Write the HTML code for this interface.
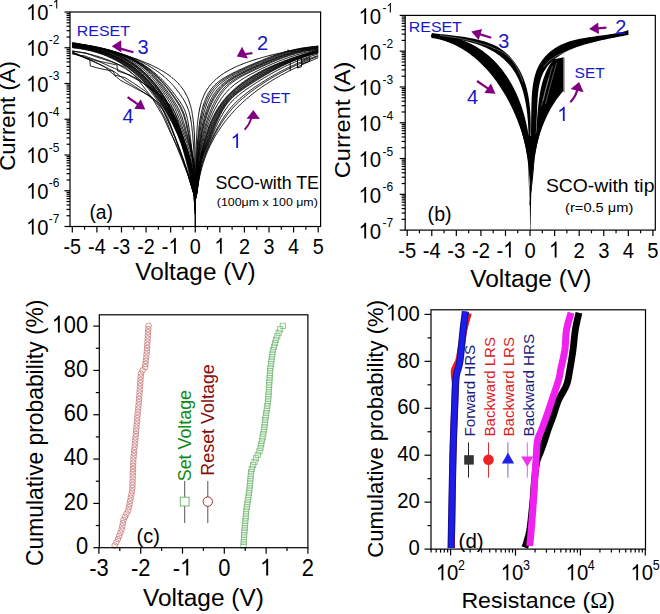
<!DOCTYPE html>
<html><head><meta charset="utf-8"><style>
html,body{margin:0;padding:0;background:#fff;overflow:hidden}
svg{display:block}
text{font-family:"Liberation Sans",sans-serif}
</style></head><body>
<svg width="660" height="614" viewBox="0 0 660 614">
<path d="M72.3 42.4 L73.3 42.6 L74.2 42.8 L75.2 43.0 L76.2 43.2 L77.1 43.4 L78.1 43.6 L79.1 43.8 L80.0 44.0 L81.0 44.2 L82.0 44.4 L82.9 44.6 L83.9 44.8 L84.9 45.0 L85.8 45.2 L86.8 45.4 L87.7 45.6 L88.7 45.8 L89.7 46.0 L90.6 46.2 L91.6 46.5 L92.5 46.7 L93.5 46.9 L94.5 47.1 L95.4 47.3 L96.4 47.6 L97.3 47.8 L98.3 48.0 L99.3 48.2 L100.2 48.5 L101.2 48.7 L102.1 48.9 L103.1 49.2 L104.1 49.4 L105.0 49.6 L106.0 49.9 L106.9 50.1 L107.9 50.4 L108.8 50.6 L109.8 50.9 L110.7 51.1 L111.7 51.4 L112.6 51.6 L113.6 51.9 L114.5 52.1 L115.5 52.4 L116.4 52.7 L117.4 53.0 L118.3 53.2 L119.3 53.5 L120.2 53.8 L121.2 54.1 L122.1 54.3 L123.1 54.6 L124.0 54.9 L124.9 55.2 L125.9 55.5 L126.8 55.8 L127.8 56.1 L128.7 56.4 L129.6 56.7 L130.6 57.0 L131.5 57.3 L132.4 57.6 L133.4 58.0 L134.3 58.3 L135.2 58.6 L136.1 58.9 L137.1 59.3 L138.0 59.6 L138.9 60.0 L139.8 60.3 L140.8 60.7 L141.7 61.0 L142.6 61.4 L143.5 61.7 L144.4 62.1 L145.3 62.5 L146.2 62.9 L147.2 63.3 L148.1 63.7 L149.0 64.1 L149.9 64.5 L150.8 64.9 L151.6 65.3 L152.5 65.7 L153.4 66.1 L154.3 66.6 L155.2 67.0 L156.1 67.4 L156.9 67.9 L157.8 68.4 L158.7 68.8 L159.5 69.3 L160.4 69.8 L161.3 70.3 L162.1 70.8 L163.0 71.3 L163.8 71.8 L164.6 72.3 L165.5 72.8 L166.3 73.4 L167.1 73.9 L167.9 74.5 L168.7 75.1 L169.5 75.7 L170.3 76.2 L171.1 76.8 L171.8 77.5 L172.6 78.1 L173.4 78.7 L174.1 79.4 L174.8 80.0 L175.6 80.7 L176.3 81.4 L177.0 82.1 L177.7 82.8 L178.3 83.5 L179.0 84.2 L179.6 85.0 L180.3 85.7 L180.9 86.5 L181.5 87.3 L182.1 88.0 L182.7 88.8 L183.2 89.7 L183.8 90.5 L184.3 91.3 L184.8 92.1 L185.3 93.0 L185.8 93.9 L186.3 94.7 L186.7 95.6 L187.1 96.5 L187.5 97.4 L187.9 98.3 L188.3 99.2 L188.7 100.1 L189.0 101.1 L189.3 102.0 L189.6 102.9 L189.9 103.9 L190.2 104.8 L190.5 105.7 L190.8 106.7 L191.0 107.6 L191.2 108.6 L191.5 109.6 L191.7 110.5 L191.9 111.5 L192.0 112.5 L192.2 113.4 L192.4 114.4 L192.5 115.4 L192.7 116.3 L192.8 117.3 L193.0 118.3 L193.1 119.3 L193.2 120.3 L193.3 121.2 L193.4 122.2 L193.5 123.2 L193.6 124.2 L193.7 125.2 L193.8 126.1 L193.9 127.1 L193.9 128.1 L194.0 129.1 L194.1 130.1 L194.1 131.1 L194.2 132.0 L194.3 133.0 L194.3 134.0 L194.4 135.0 L194.4 136.0 L194.4 137.0 L194.5 137.9 L194.5 138.9 L194.6 139.9 L194.6 140.9 L194.6 141.9 L194.7 142.9 L194.7 143.8 L194.7 144.8 L194.7 145.8 L194.8 146.8 L194.8 147.8 L194.8 148.8 L194.8 149.8 L194.9 150.7 L194.9 151.7 L194.9 152.7 L194.9 153.7 L194.9 154.7 L194.9 155.7 L195.0 156.7 L195.0 157.6 L195.0 158.6 L195.0 159.6 L195.0 160.6 L195.0 161.6 L195.0 162.6 L195.0 163.5 L195.0 164.5 L195.0 165.5 L195.0 166.5 L195.0 167.5 L195.1 168.5 L195.1 169.5 L195.1 170.4 L195.1 171.4 L195.1 172.4 L195.1 173.4 L195.1 174.4 L195.1 175.4 L195.1 176.4 L195.1 177.3 L195.1 178.3 L195.1 179.3 L195.1 180.3 L195.1 181.3 L195.1 182.3 L195.1 183.3 L195.2 184.2 L195.2 185.2 L195.2 186.2 L195.2 187.2 L195.2 188.2 L195.2 189.2 L195.2 190.1 L195.2 191.1 L195.2 192.1 L195.2 193.1 L195.2 194.1 L195.2 195.1 L195.2 196.1 L195.2 197.0 L195.2 198.0 L195.2 199.0 L195.2 200.0 M72.3 44.0 L73.3 44.1 L74.2 44.2 L75.2 44.3 L76.1 44.4 L77.1 44.6 L78.1 44.7 L79.0 44.8 L80.0 44.9 L80.9 45.1 L81.9 45.2 L82.9 45.3 L83.8 45.5 L84.8 45.6 L85.7 45.7 L86.7 45.9 L87.6 46.0 L88.6 46.2 L89.5 46.3 L90.5 46.5 L91.4 46.7 L92.4 46.8 L93.4 47.0 L94.3 47.2 L95.3 47.3 L96.2 47.5 L97.2 47.7 L98.1 47.9 L99.1 48.1 L100.0 48.3 L100.9 48.5 L101.9 48.7 L102.8 48.9 L103.8 49.1 L104.7 49.3 L105.7 49.5 L106.6 49.7 L107.5 50.0 L108.5 50.2 L109.4 50.4 L110.4 50.7 L111.3 50.9 L112.2 51.2 L113.2 51.4 L114.1 51.6 L115.0 51.9 L116.0 52.2 L116.9 52.5 L117.8 52.7 L118.7 53.0 L119.7 53.3 L120.6 53.6 L121.5 53.9 L122.4 54.2 L123.4 54.5 L124.3 54.8 L125.2 55.1 L126.1 55.4 L127.0 55.7 L127.9 56.1 L128.8 56.4 L129.7 56.8 L130.6 57.1 L131.5 57.5 L132.4 57.8 L133.3 58.2 L134.2 58.6 L135.1 58.9 L136.0 59.3 L136.9 59.7 L137.7 60.1 L138.6 60.5 L139.5 60.9 L140.4 61.4 L141.2 61.8 L142.1 62.2 L143.0 62.6 L143.8 63.1 L144.7 63.5 L145.5 64.0 L146.4 64.5 L147.2 64.9 L148.1 65.4 L148.9 65.9 L149.7 66.4 L150.6 66.9 L151.4 67.4 L152.2 67.9 L153.0 68.4 L153.8 68.9 L154.6 69.5 L155.4 70.0 L156.2 70.6 L157.0 71.1 L157.8 71.7 L158.6 72.3 L159.4 72.8 L160.2 73.4 L160.9 74.0 L161.7 74.6 L162.4 75.2 L163.2 75.8 L163.9 76.4 L164.6 77.1 L165.4 77.7 L166.1 78.4 L166.8 79.0 L167.5 79.7 L168.2 80.3 L168.9 81.0 L169.6 81.7 L170.3 82.4 L170.9 83.1 L171.6 83.8 L172.3 84.5 L172.9 85.2 L173.6 85.9 L174.2 86.7 L174.8 87.4 L175.4 88.1 L176.0 88.9 L176.6 89.7 L177.2 90.4 L177.8 91.2 L178.4 92.0 L179.0 92.7 L179.5 93.5 L180.1 94.3 L180.6 95.1 L181.2 95.9 L181.7 96.7 L182.2 97.5 L182.8 98.3 L183.3 99.2 L183.8 100.0 L184.3 100.8 L184.7 101.7 L185.2 102.5 L185.6 103.4 L186.1 104.3 L186.5 105.1 L186.9 106.0 L187.3 106.9 L187.6 107.8 L188.0 108.7 L188.3 109.6 L188.6 110.5 L188.9 111.4 L189.2 112.4 L189.4 113.3 L189.7 114.2 L189.9 115.2 L190.1 116.1 L190.3 117.1 L190.5 118.0 L190.7 119.0 L190.8 119.9 L191.0 120.9 L191.1 121.8 L191.3 122.8 L191.4 123.7 L191.5 124.7 L191.7 125.7 L191.8 126.6 L191.9 127.6 L192.0 128.5 L192.1 129.5 L192.2 130.5 L192.3 131.4 L192.4 132.4 L192.5 133.4 L192.6 134.3 L192.7 135.3 L192.8 136.2 L192.8 137.2 L192.9 138.2 L193.0 139.1 L193.1 140.1 L193.1 141.1 L193.2 142.0 L193.3 143.0 L193.4 144.0 L193.4 144.9 L193.5 145.9 L193.5 146.9 L193.6 147.8 L193.6 148.8 L193.7 149.7 L193.8 150.7 L193.8 151.7 L193.9 152.6 L193.9 153.6 L194.0 154.6 L194.0 155.5 L194.0 156.5 L194.1 157.5 L194.1 158.4 L194.2 159.4 L194.2 160.4 L194.2 161.3 L194.3 162.3 L194.3 163.3 L194.3 164.2 L194.4 165.2 L194.4 166.2 L194.4 167.1 L194.5 168.1 L194.5 169.1 L194.5 170.0 L194.6 171.0 L194.6 172.0 L194.6 172.9 L194.6 173.9 L194.7 174.9 L194.7 175.8 L194.7 176.8 L194.7 177.8 L194.7 178.7 L194.8 179.7 L194.8 180.7 L194.8 181.6 L194.8 182.6 L194.8 183.6 L194.8 184.5 L194.9 185.5 L194.9 186.5 L194.9 187.4 L194.9 188.4 L194.9 189.4 L194.9 190.3 L195.0 191.3 L195.0 192.3 L195.0 193.2 L195.0 194.2 L195.0 195.2 L195.1 196.1 L195.1 197.1 L195.2 198.1 L195.2 199.0 L195.2 200.0 M72.3 43.3 L73.2 43.4 L74.2 43.5 L75.1 43.6 L76.1 43.7 L77.0 43.8 L78.0 43.9 L78.9 44.1 L79.9 44.2 L80.8 44.3 L81.8 44.4 L82.7 44.6 L83.7 44.7 L84.6 44.8 L85.5 45.0 L86.5 45.1 L87.4 45.3 L88.4 45.4 L89.3 45.6 L90.2 45.7 L91.2 45.9 L92.1 46.1 L93.1 46.2 L94.0 46.4 L94.9 46.6 L95.9 46.8 L96.8 47.0 L97.7 47.2 L98.7 47.4 L99.6 47.6 L100.5 47.8 L101.5 48.0 L102.4 48.2 L103.3 48.4 L104.2 48.6 L105.2 48.9 L106.1 49.1 L107.0 49.3 L107.9 49.6 L108.9 49.8 L109.8 50.1 L110.7 50.4 L111.6 50.6 L112.5 50.9 L113.4 51.2 L114.3 51.4 L115.3 51.7 L116.2 52.0 L117.1 52.3 L118.0 52.6 L118.9 52.9 L119.8 53.3 L120.7 53.6 L121.6 53.9 L122.5 54.2 L123.3 54.6 L124.2 55.0 L125.1 55.3 L126.0 55.7 L126.9 56.0 L127.7 56.4 L128.6 56.8 L129.5 57.2 L130.4 57.6 L131.2 58.0 L132.1 58.4 L133.0 58.8 L133.8 59.2 L134.7 59.6 L135.5 60.1 L136.3 60.5 L137.2 61.0 L138.0 61.4 L138.9 61.9 L139.7 62.4 L140.5 62.8 L141.3 63.3 L142.1 63.8 L143.0 64.3 L143.8 64.8 L144.6 65.3 L145.4 65.9 L146.2 66.4 L146.9 66.9 L147.7 67.5 L148.5 68.0 L149.3 68.6 L150.0 69.2 L150.8 69.7 L151.6 70.3 L152.3 70.9 L153.1 71.5 L153.8 72.1 L154.5 72.7 L155.3 73.3 L156.0 73.9 L156.7 74.6 L157.4 75.2 L158.1 75.8 L158.8 76.5 L159.5 77.1 L160.2 77.8 L160.9 78.5 L161.6 79.1 L162.2 79.8 L162.9 80.5 L163.6 81.2 L164.2 81.9 L164.9 82.6 L165.5 83.3 L166.2 84.0 L166.8 84.7 L167.4 85.4 L168.0 86.1 L168.7 86.9 L169.3 87.6 L169.9 88.3 L170.5 89.1 L171.1 89.8 L171.7 90.5 L172.3 91.3 L172.8 92.0 L173.4 92.8 L174.0 93.6 L174.6 94.3 L175.2 95.1 L175.7 95.8 L176.3 96.6 L176.9 97.4 L177.4 98.1 L178.0 98.9 L178.6 99.7 L179.1 100.5 L179.6 101.2 L180.2 102.0 L180.7 102.8 L181.2 103.6 L181.7 104.4 L182.2 105.3 L182.7 106.1 L183.1 106.9 L183.6 107.8 L184.0 108.6 L184.4 109.5 L184.8 110.4 L185.1 111.3 L185.4 112.2 L185.8 113.1 L186.0 114.0 L186.3 114.9 L186.6 115.8 L186.8 116.7 L187.1 117.6 L187.3 118.6 L187.5 119.5 L187.7 120.4 L187.9 121.4 L188.1 122.3 L188.2 123.2 L188.4 124.2 L188.6 125.1 L188.7 126.1 L188.9 127.0 L189.0 127.9 L189.1 128.9 L189.3 129.8 L189.4 130.8 L189.6 131.7 L189.7 132.7 L189.8 133.6 L189.9 134.5 L190.1 135.5 L190.2 136.4 L190.3 137.4 L190.4 138.3 L190.6 139.3 L190.7 140.2 L190.8 141.2 L190.9 142.1 L191.0 143.1 L191.2 144.0 L191.3 144.9 L191.4 145.9 L191.5 146.8 L191.7 147.8 L191.8 148.7 L191.9 149.7 L192.1 150.6 L192.2 151.6 L192.3 152.5 L192.5 153.4 L192.6 154.4 L192.7 155.3 L192.9 156.3 L193.0 157.2 L193.2 158.2 L193.3 159.1 L193.5 160.0 L193.6 161.0 L193.8 161.9 L193.9 162.9 L194.0 163.8 L194.2 164.8 L194.3 165.7 L194.4 166.7 L194.4 167.6 L194.5 168.6 L194.6 169.5 L194.6 170.5 L194.7 171.4 L194.7 172.4 L194.7 173.3 L194.7 174.3 L194.8 175.2 L194.8 176.2 L194.8 177.1 L194.8 178.1 L194.8 179.0 L194.9 180.0 L194.9 180.9 L194.9 181.9 L194.9 182.8 L194.9 183.8 L194.9 184.8 L194.9 185.7 L194.9 186.7 L194.9 187.6 L195.0 188.6 L195.0 189.5 L195.0 190.5 L195.0 191.4 L195.0 192.4 L195.0 193.3 L195.0 194.3 L195.0 195.2 L195.1 196.2 L195.1 197.1 L195.2 198.1 L195.2 199.0 L195.2 200.0 M72.3 43.7 L73.2 43.8 L74.2 43.9 L75.1 44.0 L76.1 44.1 L77.0 44.2 L78.0 44.3 L78.9 44.5 L79.8 44.6 L80.8 44.7 L81.7 44.8 L82.7 44.9 L83.6 45.1 L84.5 45.2 L85.5 45.3 L86.4 45.5 L87.3 45.6 L88.3 45.8 L89.2 45.9 L90.2 46.0 L91.1 46.2 L92.0 46.4 L93.0 46.5 L93.9 46.7 L94.8 46.9 L95.7 47.1 L96.7 47.2 L97.6 47.4 L98.5 47.6 L99.5 47.8 L100.4 48.0 L101.3 48.2 L102.2 48.4 L103.2 48.7 L104.1 48.9 L105.0 49.1 L105.9 49.3 L106.8 49.6 L107.8 49.8 L108.7 50.1 L109.6 50.3 L110.5 50.6 L111.4 50.8 L112.3 51.1 L113.2 51.4 L114.1 51.6 L115.0 51.9 L115.9 52.2 L116.8 52.5 L117.7 52.8 L118.6 53.1 L119.5 53.5 L120.4 53.8 L121.3 54.1 L122.2 54.4 L123.1 54.8 L123.9 55.1 L124.8 55.5 L125.7 55.9 L126.6 56.2 L127.4 56.6 L128.3 57.0 L129.2 57.4 L130.0 57.8 L130.9 58.2 L131.7 58.6 L132.6 59.0 L133.4 59.5 L134.3 59.9 L135.1 60.3 L135.9 60.8 L136.8 61.2 L137.6 61.7 L138.4 62.2 L139.2 62.7 L140.0 63.2 L140.9 63.6 L141.7 64.1 L142.5 64.7 L143.2 65.2 L144.0 65.7 L144.8 66.2 L145.6 66.8 L146.4 67.3 L147.1 67.9 L147.9 68.5 L148.6 69.0 L149.4 69.6 L150.1 70.2 L150.9 70.8 L151.6 71.4 L152.3 72.0 L153.0 72.6 L153.8 73.2 L154.5 73.9 L155.2 74.5 L155.9 75.1 L156.6 75.8 L157.2 76.4 L157.9 77.1 L158.6 77.8 L159.3 78.4 L159.9 79.1 L160.6 79.8 L161.2 80.5 L161.9 81.2 L162.5 81.9 L163.1 82.6 L163.8 83.3 L164.4 84.0 L165.0 84.7 L165.6 85.5 L166.2 86.2 L166.8 86.9 L167.4 87.6 L168.0 88.4 L168.6 89.1 L169.2 89.9 L169.8 90.6 L170.3 91.4 L170.9 92.1 L171.5 92.9 L172.0 93.7 L172.6 94.4 L173.2 95.2 L173.7 95.9 L174.3 96.7 L174.8 97.5 L175.4 98.3 L175.9 99.0 L176.5 99.8 L177.0 100.6 L177.5 101.4 L178.1 102.2 L178.6 103.0 L179.1 103.8 L179.6 104.6 L180.1 105.4 L180.5 106.2 L181.0 107.0 L181.4 107.9 L181.8 108.7 L182.2 109.6 L182.6 110.4 L183.0 111.3 L183.3 112.2 L183.7 113.1 L184.0 114.0 L184.3 114.9 L184.6 115.8 L184.9 116.7 L185.1 117.6 L185.4 118.5 L185.7 119.4 L185.9 120.3 L186.1 121.2 L186.3 122.2 L186.5 123.1 L186.8 124.0 L187.0 124.9 L187.2 125.9 L187.4 126.8 L187.5 127.7 L187.7 128.6 L187.9 129.6 L188.1 130.5 L188.3 131.4 L188.5 132.3 L188.6 133.3 L188.8 134.2 L189.0 135.1 L189.2 136.0 L189.3 137.0 L189.5 137.9 L189.7 138.8 L189.8 139.8 L190.0 140.7 L190.2 141.6 L190.3 142.5 L190.5 143.5 L190.7 144.4 L190.8 145.3 L191.0 146.3 L191.1 147.2 L191.3 148.1 L191.4 149.1 L191.6 150.0 L191.8 150.9 L191.9 151.9 L192.1 152.8 L192.2 153.7 L192.4 154.7 L192.5 155.6 L192.7 156.5 L192.8 157.5 L193.0 158.4 L193.1 159.3 L193.3 160.3 L193.4 161.2 L193.6 162.2 L193.7 163.1 L193.8 164.0 L194.0 165.0 L194.1 165.9 L194.2 166.9 L194.2 167.8 L194.3 168.7 L194.4 169.7 L194.4 170.6 L194.5 171.6 L194.5 172.5 L194.6 173.5 L194.6 174.4 L194.6 175.4 L194.7 176.3 L194.7 177.3 L194.7 178.2 L194.7 179.2 L194.8 180.1 L194.8 181.1 L194.8 182.0 L194.8 183.0 L194.8 183.9 L194.8 184.8 L194.9 185.8 L194.9 186.7 L194.9 187.7 L194.9 188.6 L194.9 189.6 L194.9 190.5 L194.9 191.5 L194.9 192.4 L194.9 193.4 L194.9 194.3 L195.0 195.3 L195.0 196.2 L195.1 197.2 L195.1 198.1 L195.2 199.1 L195.2 200.0 M72.3 43.9 L73.2 44.0 L74.2 44.1 L75.1 44.2 L76.1 44.3 L77.0 44.4 L77.9 44.5 L78.9 44.6 L79.8 44.7 L80.8 44.9 L81.7 45.0 L82.6 45.1 L83.6 45.2 L84.5 45.3 L85.4 45.5 L86.4 45.6 L87.3 45.8 L88.2 45.9 L89.2 46.0 L90.1 46.2 L91.0 46.4 L92.0 46.5 L92.9 46.7 L93.8 46.8 L94.8 47.0 L95.7 47.2 L96.6 47.4 L97.5 47.6 L98.5 47.7 L99.4 47.9 L100.3 48.1 L101.2 48.3 L102.2 48.5 L103.1 48.8 L104.0 49.0 L104.9 49.2 L105.8 49.4 L106.8 49.7 L107.7 49.9 L108.6 50.1 L109.5 50.4 L110.4 50.7 L111.3 50.9 L112.2 51.2 L113.1 51.5 L114.0 51.7 L114.9 52.0 L115.8 52.3 L116.7 52.6 L117.6 52.9 L118.5 53.2 L119.4 53.5 L120.3 53.9 L121.2 54.2 L122.1 54.5 L122.9 54.9 L123.8 55.2 L124.7 55.6 L125.6 55.9 L126.4 56.3 L127.3 56.7 L128.2 57.1 L129.0 57.5 L129.9 57.9 L130.7 58.3 L131.6 58.7 L132.4 59.1 L133.3 59.6 L134.1 60.0 L134.9 60.4 L135.8 60.9 L136.6 61.4 L137.4 61.8 L138.2 62.3 L139.0 62.8 L139.8 63.3 L140.6 63.8 L141.4 64.3 L142.2 64.8 L143.0 65.3 L143.8 65.9 L144.6 66.4 L145.3 67.0 L146.1 67.5 L146.9 68.1 L147.6 68.7 L148.4 69.2 L149.1 69.8 L149.8 70.4 L150.6 71.0 L151.3 71.6 L152.0 72.2 L152.7 72.9 L153.4 73.5 L154.1 74.1 L154.8 74.8 L155.5 75.4 L156.2 76.1 L156.8 76.7 L157.5 77.4 L158.2 78.1 L158.8 78.7 L159.5 79.4 L160.1 80.1 L160.8 80.8 L161.4 81.5 L162.0 82.2 L162.7 82.9 L163.3 83.6 L163.9 84.3 L164.5 85.1 L165.1 85.8 L165.7 86.5 L166.3 87.3 L166.9 88.0 L167.5 88.7 L168.0 89.5 L168.6 90.2 L169.2 91.0 L169.7 91.8 L170.3 92.5 L170.9 93.3 L171.4 94.0 L172.0 94.8 L172.5 95.6 L173.1 96.3 L173.6 97.1 L174.2 97.9 L174.7 98.6 L175.3 99.4 L175.8 100.2 L176.3 101.0 L176.8 101.8 L177.3 102.6 L177.9 103.4 L178.3 104.2 L178.8 105.0 L179.3 105.8 L179.8 106.6 L180.2 107.5 L180.6 108.3 L181.0 109.1 L181.4 110.0 L181.8 110.9 L182.2 111.7 L182.6 112.6 L182.9 113.5 L183.2 114.4 L183.5 115.3 L183.8 116.2 L184.1 117.1 L184.4 118.0 L184.7 118.9 L184.9 119.8 L185.2 120.7 L185.4 121.6 L185.6 122.5 L185.9 123.4 L186.1 124.4 L186.3 125.3 L186.5 126.2 L186.7 127.1 L187.0 128.0 L187.2 128.9 L187.4 129.9 L187.6 130.8 L187.8 131.7 L188.0 132.6 L188.2 133.5 L188.4 134.4 L188.6 135.4 L188.7 136.3 L188.9 137.2 L189.1 138.1 L189.3 139.0 L189.5 140.0 L189.7 140.9 L189.9 141.8 L190.1 142.7 L190.2 143.7 L190.4 144.6 L190.6 145.5 L190.8 146.4 L191.0 147.4 L191.1 148.3 L191.3 149.2 L191.5 150.1 L191.6 151.1 L191.8 152.0 L191.9 152.9 L192.1 153.9 L192.3 154.8 L192.4 155.7 L192.6 156.7 L192.7 157.6 L192.9 158.5 L193.0 159.5 L193.2 160.4 L193.3 161.3 L193.5 162.3 L193.6 163.2 L193.7 164.1 L193.9 165.1 L194.0 166.0 L194.1 167.0 L194.2 167.9 L194.2 168.8 L194.3 169.8 L194.4 170.7 L194.4 171.7 L194.4 172.6 L194.5 173.6 L194.5 174.5 L194.6 175.4 L194.6 176.4 L194.6 177.3 L194.7 178.3 L194.7 179.2 L194.7 180.2 L194.7 181.1 L194.7 182.1 L194.8 183.0 L194.8 183.9 L194.8 184.9 L194.8 185.8 L194.8 186.8 L194.8 187.7 L194.9 188.7 L194.9 189.6 L194.9 190.6 L194.9 191.5 L194.9 192.4 L194.9 193.4 L194.9 194.3 L195.0 195.3 L195.0 196.2 L195.1 197.2 L195.1 198.1 L195.2 199.1 L195.2 200.0 M72.3 44.4 L73.2 44.5 L74.2 44.6 L75.1 44.7 L76.0 44.8 L77.0 44.9 L77.9 45.0 L78.8 45.1 L79.8 45.2 L80.7 45.3 L81.6 45.4 L82.6 45.5 L83.5 45.6 L84.4 45.7 L85.4 45.9 L86.3 46.0 L87.2 46.1 L88.2 46.3 L89.1 46.4 L90.0 46.5 L90.9 46.7 L91.9 46.8 L92.8 47.0 L93.7 47.1 L94.6 47.3 L95.6 47.5 L96.5 47.7 L97.4 47.8 L98.3 48.0 L99.3 48.2 L100.2 48.4 L101.1 48.6 L102.0 48.8 L102.9 49.0 L103.8 49.2 L104.8 49.4 L105.7 49.7 L106.6 49.9 L107.5 50.1 L108.4 50.4 L109.3 50.6 L110.2 50.9 L111.1 51.1 L112.0 51.4 L112.9 51.7 L113.8 51.9 L114.7 52.2 L115.6 52.5 L116.5 52.8 L117.4 53.1 L118.3 53.4 L119.1 53.7 L120.0 54.1 L120.9 54.4 L121.8 54.7 L122.7 55.1 L123.5 55.4 L124.4 55.8 L125.3 56.2 L126.1 56.5 L127.0 56.9 L127.8 57.3 L128.7 57.7 L129.5 58.1 L130.4 58.5 L131.2 59.0 L132.0 59.4 L132.9 59.8 L133.7 60.3 L134.5 60.7 L135.3 61.2 L136.1 61.7 L137.0 62.1 L137.8 62.6 L138.6 63.1 L139.3 63.6 L140.1 64.1 L140.9 64.6 L141.7 65.2 L142.5 65.7 L143.2 66.3 L144.0 66.8 L144.7 67.4 L145.5 67.9 L146.2 68.5 L146.9 69.1 L147.7 69.7 L148.4 70.3 L149.1 70.9 L149.8 71.5 L150.5 72.2 L151.2 72.8 L151.9 73.4 L152.6 74.1 L153.3 74.7 L153.9 75.4 L154.6 76.0 L155.2 76.7 L155.9 77.4 L156.5 78.1 L157.2 78.7 L157.8 79.4 L158.4 80.1 L159.1 80.8 L159.7 81.6 L160.3 82.3 L160.9 83.0 L161.5 83.7 L162.1 84.4 L162.7 85.2 L163.3 85.9 L163.8 86.6 L164.4 87.4 L165.0 88.1 L165.5 88.9 L166.1 89.6 L166.7 90.4 L167.2 91.1 L167.8 91.9 L168.3 92.6 L168.9 93.4 L169.4 94.2 L169.9 94.9 L170.5 95.7 L171.0 96.5 L171.5 97.3 L172.1 98.0 L172.6 98.8 L173.1 99.6 L173.6 100.4 L174.1 101.2 L174.6 102.0 L175.1 102.8 L175.6 103.6 L176.1 104.4 L176.6 105.2 L177.0 106.0 L177.5 106.8 L177.9 107.6 L178.4 108.5 L178.8 109.3 L179.2 110.2 L179.6 111.0 L179.9 111.9 L180.3 112.7 L180.7 113.6 L181.0 114.5 L181.3 115.4 L181.7 116.3 L182.0 117.1 L182.3 118.0 L182.6 118.9 L182.9 119.8 L183.1 120.7 L183.4 121.6 L183.7 122.5 L184.0 123.4 L184.2 124.3 L184.5 125.2 L184.8 126.1 L185.0 127.0 L185.3 127.9 L185.5 128.8 L185.8 129.7 L186.0 130.6 L186.3 131.5 L186.5 132.4 L186.8 133.3 L187.0 134.2 L187.3 135.1 L187.5 136.0 L187.8 136.9 L188.0 137.8 L188.2 138.7 L188.5 139.6 L188.7 140.5 L189.0 141.4 L189.2 142.3 L189.4 143.2 L189.6 144.1 L189.9 145.0 L190.1 145.9 L190.3 146.8 L190.5 147.8 L190.7 148.7 L190.9 149.6 L191.1 150.5 L191.3 151.4 L191.5 152.3 L191.7 153.3 L191.9 154.2 L192.0 155.1 L192.2 156.0 L192.4 157.0 L192.5 157.9 L192.7 158.8 L192.8 159.7 L193.0 160.7 L193.1 161.6 L193.3 162.5 L193.4 163.4 L193.5 164.4 L193.6 165.3 L193.8 166.2 L193.9 167.2 L193.9 168.1 L194.0 169.0 L194.1 170.0 L194.2 170.9 L194.2 171.9 L194.3 172.8 L194.3 173.7 L194.4 174.7 L194.4 175.6 L194.5 176.5 L194.5 177.5 L194.5 178.4 L194.6 179.4 L194.6 180.3 L194.6 181.2 L194.6 182.2 L194.7 183.1 L194.7 184.1 L194.7 185.0 L194.7 185.9 L194.8 186.9 L194.8 187.8 L194.8 188.7 L194.8 189.7 L194.8 190.6 L194.8 191.6 L194.8 192.5 L194.9 193.4 L194.9 194.4 L194.9 195.3 L195.0 196.3 L195.0 197.2 L195.1 198.1 L195.2 199.1 L195.2 200.0 M72.3 44.8 L73.2 44.8 L74.2 44.9 L75.1 45.0 L76.0 45.1 L77.0 45.2 L77.9 45.3 L78.8 45.4 L79.7 45.5 L80.7 45.6 L81.6 45.7 L82.5 45.8 L83.5 45.9 L84.4 46.0 L85.3 46.1 L86.2 46.2 L87.2 46.4 L88.1 46.5 L89.0 46.6 L89.9 46.8 L90.9 46.9 L91.8 47.1 L92.7 47.2 L93.6 47.4 L94.6 47.5 L95.5 47.7 L96.4 47.9 L97.3 48.0 L98.2 48.2 L99.2 48.4 L100.1 48.6 L101.0 48.8 L101.9 49.0 L102.8 49.2 L103.7 49.4 L104.6 49.6 L105.5 49.8 L106.4 50.1 L107.3 50.3 L108.3 50.5 L109.2 50.8 L110.1 51.0 L111.0 51.3 L111.9 51.6 L112.7 51.8 L113.6 52.1 L114.5 52.4 L115.4 52.7 L116.3 53.0 L117.2 53.3 L118.1 53.6 L119.0 53.9 L119.8 54.2 L120.7 54.6 L121.6 54.9 L122.4 55.2 L123.3 55.6 L124.2 56.0 L125.0 56.3 L125.9 56.7 L126.7 57.1 L127.6 57.5 L128.4 57.9 L129.3 58.3 L130.1 58.7 L130.9 59.1 L131.8 59.6 L132.6 60.0 L133.4 60.5 L134.2 60.9 L135.0 61.4 L135.8 61.9 L136.6 62.3 L137.4 62.8 L138.2 63.3 L139.0 63.9 L139.8 64.4 L140.6 64.9 L141.3 65.4 L142.1 66.0 L142.8 66.5 L143.6 67.1 L144.3 67.7 L145.0 68.2 L145.8 68.8 L146.5 69.4 L147.2 70.0 L147.9 70.6 L148.6 71.3 L149.3 71.9 L150.0 72.5 L150.7 73.2 L151.3 73.8 L152.0 74.5 L152.7 75.1 L153.3 75.8 L154.0 76.5 L154.6 77.2 L155.2 77.8 L155.9 78.5 L156.5 79.2 L157.1 79.9 L157.7 80.6 L158.3 81.3 L158.9 82.1 L159.5 82.8 L160.1 83.5 L160.7 84.2 L161.3 85.0 L161.8 85.7 L162.4 86.5 L163.0 87.2 L163.5 87.9 L164.1 88.7 L164.6 89.5 L165.2 90.2 L165.7 91.0 L166.3 91.7 L166.8 92.5 L167.3 93.3 L167.9 94.0 L168.4 94.8 L168.9 95.6 L169.4 96.4 L170.0 97.1 L170.5 97.9 L171.0 98.7 L171.5 99.5 L172.0 100.3 L172.5 101.0 L173.0 101.8 L173.5 102.6 L174.0 103.4 L174.4 104.2 L174.9 105.0 L175.4 105.9 L175.8 106.7 L176.2 107.5 L176.7 108.3 L177.1 109.2 L177.5 110.0 L177.9 110.9 L178.3 111.7 L178.6 112.6 L179.0 113.5 L179.3 114.3 L179.7 115.2 L180.0 116.1 L180.4 116.9 L180.7 117.8 L181.0 118.7 L181.3 119.6 L181.6 120.5 L181.9 121.3 L182.2 122.2 L182.5 123.1 L182.8 124.0 L183.1 124.9 L183.4 125.8 L183.7 126.6 L184.0 127.5 L184.3 128.4 L184.5 129.3 L184.8 130.2 L185.1 131.1 L185.4 132.0 L185.7 132.9 L186.0 133.7 L186.2 134.6 L186.5 135.5 L186.8 136.4 L187.1 137.3 L187.4 138.2 L187.6 139.1 L187.9 140.0 L188.2 140.9 L188.4 141.7 L188.7 142.6 L189.0 143.5 L189.2 144.4 L189.5 145.3 L189.7 146.2 L190.0 147.1 L190.2 148.0 L190.4 148.9 L190.6 149.8 L190.9 150.8 L191.1 151.7 L191.3 152.6 L191.5 153.5 L191.7 154.4 L191.9 155.3 L192.0 156.2 L192.2 157.2 L192.4 158.1 L192.5 159.0 L192.7 159.9 L192.8 160.8 L193.0 161.8 L193.1 162.7 L193.3 163.6 L193.4 164.5 L193.5 165.5 L193.6 166.4 L193.7 167.3 L193.8 168.3 L193.9 169.2 L194.0 170.1 L194.0 171.1 L194.1 172.0 L194.1 172.9 L194.2 173.9 L194.3 174.8 L194.3 175.7 L194.4 176.7 L194.4 177.6 L194.4 178.5 L194.5 179.5 L194.5 180.4 L194.5 181.3 L194.6 182.3 L194.6 183.2 L194.6 184.1 L194.6 185.1 L194.7 186.0 L194.7 186.9 L194.7 187.9 L194.7 188.8 L194.8 189.7 L194.8 190.7 L194.8 191.6 L194.8 192.5 L194.8 193.5 L194.8 194.4 L194.9 195.3 L194.9 196.3 L195.0 197.2 L195.1 198.1 L195.2 199.1 L195.2 200.0 M72.3 45.2 L73.2 45.2 L74.2 45.3 L75.1 45.4 L76.0 45.5 L76.9 45.5 L77.9 45.6 L78.8 45.7 L79.7 45.8 L80.6 45.9 L81.6 46.0 L82.5 46.1 L83.4 46.2 L84.3 46.3 L85.3 46.4 L86.2 46.6 L87.1 46.7 L88.0 46.8 L88.9 46.9 L89.9 47.1 L90.8 47.2 L91.7 47.3 L92.6 47.5 L93.5 47.6 L94.5 47.8 L95.4 47.9 L96.3 48.1 L97.2 48.3 L98.1 48.4 L99.0 48.6 L99.9 48.8 L100.9 49.0 L101.8 49.2 L102.7 49.4 L103.6 49.6 L104.5 49.8 L105.4 50.0 L106.3 50.3 L107.2 50.5 L108.1 50.7 L109.0 51.0 L109.9 51.2 L110.8 51.5 L111.7 51.7 L112.6 52.0 L113.5 52.3 L114.3 52.5 L115.2 52.8 L116.1 53.1 L117.0 53.4 L117.9 53.7 L118.7 54.1 L119.6 54.4 L120.5 54.7 L121.3 55.1 L122.2 55.4 L123.1 55.8 L123.9 56.1 L124.8 56.5 L125.6 56.9 L126.5 57.3 L127.3 57.7 L128.1 58.1 L129.0 58.5 L129.8 58.9 L130.6 59.3 L131.5 59.8 L132.3 60.2 L133.1 60.7 L133.9 61.1 L134.7 61.6 L135.5 62.1 L136.3 62.6 L137.0 63.1 L137.8 63.6 L138.6 64.1 L139.4 64.6 L140.1 65.2 L140.9 65.7 L141.6 66.3 L142.4 66.8 L143.1 67.4 L143.8 68.0 L144.5 68.6 L145.2 69.2 L145.9 69.8 L146.6 70.4 L147.3 71.0 L148.0 71.7 L148.7 72.3 L149.4 73.0 L150.0 73.6 L150.7 74.3 L151.3 74.9 L152.0 75.6 L152.6 76.3 L153.2 77.0 L153.8 77.7 L154.5 78.4 L155.1 79.1 L155.7 79.8 L156.3 80.5 L156.9 81.2 L157.4 81.9 L158.0 82.7 L158.6 83.4 L159.2 84.1 L159.7 84.9 L160.3 85.6 L160.8 86.4 L161.4 87.1 L161.9 87.9 L162.5 88.6 L163.0 89.4 L163.5 90.2 L164.1 90.9 L164.6 91.7 L165.1 92.5 L165.6 93.2 L166.2 94.0 L166.7 94.8 L167.2 95.5 L167.7 96.3 L168.2 97.1 L168.7 97.9 L169.2 98.7 L169.7 99.4 L170.2 100.2 L170.7 101.0 L171.2 101.8 L171.7 102.6 L172.1 103.4 L172.6 104.2 L173.0 105.0 L173.5 105.9 L173.9 106.7 L174.4 107.5 L174.8 108.3 L175.2 109.2 L175.6 110.0 L176.0 110.9 L176.3 111.7 L176.7 112.6 L177.1 113.4 L177.4 114.3 L177.8 115.1 L178.1 116.0 L178.5 116.9 L178.8 117.7 L179.2 118.6 L179.5 119.5 L179.8 120.3 L180.1 121.2 L180.5 122.1 L180.8 122.9 L181.1 123.8 L181.4 124.7 L181.8 125.6 L182.1 126.4 L182.4 127.3 L182.7 128.2 L183.1 129.1 L183.4 129.9 L183.7 130.8 L184.0 131.7 L184.4 132.5 L184.7 133.4 L185.0 134.3 L185.3 135.2 L185.6 136.0 L186.0 136.9 L186.3 137.8 L186.6 138.7 L186.9 139.5 L187.2 140.4 L187.5 141.3 L187.8 142.2 L188.2 143.0 L188.4 143.9 L188.7 144.8 L189.0 145.7 L189.3 146.6 L189.6 147.5 L189.8 148.4 L190.1 149.2 L190.3 150.1 L190.6 151.0 L190.8 151.9 L191.0 152.8 L191.3 153.8 L191.5 154.7 L191.7 155.6 L191.9 156.5 L192.0 157.4 L192.2 158.3 L192.4 159.2 L192.5 160.1 L192.7 161.1 L192.8 162.0 L193.0 162.9 L193.1 163.8 L193.2 164.7 L193.3 165.7 L193.4 166.6 L193.5 167.5 L193.6 168.4 L193.7 169.4 L193.8 170.3 L193.9 171.2 L193.9 172.1 L194.0 173.1 L194.1 174.0 L194.1 174.9 L194.2 175.9 L194.2 176.8 L194.3 177.7 L194.3 178.6 L194.4 179.6 L194.4 180.5 L194.4 181.4 L194.5 182.4 L194.5 183.3 L194.5 184.2 L194.6 185.1 L194.6 186.1 L194.6 187.0 L194.7 187.9 L194.7 188.9 L194.7 189.8 L194.7 190.7 L194.7 191.7 L194.8 192.6 L194.8 193.5 L194.8 194.4 L194.8 195.4 L194.9 196.3 L195.0 197.2 L195.1 198.1 L195.2 199.1 L195.2 200.0 M72.3 44.2 L73.2 44.3 L74.1 44.4 L75.1 44.5 L76.0 44.6 L76.9 44.6 L77.8 44.7 L78.7 44.8 L79.7 45.0 L80.6 45.1 L81.5 45.2 L82.4 45.3 L83.3 45.4 L84.2 45.5 L85.2 45.7 L86.1 45.8 L87.0 46.0 L87.9 46.1 L88.8 46.2 L89.7 46.4 L90.6 46.6 L91.6 46.7 L92.5 46.9 L93.4 47.1 L94.3 47.2 L95.2 47.4 L96.1 47.6 L97.0 47.8 L97.9 48.0 L98.8 48.2 L99.7 48.4 L100.6 48.6 L101.5 48.9 L102.4 49.1 L103.3 49.3 L104.2 49.6 L105.1 49.8 L106.0 50.0 L106.9 50.3 L107.7 50.6 L108.6 50.9 L109.5 51.1 L110.4 51.4 L111.3 51.7 L112.1 52.0 L113.0 52.3 L113.9 52.6 L114.8 52.9 L115.6 53.3 L116.5 53.6 L117.3 53.9 L118.2 54.3 L119.1 54.6 L119.9 55.0 L120.8 55.3 L121.6 55.7 L122.4 56.1 L123.3 56.5 L124.1 56.9 L124.9 57.3 L125.8 57.7 L126.6 58.1 L127.4 58.6 L128.2 59.0 L129.0 59.4 L129.8 59.9 L130.6 60.4 L131.4 60.8 L132.2 61.3 L133.0 61.8 L133.8 62.3 L134.6 62.8 L135.3 63.3 L136.1 63.8 L136.9 64.3 L137.6 64.9 L138.4 65.4 L139.1 66.0 L139.9 66.5 L140.6 67.1 L141.3 67.7 L142.0 68.2 L142.7 68.8 L143.5 69.4 L144.2 70.0 L144.9 70.6 L145.5 71.3 L146.2 71.9 L146.9 72.5 L147.6 73.2 L148.2 73.8 L148.9 74.5 L149.5 75.1 L150.2 75.8 L150.8 76.5 L151.4 77.1 L152.1 77.8 L152.7 78.5 L153.3 79.2 L153.9 79.9 L154.5 80.6 L155.1 81.3 L155.7 82.0 L156.3 82.7 L156.8 83.5 L157.4 84.2 L158.0 84.9 L158.5 85.7 L159.1 86.4 L159.6 87.2 L160.2 87.9 L160.7 88.6 L161.3 89.4 L161.8 90.2 L162.3 90.9 L162.9 91.7 L163.4 92.5 L163.9 93.2 L164.4 94.0 L164.9 94.8 L165.4 95.5 L165.9 96.3 L166.4 97.1 L166.9 97.9 L167.4 98.7 L167.9 99.5 L168.3 100.2 L168.8 101.0 L169.3 101.8 L169.8 102.6 L170.2 103.4 L170.7 104.2 L171.1 105.0 L171.6 105.9 L172.0 106.7 L172.4 107.5 L172.9 108.3 L173.3 109.1 L173.7 110.0 L174.1 110.8 L174.5 111.6 L174.9 112.5 L175.3 113.3 L175.7 114.2 L176.0 115.0 L176.4 115.9 L176.8 116.7 L177.1 117.6 L177.5 118.4 L177.9 119.3 L178.2 120.1 L178.6 121.0 L178.9 121.8 L179.2 122.7 L179.6 123.5 L179.9 124.4 L180.3 125.3 L180.6 126.1 L180.9 127.0 L181.3 127.9 L181.6 128.7 L181.9 129.6 L182.2 130.4 L182.6 131.3 L182.9 132.2 L183.2 133.0 L183.5 133.9 L183.9 134.8 L184.2 135.7 L184.5 136.5 L184.8 137.4 L185.1 138.3 L185.4 139.1 L185.7 140.0 L186.1 140.9 L186.4 141.8 L186.7 142.6 L187.0 143.5 L187.2 144.4 L187.5 145.3 L187.8 146.1 L188.1 147.0 L188.4 147.9 L188.7 148.8 L188.9 149.7 L189.2 150.6 L189.4 151.5 L189.7 152.3 L189.9 153.2 L190.2 154.1 L190.4 155.0 L190.6 155.9 L190.8 156.8 L191.0 157.7 L191.2 158.6 L191.4 159.5 L191.6 160.4 L191.8 161.3 L192.0 162.2 L192.1 163.2 L192.3 164.1 L192.4 165.0 L192.6 165.9 L192.7 166.8 L192.8 167.7 L193.0 168.6 L193.1 169.6 L193.2 170.5 L193.3 171.4 L193.4 172.3 L193.5 173.2 L193.6 174.2 L193.7 175.1 L193.7 176.0 L193.8 176.9 L193.9 177.8 L194.0 178.8 L194.0 179.7 L194.1 180.6 L194.1 181.5 L194.2 182.5 L194.3 183.4 L194.3 184.3 L194.4 185.2 L194.4 186.2 L194.4 187.1 L194.5 188.0 L194.5 188.9 L194.6 189.9 L194.6 190.8 L194.6 191.7 L194.7 192.6 L194.7 193.5 L194.7 194.5 L194.8 195.4 L194.9 196.3 L195.0 197.2 L195.1 198.2 L195.2 199.1 L195.2 200.0 M72.3 43.2 L73.2 43.3 L74.1 43.4 L75.0 43.5 L76.0 43.6 L76.9 43.7 L77.8 43.8 L78.7 43.9 L79.6 44.1 L80.5 44.2 L81.4 44.3 L82.3 44.5 L83.3 44.6 L84.2 44.7 L85.1 44.9 L86.0 45.1 L86.9 45.2 L87.8 45.4 L88.7 45.5 L89.6 45.7 L90.5 45.9 L91.4 46.1 L92.3 46.3 L93.2 46.5 L94.1 46.7 L95.0 46.9 L95.9 47.1 L96.8 47.3 L97.7 47.5 L98.6 47.8 L99.4 48.0 L100.3 48.3 L101.2 48.5 L102.1 48.8 L103.0 49.0 L103.9 49.3 L104.7 49.6 L105.6 49.8 L106.5 50.1 L107.4 50.4 L108.2 50.7 L109.1 51.0 L110.0 51.3 L110.8 51.7 L111.7 52.0 L112.6 52.3 L113.4 52.7 L114.3 53.0 L115.1 53.4 L116.0 53.7 L116.8 54.1 L117.6 54.5 L118.5 54.9 L119.3 55.3 L120.1 55.6 L121.0 56.0 L121.8 56.5 L122.6 56.9 L123.4 57.3 L124.2 57.7 L125.0 58.2 L125.8 58.6 L126.6 59.1 L127.4 59.5 L128.2 60.0 L129.0 60.5 L129.8 61.0 L130.6 61.5 L131.3 62.0 L132.1 62.5 L132.9 63.0 L133.6 63.5 L134.4 64.0 L135.1 64.6 L135.9 65.1 L136.6 65.7 L137.4 66.2 L138.1 66.8 L138.8 67.3 L139.5 67.9 L140.2 68.5 L141.0 69.1 L141.6 69.7 L142.3 70.3 L143.0 70.9 L143.7 71.5 L144.4 72.1 L145.1 72.8 L145.7 73.4 L146.4 74.0 L147.0 74.7 L147.7 75.3 L148.3 76.0 L149.0 76.7 L149.6 77.3 L150.2 78.0 L150.9 78.7 L151.5 79.4 L152.1 80.1 L152.7 80.8 L153.3 81.5 L153.9 82.2 L154.5 82.9 L155.0 83.6 L155.6 84.3 L156.2 85.0 L156.8 85.8 L157.3 86.5 L157.9 87.2 L158.4 88.0 L159.0 88.7 L159.5 89.4 L160.0 90.2 L160.5 91.0 L161.1 91.7 L161.6 92.5 L162.1 93.2 L162.6 94.0 L163.1 94.8 L163.6 95.6 L164.1 96.3 L164.6 97.1 L165.1 97.9 L165.5 98.7 L166.0 99.5 L166.5 100.3 L166.9 101.1 L167.4 101.9 L167.8 102.7 L168.3 103.5 L168.7 104.3 L169.2 105.1 L169.6 105.9 L170.1 106.7 L170.5 107.5 L170.9 108.3 L171.3 109.2 L171.7 110.0 L172.2 110.8 L172.6 111.6 L173.0 112.4 L173.4 113.3 L173.8 114.1 L174.2 114.9 L174.6 115.8 L175.0 116.6 L175.4 117.4 L175.7 118.3 L176.1 119.1 L176.5 119.9 L176.9 120.8 L177.2 121.6 L177.6 122.5 L178.0 123.3 L178.3 124.2 L178.7 125.0 L179.0 125.9 L179.4 126.7 L179.7 127.6 L180.1 128.4 L180.4 129.3 L180.7 130.1 L181.1 131.0 L181.4 131.9 L181.7 132.7 L182.0 133.6 L182.4 134.4 L182.7 135.3 L183.0 136.2 L183.3 137.0 L183.6 137.9 L183.9 138.8 L184.2 139.6 L184.5 140.5 L184.8 141.4 L185.1 142.2 L185.4 143.1 L185.7 144.0 L186.0 144.9 L186.3 145.7 L186.6 146.6 L186.9 147.5 L187.1 148.4 L187.4 149.2 L187.7 150.1 L188.0 151.0 L188.2 151.9 L188.5 152.8 L188.8 153.6 L189.0 154.5 L189.3 155.4 L189.5 156.3 L189.8 157.2 L190.0 158.1 L190.2 159.0 L190.5 159.8 L190.7 160.7 L190.9 161.6 L191.1 162.5 L191.3 163.4 L191.5 164.3 L191.6 165.2 L191.8 166.1 L192.0 167.1 L192.1 168.0 L192.3 168.9 L192.4 169.8 L192.6 170.7 L192.7 171.6 L192.8 172.5 L192.9 173.4 L193.1 174.3 L193.2 175.2 L193.3 176.2 L193.4 177.1 L193.5 178.0 L193.6 178.9 L193.7 179.8 L193.7 180.7 L193.8 181.7 L193.9 182.6 L194.0 183.5 L194.0 184.4 L194.1 185.3 L194.2 186.2 L194.2 187.2 L194.3 188.1 L194.4 189.0 L194.4 189.9 L194.5 190.8 L194.5 191.8 L194.6 192.7 L194.6 193.6 L194.7 194.5 L194.7 195.4 L194.8 196.3 L194.9 197.3 L195.0 198.2 L195.1 199.1 L195.2 200.0 M72.3 43.5 L73.2 43.6 L74.1 43.7 L75.0 43.8 L75.9 43.9 L76.9 44.0 L77.8 44.1 L78.7 44.2 L79.6 44.4 L80.5 44.5 L81.4 44.6 L82.3 44.8 L83.2 44.9 L84.1 45.1 L85.0 45.2 L85.9 45.4 L86.8 45.5 L87.7 45.7 L88.6 45.9 L89.5 46.0 L90.4 46.2 L91.3 46.4 L92.2 46.6 L93.1 46.8 L94.0 47.0 L94.9 47.2 L95.8 47.4 L96.7 47.6 L97.6 47.9 L98.5 48.1 L99.4 48.4 L100.3 48.6 L101.1 48.8 L102.0 49.1 L102.9 49.4 L103.8 49.6 L104.7 49.9 L105.5 50.2 L106.4 50.5 L107.3 50.8 L108.1 51.1 L109.0 51.4 L109.9 51.7 L110.7 52.0 L111.6 52.4 L112.4 52.7 L113.3 53.0 L114.1 53.4 L115.0 53.8 L115.8 54.1 L116.7 54.5 L117.5 54.9 L118.3 55.2 L119.2 55.6 L120.0 56.0 L120.8 56.4 L121.6 56.9 L122.4 57.3 L123.3 57.7 L124.1 58.1 L124.9 58.6 L125.7 59.0 L126.5 59.5 L127.3 60.0 L128.0 60.4 L128.8 60.9 L129.6 61.4 L130.4 61.9 L131.1 62.4 L131.9 62.9 L132.7 63.4 L133.4 63.9 L134.2 64.5 L134.9 65.0 L135.7 65.5 L136.4 66.1 L137.1 66.7 L137.8 67.2 L138.6 67.8 L139.3 68.4 L140.0 68.9 L140.7 69.5 L141.4 70.1 L142.1 70.7 L142.8 71.3 L143.5 72.0 L144.1 72.6 L144.8 73.2 L145.5 73.8 L146.1 74.5 L146.8 75.1 L147.4 75.8 L148.1 76.4 L148.7 77.1 L149.3 77.8 L150.0 78.4 L150.6 79.1 L151.2 79.8 L151.8 80.5 L152.4 81.2 L153.0 81.9 L153.6 82.6 L154.2 83.3 L154.7 84.0 L155.3 84.7 L155.9 85.4 L156.4 86.2 L157.0 86.9 L157.6 87.6 L158.1 88.4 L158.6 89.1 L159.2 89.8 L159.7 90.6 L160.2 91.3 L160.8 92.1 L161.3 92.9 L161.8 93.6 L162.3 94.4 L162.8 95.2 L163.3 95.9 L163.8 96.7 L164.3 97.5 L164.7 98.3 L165.2 99.1 L165.7 99.8 L166.2 100.6 L166.6 101.4 L167.1 102.2 L167.5 103.0 L168.0 103.8 L168.4 104.6 L168.9 105.4 L169.3 106.2 L169.8 107.0 L170.2 107.8 L170.6 108.7 L171.1 109.5 L171.5 110.3 L171.9 111.1 L172.3 111.9 L172.7 112.7 L173.1 113.6 L173.5 114.4 L173.9 115.2 L174.3 116.0 L174.7 116.9 L175.1 117.7 L175.5 118.5 L175.9 119.4 L176.2 120.2 L176.6 121.1 L177.0 121.9 L177.3 122.7 L177.7 123.6 L178.1 124.4 L178.4 125.3 L178.8 126.1 L179.1 127.0 L179.5 127.8 L179.8 128.7 L180.2 129.5 L180.5 130.4 L180.8 131.2 L181.2 132.1 L181.5 132.9 L181.8 133.8 L182.1 134.7 L182.5 135.5 L182.8 136.4 L183.1 137.2 L183.4 138.1 L183.7 139.0 L184.0 139.8 L184.3 140.7 L184.6 141.6 L184.9 142.4 L185.2 143.3 L185.5 144.2 L185.8 145.1 L186.1 145.9 L186.4 146.8 L186.6 147.7 L186.9 148.5 L187.2 149.4 L187.5 150.3 L187.8 151.2 L188.0 152.0 L188.3 152.9 L188.6 153.8 L188.8 154.7 L189.1 155.6 L189.3 156.4 L189.6 157.3 L189.8 158.2 L190.0 159.1 L190.2 160.0 L190.5 160.9 L190.7 161.8 L190.9 162.7 L191.1 163.6 L191.3 164.5 L191.4 165.4 L191.6 166.3 L191.8 167.2 L191.9 168.1 L192.1 169.0 L192.2 169.9 L192.4 170.8 L192.5 171.7 L192.6 172.6 L192.8 173.5 L192.9 174.4 L193.0 175.4 L193.1 176.3 L193.2 177.2 L193.3 178.1 L193.4 179.0 L193.5 179.9 L193.6 180.8 L193.7 181.7 L193.8 182.7 L193.9 183.6 L193.9 184.5 L194.0 185.4 L194.1 186.3 L194.2 187.2 L194.2 188.1 L194.3 189.1 L194.3 190.0 L194.4 190.9 L194.5 191.8 L194.5 192.7 L194.6 193.6 L194.7 194.5 L194.7 195.4 L194.8 196.4 L194.9 197.3 L195.0 198.2 L195.1 199.1 L195.2 200.0 M72.3 43.7 L73.2 43.8 L74.1 43.9 L75.0 44.0 L75.9 44.1 L76.9 44.2 L77.8 44.3 L78.7 44.4 L79.6 44.5 L80.5 44.7 L81.4 44.8 L82.3 44.9 L83.2 45.1 L84.1 45.2 L85.0 45.4 L85.9 45.5 L86.8 45.7 L87.7 45.8 L88.6 46.0 L89.5 46.2 L90.4 46.4 L91.3 46.6 L92.2 46.8 L93.1 47.0 L94.0 47.2 L94.9 47.4 L95.8 47.6 L96.7 47.8 L97.6 48.0 L98.5 48.3 L99.3 48.5 L100.2 48.8 L101.1 49.0 L102.0 49.3 L102.9 49.6 L103.7 49.8 L104.6 50.1 L105.5 50.4 L106.3 50.7 L107.2 51.0 L108.1 51.3 L108.9 51.6 L109.8 51.9 L110.7 52.2 L111.5 52.6 L112.4 52.9 L113.2 53.2 L114.1 53.6 L114.9 54.0 L115.7 54.3 L116.6 54.7 L117.4 55.1 L118.2 55.5 L119.1 55.8 L119.9 56.2 L120.7 56.6 L121.5 57.1 L122.4 57.5 L123.2 57.9 L124.0 58.4 L124.8 58.8 L125.6 59.3 L126.4 59.7 L127.2 60.2 L127.9 60.7 L128.7 61.1 L129.5 61.6 L130.3 62.1 L131.0 62.6 L131.8 63.1 L132.6 63.6 L133.3 64.2 L134.1 64.7 L134.8 65.2 L135.5 65.8 L136.3 66.3 L137.0 66.9 L137.7 67.4 L138.4 68.0 L139.1 68.6 L139.9 69.2 L140.6 69.8 L141.3 70.4 L141.9 71.0 L142.6 71.6 L143.3 72.2 L144.0 72.8 L144.7 73.4 L145.3 74.1 L146.0 74.7 L146.6 75.4 L147.3 76.0 L147.9 76.7 L148.5 77.3 L149.2 78.0 L149.8 78.7 L150.4 79.3 L151.0 80.0 L151.6 80.7 L152.2 81.4 L152.8 82.1 L153.4 82.8 L154.0 83.5 L154.6 84.2 L155.2 84.9 L155.7 85.7 L156.3 86.4 L156.8 87.1 L157.4 87.8 L157.9 88.6 L158.5 89.3 L159.0 90.1 L159.5 90.8 L160.1 91.6 L160.6 92.3 L161.1 93.1 L161.6 93.8 L162.1 94.6 L162.6 95.4 L163.1 96.1 L163.6 96.9 L164.1 97.7 L164.6 98.5 L165.1 99.2 L165.5 100.0 L166.0 100.8 L166.5 101.6 L166.9 102.4 L167.4 103.2 L167.8 104.0 L168.3 104.8 L168.7 105.6 L169.2 106.4 L169.6 107.2 L170.0 108.0 L170.5 108.8 L170.9 109.6 L171.3 110.4 L171.7 111.3 L172.2 112.1 L172.6 112.9 L173.0 113.7 L173.4 114.5 L173.8 115.4 L174.2 116.2 L174.6 117.0 L175.0 117.9 L175.3 118.7 L175.7 119.5 L176.1 120.4 L176.5 121.2 L176.8 122.0 L177.2 122.9 L177.6 123.7 L177.9 124.6 L178.3 125.4 L178.6 126.2 L179.0 127.1 L179.3 127.9 L179.7 128.8 L180.0 129.6 L180.4 130.5 L180.7 131.3 L181.0 132.2 L181.4 133.1 L181.7 133.9 L182.0 134.8 L182.3 135.6 L182.6 136.5 L183.0 137.4 L183.3 138.2 L183.6 139.1 L183.9 139.9 L184.2 140.8 L184.5 141.7 L184.8 142.5 L185.1 143.4 L185.4 144.3 L185.7 145.2 L186.0 146.0 L186.2 146.9 L186.5 147.8 L186.8 148.6 L187.1 149.5 L187.4 150.4 L187.6 151.3 L187.9 152.1 L188.2 153.0 L188.4 153.9 L188.7 154.8 L188.9 155.7 L189.2 156.5 L189.4 157.4 L189.7 158.3 L189.9 159.2 L190.1 160.1 L190.3 161.0 L190.6 161.9 L190.8 162.8 L191.0 163.7 L191.1 164.6 L191.3 165.4 L191.5 166.4 L191.7 167.3 L191.8 168.2 L192.0 169.1 L192.1 170.0 L192.3 170.9 L192.4 171.8 L192.5 172.7 L192.7 173.6 L192.8 174.5 L192.9 175.4 L193.0 176.3 L193.1 177.2 L193.2 178.1 L193.3 179.0 L193.4 180.0 L193.5 180.9 L193.6 181.8 L193.7 182.7 L193.8 183.6 L193.9 184.5 L194.0 185.4 L194.0 186.3 L194.1 187.3 L194.2 188.2 L194.2 189.1 L194.3 190.0 L194.4 190.9 L194.4 191.8 L194.5 192.7 L194.6 193.7 L194.6 194.6 L194.7 195.4 L194.8 196.4 L194.9 197.3 L195.0 198.2 L195.1 199.1 L195.2 200.0 M72.3 44.1 L73.2 44.2 L74.1 44.3 L75.0 44.4 L75.9 44.5 L76.8 44.7 L77.7 44.8 L78.6 44.9 L79.6 45.0 L80.5 45.1 L81.4 45.3 L82.3 45.4 L83.2 45.5 L84.1 45.7 L85.0 45.9 L85.9 46.0 L86.8 46.2 L87.7 46.3 L88.6 46.5 L89.5 46.7 L90.3 46.9 L91.2 47.1 L92.1 47.3 L93.0 47.5 L93.9 47.7 L94.8 47.9 L95.7 48.1 L96.6 48.3 L97.5 48.6 L98.3 48.8 L99.2 49.1 L100.1 49.3 L101.0 49.6 L101.8 49.8 L102.7 50.1 L103.6 50.4 L104.5 50.7 L105.3 50.9 L106.2 51.2 L107.1 51.5 L107.9 51.8 L108.8 52.2 L109.6 52.5 L110.5 52.8 L111.3 53.1 L112.2 53.5 L113.0 53.8 L113.9 54.2 L114.7 54.6 L115.5 54.9 L116.4 55.3 L117.2 55.7 L118.0 56.1 L118.8 56.5 L119.7 56.9 L120.5 57.3 L121.3 57.7 L122.1 58.1 L122.9 58.6 L123.7 59.0 L124.5 59.5 L125.3 59.9 L126.1 60.4 L126.9 60.8 L127.6 61.3 L128.4 61.8 L129.2 62.3 L129.9 62.8 L130.7 63.3 L131.5 63.8 L132.2 64.3 L133.0 64.8 L133.7 65.4 L134.4 65.9 L135.2 66.5 L135.9 67.0 L136.6 67.6 L137.3 68.1 L138.0 68.7 L138.8 69.3 L139.5 69.9 L140.2 70.5 L140.8 71.1 L141.5 71.7 L142.2 72.3 L142.9 72.9 L143.6 73.5 L144.2 74.1 L144.9 74.8 L145.5 75.4 L146.2 76.0 L146.8 76.7 L147.5 77.4 L148.1 78.0 L148.7 78.7 L149.3 79.3 L149.9 80.0 L150.6 80.7 L151.2 81.4 L151.8 82.1 L152.3 82.8 L152.9 83.5 L153.5 84.2 L154.1 84.9 L154.7 85.6 L155.2 86.3 L155.8 87.0 L156.4 87.8 L156.9 88.5 L157.4 89.2 L158.0 90.0 L158.5 90.7 L159.1 91.4 L159.6 92.2 L160.1 92.9 L160.6 93.7 L161.1 94.4 L161.6 95.2 L162.1 96.0 L162.6 96.7 L163.1 97.5 L163.6 98.3 L164.1 99.0 L164.6 99.8 L165.1 100.6 L165.5 101.4 L166.0 102.2 L166.5 103.0 L166.9 103.7 L167.4 104.5 L167.8 105.3 L168.3 106.1 L168.7 106.9 L169.2 107.7 L169.6 108.5 L170.0 109.3 L170.5 110.1 L170.9 110.9 L171.3 111.8 L171.7 112.6 L172.1 113.4 L172.5 114.2 L172.9 115.0 L173.4 115.8 L173.7 116.7 L174.1 117.5 L174.5 118.3 L174.9 119.1 L175.3 120.0 L175.7 120.8 L176.1 121.6 L176.4 122.5 L176.8 123.3 L177.2 124.1 L177.5 125.0 L177.9 125.8 L178.3 126.6 L178.6 127.5 L179.0 128.3 L179.3 129.2 L179.7 130.0 L180.0 130.9 L180.3 131.7 L180.7 132.6 L181.0 133.4 L181.3 134.3 L181.6 135.1 L182.0 136.0 L182.3 136.8 L182.6 137.7 L182.9 138.6 L183.2 139.4 L183.5 140.3 L183.8 141.1 L184.1 142.0 L184.4 142.9 L184.7 143.7 L185.0 144.6 L185.3 145.5 L185.6 146.3 L185.9 147.2 L186.2 148.1 L186.4 148.9 L186.7 149.8 L187.0 150.7 L187.3 151.5 L187.5 152.4 L187.8 153.3 L188.1 154.2 L188.3 155.0 L188.6 155.9 L188.8 156.8 L189.1 157.7 L189.3 158.6 L189.5 159.4 L189.8 160.3 L190.0 161.2 L190.2 162.1 L190.4 163.0 L190.6 163.9 L190.8 164.8 L191.0 165.7 L191.2 166.6 L191.3 167.5 L191.5 168.4 L191.7 169.3 L191.8 170.2 L192.0 171.1 L192.1 172.0 L192.2 172.9 L192.4 173.8 L192.5 174.7 L192.6 175.6 L192.8 176.5 L192.9 177.4 L193.0 178.3 L193.1 179.2 L193.2 180.1 L193.3 181.0 L193.4 181.9 L193.5 182.8 L193.6 183.7 L193.7 184.6 L193.8 185.5 L193.9 186.5 L194.0 187.4 L194.0 188.3 L194.1 189.2 L194.2 190.1 L194.3 191.0 L194.3 191.9 L194.4 192.8 L194.5 193.7 L194.6 194.6 L194.7 195.5 L194.8 196.4 L194.9 197.3 L195.0 198.2 L195.1 199.1 L195.2 200.0 M72.3 44.4 L73.2 44.5 L74.1 44.6 L75.0 44.7 L75.9 44.8 L76.8 44.9 L77.7 45.0 L78.6 45.2 L79.5 45.3 L80.4 45.4 L81.3 45.5 L82.2 45.7 L83.1 45.8 L84.0 46.0 L84.9 46.1 L85.8 46.3 L86.7 46.5 L87.6 46.6 L88.5 46.8 L89.4 47.0 L90.3 47.2 L91.2 47.4 L92.1 47.6 L93.0 47.8 L93.9 48.0 L94.7 48.2 L95.6 48.4 L96.5 48.6 L97.4 48.9 L98.3 49.1 L99.2 49.4 L100.0 49.6 L100.9 49.9 L101.8 50.1 L102.6 50.4 L103.5 50.7 L104.4 51.0 L105.2 51.2 L106.1 51.5 L107.0 51.9 L107.8 52.2 L108.7 52.5 L109.5 52.8 L110.4 53.1 L111.2 53.5 L112.1 53.8 L112.9 54.1 L113.7 54.5 L114.6 54.9 L115.4 55.3 L116.2 55.6 L117.1 56.0 L117.9 56.4 L118.7 56.8 L119.5 57.2 L120.3 57.6 L121.1 58.1 L121.9 58.5 L122.7 58.9 L123.5 59.3 L124.3 59.8 L125.1 60.3 L125.9 60.7 L126.7 61.2 L127.5 61.7 L128.2 62.2 L129.0 62.6 L129.8 63.1 L130.5 63.7 L131.3 64.2 L132.0 64.7 L132.8 65.2 L133.5 65.7 L134.2 66.3 L135.0 66.8 L135.7 67.4 L136.4 67.9 L137.1 68.5 L137.8 69.1 L138.5 69.7 L139.2 70.2 L139.9 70.8 L140.6 71.4 L141.3 72.0 L142.0 72.6 L142.7 73.3 L143.3 73.9 L144.0 74.5 L144.6 75.1 L145.3 75.8 L145.9 76.4 L146.6 77.1 L147.2 77.7 L147.8 78.4 L148.5 79.1 L149.1 79.7 L149.7 80.4 L150.3 81.1 L150.9 81.8 L151.5 82.5 L152.1 83.1 L152.7 83.8 L153.3 84.5 L153.8 85.3 L154.4 86.0 L155.0 86.7 L155.5 87.4 L156.1 88.1 L156.6 88.8 L157.2 89.6 L157.7 90.3 L158.3 91.0 L158.8 91.8 L159.3 92.5 L159.8 93.3 L160.3 94.0 L160.9 94.8 L161.4 95.5 L161.9 96.3 L162.4 97.1 L162.9 97.8 L163.4 98.6 L163.8 99.4 L164.3 100.1 L164.8 100.9 L165.3 101.7 L165.7 102.5 L166.2 103.3 L166.7 104.0 L167.1 104.8 L167.6 105.6 L168.0 106.4 L168.5 107.2 L168.9 108.0 L169.3 108.8 L169.8 109.6 L170.2 110.4 L170.6 111.2 L171.1 112.0 L171.5 112.8 L171.9 113.6 L172.3 114.5 L172.7 115.3 L173.1 116.1 L173.5 116.9 L173.9 117.7 L174.3 118.6 L174.7 119.4 L175.1 120.2 L175.5 121.0 L175.8 121.9 L176.2 122.7 L176.6 123.5 L177.0 124.4 L177.3 125.2 L177.7 126.0 L178.0 126.9 L178.4 127.7 L178.7 128.5 L179.1 129.4 L179.4 130.2 L179.8 131.1 L180.1 131.9 L180.5 132.8 L180.8 133.6 L181.1 134.5 L181.4 135.3 L181.8 136.2 L182.1 137.0 L182.4 137.9 L182.7 138.7 L183.0 139.6 L183.3 140.5 L183.6 141.3 L183.9 142.2 L184.2 143.0 L184.5 143.9 L184.8 144.8 L185.1 145.6 L185.4 146.5 L185.7 147.4 L186.0 148.2 L186.3 149.1 L186.5 150.0 L186.8 150.8 L187.1 151.7 L187.3 152.6 L187.6 153.4 L187.9 154.3 L188.1 155.2 L188.4 156.1 L188.6 156.9 L188.9 157.8 L189.1 158.7 L189.3 159.6 L189.6 160.5 L189.8 161.3 L190.0 162.2 L190.2 163.1 L190.4 164.0 L190.6 164.9 L190.8 165.8 L191.0 166.7 L191.1 167.6 L191.3 168.5 L191.5 169.4 L191.6 170.3 L191.8 171.2 L191.9 172.1 L192.1 173.0 L192.2 173.9 L192.4 174.8 L192.5 175.7 L192.6 176.6 L192.7 177.5 L192.9 178.4 L193.0 179.3 L193.1 180.2 L193.2 181.1 L193.3 182.0 L193.4 182.9 L193.5 183.8 L193.6 184.7 L193.7 185.6 L193.8 186.5 L193.9 187.4 L194.0 188.3 L194.0 189.2 L194.1 190.1 L194.2 191.0 L194.3 191.9 L194.4 192.9 L194.5 193.8 L194.6 194.6 L194.7 195.5 L194.8 196.4 L194.9 197.3 L195.0 198.2 L195.1 199.1 L195.2 200.0 M72.3 45.1 L73.2 45.2 L74.1 45.3 L75.0 45.4 L75.9 45.5 L76.8 45.6 L77.7 45.7 L78.6 45.9 L79.5 46.0 L80.4 46.1 L81.3 46.3 L82.2 46.4 L83.1 46.5 L84.0 46.7 L84.9 46.8 L85.8 47.0 L86.6 47.2 L87.5 47.3 L88.4 47.5 L89.3 47.7 L90.2 47.9 L91.1 48.1 L92.0 48.3 L92.8 48.5 L93.7 48.7 L94.6 48.9 L95.5 49.2 L96.4 49.4 L97.2 49.6 L98.1 49.9 L99.0 50.1 L99.8 50.4 L100.7 50.6 L101.6 50.9 L102.4 51.2 L103.3 51.5 L104.2 51.8 L105.0 52.0 L105.9 52.4 L106.7 52.7 L107.6 53.0 L108.4 53.3 L109.3 53.6 L110.1 54.0 L110.9 54.3 L111.8 54.7 L112.6 55.0 L113.4 55.4 L114.3 55.8 L115.1 56.1 L115.9 56.5 L116.7 56.9 L117.5 57.3 L118.4 57.7 L119.2 58.1 L120.0 58.5 L120.8 59.0 L121.6 59.4 L122.4 59.8 L123.1 60.3 L123.9 60.7 L124.7 61.2 L125.5 61.7 L126.3 62.1 L127.0 62.6 L127.8 63.1 L128.5 63.6 L129.3 64.1 L130.0 64.6 L130.8 65.1 L131.5 65.7 L132.3 66.2 L133.0 66.7 L133.7 67.3 L134.4 67.8 L135.2 68.4 L135.9 68.9 L136.6 69.5 L137.3 70.1 L138.0 70.7 L138.7 71.3 L139.3 71.8 L140.0 72.4 L140.7 73.0 L141.4 73.7 L142.0 74.3 L142.7 74.9 L143.3 75.5 L144.0 76.1 L144.6 76.8 L145.3 77.4 L145.9 78.1 L146.5 78.7 L147.2 79.4 L147.8 80.0 L148.4 80.7 L149.0 81.4 L149.6 82.1 L150.2 82.7 L150.8 83.4 L151.4 84.1 L152.0 84.8 L152.6 85.5 L153.1 86.2 L153.7 86.9 L154.3 87.6 L154.8 88.3 L155.4 89.1 L155.9 89.8 L156.5 90.5 L157.0 91.2 L157.5 92.0 L158.1 92.7 L158.6 93.4 L159.1 94.2 L159.6 94.9 L160.2 95.7 L160.7 96.4 L161.2 97.2 L161.7 97.9 L162.2 98.7 L162.7 99.4 L163.1 100.2 L163.6 101.0 L164.1 101.7 L164.6 102.5 L165.1 103.3 L165.5 104.1 L166.0 104.8 L166.4 105.6 L166.9 106.4 L167.4 107.2 L167.8 108.0 L168.3 108.8 L168.7 109.6 L169.1 110.4 L169.6 111.1 L170.0 111.9 L170.4 112.7 L170.8 113.5 L171.3 114.3 L171.7 115.2 L172.1 116.0 L172.5 116.8 L172.9 117.6 L173.3 118.4 L173.7 119.2 L174.1 120.0 L174.5 120.8 L174.9 121.7 L175.3 122.5 L175.6 123.3 L176.0 124.1 L176.4 125.0 L176.8 125.8 L177.1 126.6 L177.5 127.4 L177.8 128.3 L178.2 129.1 L178.5 129.9 L178.9 130.8 L179.2 131.6 L179.6 132.5 L179.9 133.3 L180.2 134.1 L180.6 135.0 L180.9 135.8 L181.2 136.7 L181.5 137.5 L181.9 138.4 L182.2 139.2 L182.5 140.1 L182.8 140.9 L183.1 141.8 L183.4 142.6 L183.7 143.5 L184.0 144.3 L184.3 145.2 L184.6 146.1 L184.9 146.9 L185.2 147.8 L185.5 148.6 L185.7 149.5 L186.0 150.4 L186.3 151.2 L186.6 152.1 L186.8 153.0 L187.1 153.8 L187.4 154.7 L187.6 155.6 L187.9 156.4 L188.1 157.3 L188.4 158.2 L188.6 159.1 L188.8 159.9 L189.1 160.8 L189.3 161.7 L189.5 162.6 L189.7 163.4 L189.9 164.3 L190.1 165.2 L190.3 166.1 L190.5 167.0 L190.7 167.9 L190.8 168.8 L191.0 169.6 L191.2 170.5 L191.3 171.4 L191.5 172.3 L191.7 173.2 L191.8 174.1 L192.0 175.0 L192.1 175.9 L192.2 176.8 L192.4 177.7 L192.5 178.6 L192.6 179.5 L192.8 180.4 L192.9 181.3 L193.0 182.2 L193.1 183.1 L193.2 184.0 L193.3 184.9 L193.4 185.8 L193.5 186.7 L193.6 187.6 L193.8 188.5 L193.9 189.4 L194.0 190.3 L194.1 191.2 L194.2 192.1 L194.3 193.0 L194.4 193.8 L194.6 194.7 L194.7 195.5 L194.8 196.4 L194.9 197.3 L195.0 198.2 L195.1 199.1 L195.2 200.0 M72.3 45.1 L73.2 45.2 L74.1 45.3 L75.0 45.5 L75.9 45.6 L76.8 45.7 L77.7 45.8 L78.6 45.9 L79.5 46.0 L80.4 46.2 L81.3 46.3 L82.2 46.4 L83.1 46.6 L84.0 46.7 L84.9 46.9 L85.8 47.1 L86.6 47.2 L87.5 47.4 L88.4 47.6 L89.3 47.8 L90.2 47.9 L91.1 48.1 L92.0 48.3 L92.8 48.5 L93.7 48.8 L94.6 49.0 L95.5 49.2 L96.4 49.4 L97.2 49.7 L98.1 49.9 L99.0 50.2 L99.8 50.4 L100.7 50.7 L101.6 51.0 L102.4 51.2 L103.3 51.5 L104.2 51.8 L105.0 52.1 L105.9 52.4 L106.7 52.7 L107.6 53.0 L108.4 53.4 L109.3 53.7 L110.1 54.0 L110.9 54.4 L111.8 54.7 L112.6 55.1 L113.4 55.4 L114.3 55.8 L115.1 56.2 L115.9 56.6 L116.7 57.0 L117.5 57.4 L118.3 57.8 L119.1 58.2 L119.9 58.6 L120.7 59.0 L121.5 59.5 L122.3 59.9 L123.1 60.3 L123.9 60.8 L124.7 61.3 L125.5 61.7 L126.2 62.2 L127.0 62.7 L127.7 63.2 L128.5 63.7 L129.3 64.2 L130.0 64.7 L130.8 65.2 L131.5 65.7 L132.2 66.3 L133.0 66.8 L133.7 67.3 L134.4 67.9 L135.1 68.4 L135.8 69.0 L136.5 69.6 L137.2 70.1 L137.9 70.7 L138.6 71.3 L139.3 71.9 L140.0 72.5 L140.7 73.1 L141.3 73.7 L142.0 74.3 L142.7 75.0 L143.3 75.6 L144.0 76.2 L144.6 76.9 L145.2 77.5 L145.9 78.1 L146.5 78.8 L147.1 79.5 L147.7 80.1 L148.4 80.8 L149.0 81.5 L149.6 82.1 L150.2 82.8 L150.8 83.5 L151.3 84.2 L151.9 84.9 L152.5 85.6 L153.1 86.3 L153.7 87.0 L154.2 87.7 L154.8 88.4 L155.3 89.1 L155.9 89.8 L156.4 90.6 L157.0 91.3 L157.5 92.0 L158.0 92.8 L158.6 93.5 L159.1 94.2 L159.6 95.0 L160.1 95.7 L160.6 96.5 L161.1 97.2 L161.6 98.0 L162.1 98.7 L162.6 99.5 L163.1 100.3 L163.6 101.0 L164.1 101.8 L164.5 102.6 L165.0 103.3 L165.5 104.1 L165.9 104.9 L166.4 105.7 L166.9 106.5 L167.3 107.2 L167.8 108.0 L168.2 108.8 L168.7 109.6 L169.1 110.4 L169.5 111.2 L170.0 112.0 L170.4 112.8 L170.8 113.6 L171.2 114.4 L171.6 115.2 L172.1 116.0 L172.5 116.8 L172.9 117.6 L173.3 118.4 L173.7 119.2 L174.1 120.1 L174.5 120.9 L174.8 121.7 L175.2 122.5 L175.6 123.3 L176.0 124.2 L176.3 125.0 L176.7 125.8 L177.1 126.6 L177.4 127.5 L177.8 128.3 L178.2 129.1 L178.5 130.0 L178.9 130.8 L179.2 131.7 L179.5 132.5 L179.9 133.3 L180.2 134.2 L180.5 135.0 L180.9 135.9 L181.2 136.7 L181.5 137.6 L181.8 138.4 L182.1 139.3 L182.5 140.1 L182.8 141.0 L183.1 141.8 L183.4 142.7 L183.7 143.5 L184.0 144.4 L184.3 145.2 L184.6 146.1 L184.9 146.9 L185.1 147.8 L185.4 148.7 L185.7 149.5 L186.0 150.4 L186.3 151.3 L186.5 152.1 L186.8 153.0 L187.1 153.8 L187.3 154.7 L187.6 155.6 L187.8 156.5 L188.1 157.3 L188.3 158.2 L188.6 159.1 L188.8 159.9 L189.0 160.8 L189.2 161.7 L189.5 162.6 L189.7 163.5 L189.9 164.3 L190.1 165.2 L190.3 166.1 L190.5 167.0 L190.6 167.9 L190.8 168.8 L191.0 169.7 L191.2 170.6 L191.3 171.4 L191.5 172.3 L191.6 173.2 L191.8 174.1 L191.9 175.0 L192.1 175.9 L192.2 176.8 L192.3 177.7 L192.5 178.6 L192.6 179.5 L192.7 180.4 L192.9 181.3 L193.0 182.2 L193.1 183.1 L193.2 184.0 L193.3 184.9 L193.4 185.8 L193.5 186.7 L193.6 187.6 L193.7 188.5 L193.8 189.4 L193.9 190.3 L194.0 191.2 L194.1 192.1 L194.3 193.0 L194.4 193.9 L194.6 194.7 L194.7 195.5 L194.8 196.4 L194.9 197.3 L195.0 198.2 L195.1 199.1 L195.2 200.0 M72.3 45.4 L73.2 45.5 L74.1 45.6 L75.0 45.7 L75.9 45.8 L76.8 45.9 L77.7 46.0 L78.6 46.2 L79.5 46.3 L80.4 46.4 L81.3 46.6 L82.2 46.7 L83.1 46.8 L83.9 47.0 L84.8 47.2 L85.7 47.3 L86.6 47.5 L87.5 47.7 L88.4 47.8 L89.3 48.0 L90.1 48.2 L91.0 48.4 L91.9 48.6 L92.8 48.8 L93.7 49.1 L94.5 49.3 L95.4 49.5 L96.3 49.7 L97.2 50.0 L98.0 50.2 L98.9 50.5 L99.8 50.7 L100.6 51.0 L101.5 51.3 L102.4 51.5 L103.2 51.8 L104.1 52.1 L104.9 52.4 L105.8 52.7 L106.6 53.0 L107.5 53.4 L108.3 53.7 L109.2 54.0 L110.0 54.3 L110.8 54.7 L111.7 55.0 L112.5 55.4 L113.3 55.8 L114.1 56.1 L115.0 56.5 L115.8 56.9 L116.6 57.3 L117.4 57.7 L118.2 58.1 L119.0 58.5 L119.8 58.9 L120.6 59.4 L121.4 59.8 L122.2 60.3 L123.0 60.7 L123.7 61.2 L124.5 61.6 L125.3 62.1 L126.1 62.6 L126.8 63.1 L127.6 63.6 L128.3 64.0 L129.1 64.6 L129.8 65.1 L130.6 65.6 L131.3 66.1 L132.0 66.6 L132.8 67.2 L133.5 67.7 L134.2 68.3 L134.9 68.8 L135.6 69.4 L136.3 70.0 L137.0 70.5 L137.7 71.1 L138.4 71.7 L139.1 72.3 L139.8 72.9 L140.4 73.5 L141.1 74.1 L141.8 74.7 L142.4 75.3 L143.1 76.0 L143.7 76.6 L144.4 77.2 L145.0 77.9 L145.6 78.5 L146.2 79.2 L146.9 79.8 L147.5 80.5 L148.1 81.2 L148.7 81.8 L149.3 82.5 L149.9 83.2 L150.5 83.9 L151.1 84.6 L151.7 85.2 L152.2 85.9 L152.8 86.6 L153.4 87.4 L153.9 88.1 L154.5 88.8 L155.1 89.5 L155.6 90.2 L156.1 90.9 L156.7 91.7 L157.2 92.4 L157.7 93.1 L158.3 93.8 L158.8 94.6 L159.3 95.3 L159.8 96.1 L160.3 96.8 L160.8 97.6 L161.4 98.3 L161.8 99.1 L162.3 99.8 L162.8 100.6 L163.3 101.3 L163.8 102.1 L164.3 102.9 L164.8 103.6 L165.2 104.4 L165.7 105.2 L166.1 106.0 L166.6 106.8 L167.1 107.5 L167.5 108.3 L168.0 109.1 L168.4 109.9 L168.8 110.7 L169.3 111.5 L169.7 112.3 L170.1 113.1 L170.6 113.9 L171.0 114.7 L171.4 115.5 L171.8 116.3 L172.2 117.1 L172.6 117.9 L173.0 118.7 L173.4 119.5 L173.8 120.3 L174.2 121.1 L174.6 121.9 L175.0 122.8 L175.4 123.6 L175.7 124.4 L176.1 125.2 L176.5 126.0 L176.9 126.9 L177.2 127.7 L177.6 128.5 L177.9 129.4 L178.3 130.2 L178.6 131.0 L179.0 131.9 L179.3 132.7 L179.7 133.5 L180.0 134.4 L180.3 135.2 L180.7 136.1 L181.0 136.9 L181.3 137.7 L181.6 138.6 L181.9 139.4 L182.3 140.3 L182.6 141.1 L182.9 142.0 L183.2 142.8 L183.5 143.7 L183.8 144.5 L184.1 145.4 L184.4 146.3 L184.7 147.1 L184.9 148.0 L185.2 148.8 L185.5 149.7 L185.8 150.5 L186.1 151.4 L186.3 152.3 L186.6 153.1 L186.9 154.0 L187.1 154.9 L187.4 155.7 L187.6 156.6 L187.9 157.5 L188.1 158.3 L188.4 159.2 L188.6 160.1 L188.8 161.0 L189.0 161.8 L189.3 162.7 L189.5 163.6 L189.7 164.5 L189.9 165.4 L190.1 166.2 L190.3 167.1 L190.5 168.0 L190.6 168.9 L190.8 169.8 L191.0 170.7 L191.2 171.6 L191.3 172.4 L191.5 173.3 L191.6 174.2 L191.8 175.1 L191.9 176.0 L192.1 176.9 L192.2 177.8 L192.3 178.7 L192.5 179.6 L192.6 180.5 L192.7 181.4 L192.9 182.3 L193.0 183.1 L193.1 184.0 L193.2 184.9 L193.3 185.8 L193.4 186.7 L193.6 187.6 L193.7 188.5 L193.8 189.4 L193.9 190.3 L194.0 191.2 L194.1 192.1 L194.2 193.0 L194.3 193.9 L194.6 194.7 L194.7 195.5 L194.8 196.4 L194.9 197.3 L195.0 198.2 L195.1 199.1 L195.2 200.0 M72.3 45.7 L73.2 45.8 L74.1 45.9 L75.0 46.0 L75.9 46.2 L76.8 46.3 L77.7 46.4 L78.6 46.5 L79.5 46.6 L80.3 46.8 L81.2 46.9 L82.1 47.0 L83.0 47.2 L83.9 47.3 L84.8 47.5 L85.7 47.7 L86.6 47.8 L87.5 48.0 L88.3 48.2 L89.2 48.4 L90.1 48.6 L91.0 48.8 L91.9 49.0 L92.7 49.2 L93.6 49.4 L94.5 49.6 L95.4 49.9 L96.2 50.1 L97.1 50.3 L98.0 50.6 L98.8 50.8 L99.7 51.1 L100.5 51.4 L101.4 51.6 L102.3 51.9 L103.1 52.2 L104.0 52.5 L104.8 52.8 L105.7 53.1 L106.5 53.4 L107.4 53.7 L108.2 54.1 L109.0 54.4 L109.9 54.7 L110.7 55.1 L111.5 55.4 L112.4 55.8 L113.2 56.2 L114.0 56.6 L114.8 56.9 L115.6 57.3 L116.4 57.7 L117.2 58.1 L118.0 58.5 L118.8 59.0 L119.6 59.4 L120.4 59.8 L121.2 60.3 L122.0 60.7 L122.8 61.1 L123.5 61.6 L124.3 62.1 L125.1 62.5 L125.9 63.0 L126.6 63.5 L127.4 64.0 L128.1 64.5 L128.9 65.0 L129.6 65.5 L130.3 66.0 L131.1 66.6 L131.8 67.1 L132.5 67.6 L133.2 68.2 L133.9 68.7 L134.7 69.3 L135.4 69.9 L136.1 70.4 L136.8 71.0 L137.4 71.6 L138.1 72.2 L138.8 72.8 L139.5 73.4 L140.1 74.0 L140.8 74.6 L141.5 75.2 L142.1 75.8 L142.8 76.4 L143.4 77.1 L144.1 77.7 L144.7 78.4 L145.3 79.0 L145.9 79.6 L146.6 80.3 L147.2 81.0 L147.8 81.6 L148.4 82.3 L149.0 83.0 L149.6 83.6 L150.2 84.3 L150.8 85.0 L151.3 85.7 L151.9 86.4 L152.5 87.1 L153.0 87.8 L153.6 88.5 L154.2 89.2 L154.7 89.9 L155.3 90.6 L155.8 91.4 L156.3 92.1 L156.9 92.8 L157.4 93.5 L157.9 94.3 L158.5 95.0 L159.0 95.7 L159.5 96.5 L160.0 97.2 L160.5 98.0 L161.0 98.7 L161.5 99.5 L162.0 100.2 L162.5 101.0 L163.0 101.7 L163.5 102.5 L164.0 103.3 L164.4 104.0 L164.9 104.8 L165.4 105.6 L165.8 106.3 L166.3 107.1 L166.7 107.9 L167.2 108.7 L167.6 109.5 L168.1 110.2 L168.5 111.0 L169.0 111.8 L169.4 112.6 L169.8 113.4 L170.3 114.2 L170.7 115.0 L171.1 115.8 L171.5 116.6 L171.9 117.4 L172.3 118.2 L172.7 119.0 L173.1 119.8 L173.5 120.6 L173.9 121.4 L174.3 122.2 L174.7 123.1 L175.1 123.9 L175.5 124.7 L175.9 125.5 L176.2 126.3 L176.6 127.1 L177.0 128.0 L177.3 128.8 L177.7 129.6 L178.0 130.5 L178.4 131.3 L178.7 132.1 L179.1 133.0 L179.4 133.8 L179.7 134.6 L180.1 135.5 L180.4 136.3 L180.7 137.1 L181.1 138.0 L181.4 138.8 L181.7 139.7 L182.0 140.5 L182.3 141.4 L182.6 142.2 L182.9 143.1 L183.2 143.9 L183.5 144.8 L183.8 145.6 L184.1 146.5 L184.4 147.3 L184.7 148.2 L185.0 149.0 L185.3 149.9 L185.5 150.7 L185.8 151.6 L186.1 152.5 L186.4 153.3 L186.6 154.2 L186.9 155.0 L187.1 155.9 L187.4 156.8 L187.6 157.6 L187.9 158.5 L188.1 159.4 L188.4 160.3 L188.6 161.1 L188.8 162.0 L189.0 162.9 L189.2 163.7 L189.4 164.6 L189.6 165.5 L189.8 166.4 L190.0 167.3 L190.2 168.1 L190.4 169.0 L190.6 169.9 L190.8 170.8 L190.9 171.7 L191.1 172.6 L191.3 173.5 L191.4 174.3 L191.6 175.2 L191.7 176.1 L191.9 177.0 L192.0 177.9 L192.2 178.8 L192.3 179.7 L192.4 180.6 L192.6 181.5 L192.7 182.3 L192.8 183.2 L193.0 184.1 L193.1 185.0 L193.2 185.9 L193.3 186.8 L193.4 187.7 L193.6 188.6 L193.7 189.5 L193.8 190.4 L193.9 191.3 L194.0 192.2 L194.2 193.0 L194.3 193.9 L194.5 194.7 L194.7 195.5 L194.8 196.4 L194.9 197.3 L195.0 198.2 L195.1 199.1 L195.2 200.0 M72.3 46.0 L73.2 46.1 L74.1 46.2 L75.0 46.3 L75.9 46.4 L76.8 46.5 L77.7 46.6 L78.6 46.8 L79.4 46.9 L80.3 47.1 L81.2 47.2 L82.1 47.3 L83.0 47.5 L83.9 47.6 L84.8 47.8 L85.6 48.0 L86.5 48.1 L87.4 48.3 L88.3 48.5 L89.2 48.7 L90.1 48.9 L90.9 49.1 L91.8 49.3 L92.7 49.5 L93.6 49.7 L94.4 49.9 L95.3 50.2 L96.2 50.4 L97.0 50.6 L97.9 50.9 L98.8 51.2 L99.6 51.4 L100.5 51.7 L101.3 52.0 L102.2 52.2 L103.0 52.5 L103.9 52.8 L104.7 53.1 L105.6 53.4 L106.4 53.8 L107.3 54.1 L108.1 54.4 L108.9 54.7 L109.8 55.1 L110.6 55.4 L111.4 55.8 L112.2 56.2 L113.0 56.5 L113.9 56.9 L114.7 57.3 L115.5 57.7 L116.3 58.1 L117.1 58.5 L117.9 58.9 L118.7 59.3 L119.5 59.7 L120.3 60.2 L121.0 60.6 L121.8 61.1 L122.6 61.5 L123.4 62.0 L124.1 62.5 L124.9 62.9 L125.7 63.4 L126.4 63.9 L127.2 64.4 L127.9 64.9 L128.7 65.4 L129.4 65.9 L130.1 66.4 L130.9 67.0 L131.6 67.5 L132.3 68.0 L133.0 68.6 L133.7 69.1 L134.4 69.7 L135.1 70.3 L135.8 70.8 L136.5 71.4 L137.2 72.0 L137.9 72.6 L138.6 73.2 L139.2 73.8 L139.9 74.4 L140.6 75.0 L141.2 75.6 L141.9 76.2 L142.5 76.9 L143.2 77.5 L143.8 78.1 L144.4 78.8 L145.0 79.4 L145.7 80.1 L146.3 80.7 L146.9 81.4 L147.5 82.0 L148.1 82.7 L148.7 83.4 L149.3 84.1 L149.9 84.7 L150.5 85.4 L151.0 86.1 L151.6 86.8 L152.2 87.5 L152.8 88.2 L153.3 88.9 L153.9 89.6 L154.4 90.3 L155.0 91.0 L155.5 91.7 L156.1 92.5 L156.6 93.2 L157.1 93.9 L157.6 94.6 L158.2 95.4 L158.7 96.1 L159.2 96.8 L159.7 97.6 L160.2 98.3 L160.7 99.1 L161.2 99.8 L161.7 100.6 L162.2 101.3 L162.7 102.1 L163.2 102.8 L163.7 103.6 L164.1 104.4 L164.6 105.1 L165.1 105.9 L165.6 106.7 L166.0 107.4 L166.5 108.2 L166.9 109.0 L167.4 109.8 L167.8 110.5 L168.3 111.3 L168.7 112.1 L169.1 112.9 L169.6 113.7 L170.0 114.5 L170.4 115.3 L170.8 116.1 L171.3 116.9 L171.7 117.7 L172.1 118.5 L172.5 119.3 L172.9 120.1 L173.3 120.9 L173.7 121.7 L174.1 122.5 L174.5 123.3 L174.9 124.1 L175.2 124.9 L175.6 125.8 L176.0 126.6 L176.4 127.4 L176.7 128.2 L177.1 129.0 L177.4 129.9 L177.8 130.7 L178.2 131.5 L178.5 132.3 L178.8 133.2 L179.2 134.0 L179.5 134.8 L179.9 135.7 L180.2 136.5 L180.5 137.3 L180.8 138.2 L181.2 139.0 L181.5 139.9 L181.8 140.7 L182.1 141.6 L182.4 142.4 L182.7 143.2 L183.0 144.1 L183.3 144.9 L183.6 145.8 L183.9 146.6 L184.2 147.5 L184.5 148.3 L184.8 149.2 L185.0 150.1 L185.3 150.9 L185.6 151.8 L185.9 152.6 L186.1 153.5 L186.4 154.3 L186.7 155.2 L186.9 156.1 L187.2 156.9 L187.4 157.8 L187.7 158.7 L187.9 159.5 L188.1 160.4 L188.4 161.3 L188.6 162.1 L188.8 163.0 L189.0 163.9 L189.2 164.8 L189.4 165.6 L189.6 166.5 L189.8 167.4 L190.0 168.3 L190.2 169.1 L190.4 170.0 L190.6 170.9 L190.8 171.8 L190.9 172.7 L191.1 173.6 L191.3 174.4 L191.4 175.3 L191.6 176.2 L191.7 177.1 L191.9 178.0 L192.0 178.9 L192.2 179.8 L192.3 180.6 L192.5 181.5 L192.6 182.4 L192.7 183.3 L192.9 184.2 L193.0 185.1 L193.1 186.0 L193.2 186.9 L193.4 187.8 L193.5 188.6 L193.6 189.5 L193.7 190.4 L193.8 191.3 L194.0 192.2 L194.1 193.1 L194.3 194.0 L194.5 194.8 L194.7 195.5 L194.8 196.4 L194.9 197.3 L195.0 198.2 L195.1 199.1 L195.2 200.0 M72.3 46.3 L73.2 46.4 L74.1 46.5 L75.0 46.6 L75.9 46.7 L76.8 46.8 L77.6 46.9 L78.5 47.1 L79.4 47.2 L80.3 47.3 L81.2 47.5 L82.1 47.6 L83.0 47.8 L83.9 47.9 L84.7 48.1 L85.6 48.3 L86.5 48.4 L87.4 48.6 L88.3 48.8 L89.1 49.0 L90.0 49.2 L90.9 49.4 L91.8 49.6 L92.6 49.8 L93.5 50.0 L94.4 50.2 L95.2 50.5 L96.1 50.7 L97.0 51.0 L97.8 51.2 L98.7 51.5 L99.5 51.7 L100.4 52.0 L101.2 52.3 L102.1 52.6 L102.9 52.9 L103.8 53.2 L104.6 53.5 L105.5 53.8 L106.3 54.1 L107.2 54.4 L108.0 54.7 L108.8 55.1 L109.6 55.4 L110.5 55.8 L111.3 56.1 L112.1 56.5 L112.9 56.9 L113.7 57.3 L114.5 57.7 L115.4 58.0 L116.2 58.4 L117.0 58.9 L117.7 59.3 L118.5 59.7 L119.3 60.1 L120.1 60.6 L120.9 61.0 L121.7 61.5 L122.4 61.9 L123.2 62.4 L124.0 62.9 L124.7 63.3 L125.5 63.8 L126.2 64.3 L127.0 64.8 L127.7 65.3 L128.5 65.8 L129.2 66.3 L129.9 66.8 L130.7 67.4 L131.4 67.9 L132.1 68.5 L132.8 69.0 L133.5 69.6 L134.2 70.1 L134.9 70.7 L135.6 71.3 L136.3 71.8 L137.0 72.4 L137.6 73.0 L138.3 73.6 L139.0 74.2 L139.7 74.8 L140.3 75.4 L141.0 76.0 L141.6 76.6 L142.3 77.3 L142.9 77.9 L143.5 78.5 L144.2 79.2 L144.8 79.8 L145.4 80.5 L146.0 81.1 L146.6 81.8 L147.2 82.4 L147.8 83.1 L148.4 83.8 L149.0 84.5 L149.6 85.1 L150.2 85.8 L150.8 86.5 L151.3 87.2 L151.9 87.9 L152.5 88.6 L153.0 89.3 L153.6 90.0 L154.1 90.7 L154.7 91.4 L155.2 92.1 L155.8 92.8 L156.3 93.6 L156.8 94.3 L157.4 95.0 L157.9 95.7 L158.4 96.5 L158.9 97.2 L159.4 97.9 L159.9 98.7 L160.4 99.4 L160.9 100.2 L161.4 100.9 L161.9 101.7 L162.4 102.4 L162.9 103.2 L163.4 103.9 L163.9 104.7 L164.3 105.5 L164.8 106.2 L165.3 107.0 L165.7 107.8 L166.2 108.5 L166.7 109.3 L167.1 110.1 L167.6 110.9 L168.0 111.6 L168.4 112.4 L168.9 113.2 L169.3 114.0 L169.7 114.8 L170.2 115.6 L170.6 116.4 L171.0 117.1 L171.4 117.9 L171.8 118.7 L172.2 119.5 L172.7 120.3 L173.1 121.1 L173.4 121.9 L173.8 122.8 L174.2 123.6 L174.6 124.4 L175.0 125.2 L175.4 126.0 L175.8 126.8 L176.1 127.6 L176.5 128.4 L176.9 129.3 L177.2 130.1 L177.6 130.9 L177.9 131.7 L178.3 132.6 L178.6 133.4 L179.0 134.2 L179.3 135.1 L179.6 135.9 L180.0 136.7 L180.3 137.6 L180.6 138.4 L180.9 139.2 L181.3 140.1 L181.6 140.9 L181.9 141.7 L182.2 142.6 L182.5 143.4 L182.8 144.3 L183.1 145.1 L183.4 146.0 L183.7 146.8 L184.0 147.7 L184.3 148.5 L184.6 149.4 L184.8 150.2 L185.1 151.1 L185.4 151.9 L185.7 152.8 L185.9 153.6 L186.2 154.5 L186.4 155.4 L186.7 156.2 L187.0 157.1 L187.2 158.0 L187.4 158.8 L187.7 159.7 L187.9 160.5 L188.2 161.4 L188.4 162.3 L188.6 163.2 L188.8 164.0 L189.0 164.9 L189.2 165.8 L189.4 166.6 L189.6 167.5 L189.8 168.4 L190.0 169.3 L190.2 170.1 L190.4 171.0 L190.6 171.9 L190.8 172.8 L190.9 173.7 L191.1 174.5 L191.3 175.4 L191.4 176.3 L191.6 177.2 L191.7 178.1 L191.9 179.0 L192.0 179.8 L192.2 180.7 L192.3 181.6 L192.5 182.5 L192.6 183.4 L192.7 184.3 L192.9 185.2 L193.0 186.0 L193.1 186.9 L193.3 187.8 L193.4 188.7 L193.5 189.6 L193.7 190.5 L193.8 191.4 L193.9 192.2 L194.1 193.1 L194.2 194.0 L194.5 194.8 L194.7 195.6 L194.8 196.4 L194.9 197.3 L195.0 198.2 L195.1 199.1 L195.2 200.0 M72.3 46.7 L73.2 46.8 L74.1 46.9 L75.0 47.0 L75.9 47.1 L76.7 47.2 L77.6 47.3 L78.5 47.5 L79.4 47.6 L80.3 47.7 L81.2 47.9 L82.1 48.0 L82.9 48.1 L83.8 48.3 L84.7 48.5 L85.6 48.6 L86.5 48.8 L87.3 49.0 L88.2 49.2 L89.1 49.4 L89.9 49.6 L90.8 49.8 L91.7 50.0 L92.6 50.2 L93.4 50.4 L94.3 50.7 L95.2 50.9 L96.0 51.1 L96.9 51.4 L97.7 51.6 L98.6 51.9 L99.4 52.2 L100.3 52.4 L101.1 52.7 L102.0 53.0 L102.8 53.3 L103.7 53.6 L104.5 53.9 L105.4 54.2 L106.2 54.5 L107.0 54.9 L107.9 55.2 L108.7 55.5 L109.5 55.9 L110.3 56.3 L111.1 56.6 L112.0 57.0 L112.8 57.4 L113.6 57.7 L114.4 58.1 L115.2 58.5 L116.0 58.9 L116.8 59.4 L117.6 59.8 L118.3 60.2 L119.1 60.6 L119.9 61.1 L120.7 61.5 L121.5 62.0 L122.2 62.4 L123.0 62.9 L123.7 63.4 L124.5 63.8 L125.3 64.3 L126.0 64.8 L126.7 65.3 L127.5 65.8 L128.2 66.3 L128.9 66.9 L129.7 67.4 L130.4 67.9 L131.1 68.4 L131.8 69.0 L132.5 69.5 L133.2 70.1 L133.9 70.7 L134.6 71.2 L135.3 71.8 L136.0 72.4 L136.7 73.0 L137.3 73.5 L138.0 74.1 L138.7 74.7 L139.3 75.3 L140.0 76.0 L140.6 76.6 L141.3 77.2 L141.9 77.8 L142.5 78.4 L143.2 79.1 L143.8 79.7 L144.4 80.4 L145.0 81.0 L145.6 81.7 L146.3 82.3 L146.9 83.0 L147.5 83.7 L148.0 84.3 L148.6 85.0 L149.2 85.7 L149.8 86.4 L150.4 87.0 L150.9 87.7 L151.5 88.4 L152.1 89.1 L152.6 89.8 L153.2 90.5 L153.7 91.2 L154.3 91.9 L154.8 92.6 L155.4 93.4 L155.9 94.1 L156.4 94.8 L157.0 95.5 L157.5 96.2 L158.0 97.0 L158.5 97.7 L159.0 98.4 L159.5 99.2 L160.1 99.9 L160.6 100.6 L161.1 101.4 L161.5 102.1 L162.0 102.9 L162.5 103.6 L163.0 104.4 L163.5 105.1 L164.0 105.9 L164.4 106.7 L164.9 107.4 L165.4 108.2 L165.8 109.0 L166.3 109.7 L166.7 110.5 L167.2 111.3 L167.6 112.0 L168.1 112.8 L168.5 113.6 L169.0 114.4 L169.4 115.2 L169.8 115.9 L170.2 116.7 L170.7 117.5 L171.1 118.3 L171.5 119.1 L171.9 119.9 L172.3 120.7 L172.7 121.5 L173.1 122.3 L173.5 123.1 L173.9 123.9 L174.3 124.7 L174.7 125.5 L175.1 126.3 L175.4 127.1 L175.8 127.9 L176.2 128.8 L176.6 129.6 L176.9 130.4 L177.3 131.2 L177.6 132.0 L178.0 132.9 L178.3 133.7 L178.7 134.5 L179.0 135.3 L179.3 136.2 L179.7 137.0 L180.0 137.8 L180.3 138.7 L180.7 139.5 L181.0 140.3 L181.3 141.2 L181.6 142.0 L181.9 142.8 L182.2 143.7 L182.5 144.5 L182.8 145.4 L183.1 146.2 L183.4 147.1 L183.7 147.9 L184.0 148.8 L184.3 149.6 L184.6 150.5 L184.8 151.3 L185.1 152.2 L185.4 153.0 L185.6 153.9 L185.9 154.7 L186.2 155.6 L186.4 156.4 L186.7 157.3 L186.9 158.2 L187.2 159.0 L187.4 159.9 L187.6 160.7 L187.9 161.6 L188.1 162.5 L188.3 163.3 L188.5 164.2 L188.8 165.1 L189.0 165.9 L189.2 166.8 L189.4 167.7 L189.6 168.6 L189.8 169.4 L190.0 170.3 L190.1 171.2 L190.3 172.1 L190.5 172.9 L190.7 173.8 L190.9 174.7 L191.0 175.6 L191.2 176.4 L191.4 177.3 L191.5 178.2 L191.7 179.1 L191.8 180.0 L192.0 180.8 L192.1 181.7 L192.3 182.6 L192.4 183.5 L192.6 184.4 L192.7 185.2 L192.9 186.1 L193.0 187.0 L193.1 187.9 L193.3 188.8 L193.4 189.7 L193.6 190.5 L193.7 191.4 L193.8 192.3 L194.0 193.2 L194.2 194.1 L194.5 194.8 L194.6 195.6 L194.8 196.5 L194.9 197.3 L195.0 198.2 L195.1 199.1 L195.2 200.0 M72.3 47.1 L73.2 47.2 L74.1 47.3 L75.0 47.4 L75.8 47.5 L76.7 47.6 L77.6 47.7 L78.5 47.9 L79.4 48.0 L80.3 48.1 L81.1 48.3 L82.0 48.4 L82.9 48.6 L83.8 48.7 L84.7 48.9 L85.5 49.1 L86.4 49.2 L87.3 49.4 L88.1 49.6 L89.0 49.8 L89.9 50.0 L90.8 50.2 L91.6 50.4 L92.5 50.6 L93.3 50.9 L94.2 51.1 L95.1 51.3 L95.9 51.6 L96.8 51.8 L97.6 52.1 L98.5 52.3 L99.3 52.6 L100.2 52.9 L101.0 53.2 L101.9 53.5 L102.7 53.8 L103.6 54.1 L104.4 54.4 L105.2 54.7 L106.1 55.0 L106.9 55.3 L107.7 55.7 L108.5 56.0 L109.3 56.4 L110.2 56.7 L111.0 57.1 L111.8 57.5 L112.6 57.9 L113.4 58.2 L114.2 58.6 L115.0 59.0 L115.8 59.4 L116.6 59.9 L117.4 60.3 L118.1 60.7 L118.9 61.1 L119.7 61.6 L120.5 62.0 L121.2 62.5 L122.0 63.0 L122.7 63.4 L123.5 63.9 L124.3 64.4 L125.0 64.9 L125.7 65.4 L126.5 65.9 L127.2 66.4 L127.9 66.9 L128.7 67.4 L129.4 67.9 L130.1 68.5 L130.8 69.0 L131.5 69.6 L132.2 70.1 L132.9 70.7 L133.6 71.2 L134.3 71.8 L135.0 72.4 L135.7 72.9 L136.3 73.5 L137.0 74.1 L137.7 74.7 L138.3 75.3 L139.0 75.9 L139.6 76.5 L140.3 77.1 L140.9 77.8 L141.5 78.4 L142.2 79.0 L142.8 79.7 L143.4 80.3 L144.0 80.9 L144.7 81.6 L145.3 82.2 L145.9 82.9 L146.5 83.6 L147.1 84.2 L147.7 84.9 L148.2 85.6 L148.8 86.2 L149.4 86.9 L150.0 87.6 L150.5 88.3 L151.1 89.0 L151.7 89.7 L152.2 90.4 L152.8 91.1 L153.3 91.8 L153.9 92.5 L154.4 93.2 L155.0 93.9 L155.5 94.6 L156.0 95.3 L156.6 96.0 L157.1 96.8 L157.6 97.5 L158.1 98.2 L158.6 98.9 L159.1 99.7 L159.7 100.4 L160.2 101.1 L160.7 101.9 L161.1 102.6 L161.6 103.4 L162.1 104.1 L162.6 104.9 L163.1 105.6 L163.6 106.4 L164.1 107.1 L164.5 107.9 L165.0 108.6 L165.5 109.4 L165.9 110.2 L166.4 110.9 L166.8 111.7 L167.3 112.5 L167.7 113.2 L168.2 114.0 L168.6 114.8 L169.0 115.6 L169.5 116.3 L169.9 117.1 L170.3 117.9 L170.7 118.7 L171.2 119.5 L171.6 120.3 L172.0 121.1 L172.4 121.9 L172.8 122.7 L173.2 123.5 L173.6 124.3 L174.0 125.1 L174.3 125.9 L174.7 126.7 L175.1 127.5 L175.5 128.3 L175.9 129.1 L176.2 129.9 L176.6 130.7 L177.0 131.5 L177.3 132.4 L177.7 133.2 L178.0 134.0 L178.4 134.8 L178.7 135.6 L179.0 136.5 L179.4 137.3 L179.7 138.1 L180.0 138.9 L180.4 139.8 L180.7 140.6 L181.0 141.4 L181.3 142.3 L181.6 143.1 L181.9 144.0 L182.2 144.8 L182.5 145.6 L182.8 146.5 L183.1 147.3 L183.4 148.2 L183.7 149.0 L184.0 149.8 L184.3 150.7 L184.5 151.5 L184.8 152.4 L185.1 153.2 L185.3 154.1 L185.6 154.9 L185.9 155.8 L186.1 156.7 L186.4 157.5 L186.6 158.4 L186.9 159.2 L187.1 160.1 L187.3 160.9 L187.6 161.8 L187.8 162.7 L188.0 163.5 L188.2 164.4 L188.5 165.3 L188.7 166.1 L188.9 167.0 L189.1 167.9 L189.3 168.7 L189.5 169.6 L189.7 170.5 L189.9 171.3 L190.1 172.2 L190.3 173.1 L190.4 174.0 L190.6 174.8 L190.8 175.7 L191.0 176.6 L191.2 177.4 L191.3 178.3 L191.5 179.2 L191.6 180.1 L191.8 181.0 L192.0 181.8 L192.1 182.7 L192.3 183.6 L192.4 184.5 L192.6 185.3 L192.7 186.2 L192.9 187.1 L193.0 188.0 L193.2 188.9 L193.3 189.7 L193.5 190.6 L193.6 191.5 L193.8 192.4 L193.9 193.2 L194.1 194.1 L194.5 194.9 L194.6 195.6 L194.8 196.5 L194.9 197.4 L195.0 198.2 L195.1 199.1 L195.2 200.0 M72.3 47.3 L73.2 47.4 L74.1 47.5 L75.0 47.7 L75.8 47.8 L76.7 47.9 L77.6 48.0 L78.5 48.1 L79.4 48.2 L80.2 48.4 L81.1 48.5 L82.0 48.7 L82.9 48.8 L83.8 49.0 L84.6 49.1 L85.5 49.3 L86.4 49.5 L87.2 49.7 L88.1 49.9 L89.0 50.1 L89.8 50.3 L90.7 50.5 L91.6 50.7 L92.4 50.9 L93.3 51.1 L94.2 51.4 L95.0 51.6 L95.9 51.8 L96.7 52.1 L97.6 52.4 L98.4 52.6 L99.3 52.9 L100.1 53.2 L101.0 53.5 L101.8 53.8 L102.6 54.1 L103.5 54.4 L104.3 54.7 L105.1 55.0 L106.0 55.3 L106.8 55.6 L107.6 56.0 L108.4 56.3 L109.2 56.7 L110.1 57.1 L110.9 57.4 L111.7 57.8 L112.5 58.2 L113.3 58.6 L114.1 59.0 L114.9 59.4 L115.7 59.8 L116.4 60.2 L117.2 60.6 L118.0 61.0 L118.8 61.5 L119.6 61.9 L120.3 62.4 L121.1 62.8 L121.8 63.3 L122.6 63.8 L123.3 64.3 L124.1 64.7 L124.8 65.2 L125.6 65.7 L126.3 66.2 L127.0 66.7 L127.8 67.2 L128.5 67.8 L129.2 68.3 L129.9 68.8 L130.6 69.4 L131.3 69.9 L132.0 70.5 L132.7 71.0 L133.4 71.6 L134.1 72.2 L134.8 72.7 L135.4 73.3 L136.1 73.9 L136.8 74.5 L137.4 75.1 L138.1 75.7 L138.8 76.3 L139.4 76.9 L140.0 77.5 L140.7 78.1 L141.3 78.8 L141.9 79.4 L142.6 80.0 L143.2 80.7 L143.8 81.3 L144.4 82.0 L145.0 82.6 L145.6 83.3 L146.2 83.9 L146.8 84.6 L147.4 85.2 L148.0 85.9 L148.6 86.6 L149.1 87.3 L149.7 88.0 L150.3 88.6 L150.9 89.3 L151.4 90.0 L152.0 90.7 L152.5 91.4 L153.1 92.1 L153.6 92.8 L154.2 93.5 L154.7 94.2 L155.2 94.9 L155.8 95.7 L156.3 96.4 L156.8 97.1 L157.3 97.8 L157.9 98.5 L158.4 99.3 L158.9 100.0 L159.4 100.7 L159.9 101.5 L160.4 102.2 L160.9 102.9 L161.4 103.7 L161.9 104.4 L162.4 105.2 L162.8 105.9 L163.3 106.7 L163.8 107.4 L164.3 108.2 L164.7 108.9 L165.2 109.7 L165.7 110.4 L166.1 111.2 L166.6 112.0 L167.0 112.7 L167.5 113.5 L167.9 114.3 L168.4 115.0 L168.8 115.8 L169.2 116.6 L169.7 117.4 L170.1 118.2 L170.5 118.9 L170.9 119.7 L171.3 120.5 L171.8 121.3 L172.2 122.1 L172.6 122.9 L173.0 123.7 L173.4 124.5 L173.7 125.3 L174.1 126.1 L174.5 126.9 L174.9 127.7 L175.3 128.5 L175.6 129.3 L176.0 130.1 L176.4 130.9 L176.7 131.7 L177.1 132.6 L177.5 133.4 L177.8 134.2 L178.2 135.0 L178.5 135.8 L178.8 136.7 L179.2 137.5 L179.5 138.3 L179.8 139.1 L180.2 140.0 L180.5 140.8 L180.8 141.6 L181.1 142.5 L181.4 143.3 L181.7 144.1 L182.0 145.0 L182.3 145.8 L182.6 146.6 L182.9 147.5 L183.2 148.3 L183.5 149.2 L183.8 150.0 L184.1 150.8 L184.3 151.7 L184.6 152.5 L184.9 153.4 L185.2 154.2 L185.4 155.1 L185.7 155.9 L185.9 156.8 L186.2 157.6 L186.4 158.5 L186.7 159.4 L186.9 160.2 L187.1 161.1 L187.4 161.9 L187.6 162.8 L187.8 163.7 L188.1 164.5 L188.3 165.4 L188.5 166.2 L188.7 167.1 L188.9 168.0 L189.1 168.8 L189.3 169.7 L189.5 170.6 L189.7 171.4 L189.9 172.3 L190.1 173.2 L190.3 174.0 L190.5 174.9 L190.7 175.8 L190.8 176.7 L191.0 177.5 L191.2 178.4 L191.4 179.3 L191.5 180.2 L191.7 181.0 L191.8 181.9 L192.0 182.8 L192.2 183.7 L192.3 184.5 L192.5 185.4 L192.6 186.3 L192.8 187.2 L192.9 188.0 L193.1 188.9 L193.2 189.8 L193.4 190.7 L193.6 191.5 L193.7 192.4 L193.9 193.3 L194.1 194.2 L194.5 194.9 L194.6 195.6 L194.7 196.5 L194.9 197.4 L195.0 198.2 L195.1 199.1 L195.2 200.0 M72.3 47.7 L73.2 47.8 L74.1 47.9 L74.9 48.0 L75.8 48.1 L76.7 48.2 L77.6 48.3 L78.5 48.5 L79.3 48.6 L80.2 48.7 L81.1 48.9 L82.0 49.0 L82.8 49.2 L83.7 49.3 L84.6 49.5 L85.5 49.7 L86.3 49.8 L87.2 50.0 L88.1 50.2 L88.9 50.4 L89.8 50.6 L90.7 50.8 L91.5 51.0 L92.4 51.3 L93.2 51.5 L94.1 51.7 L94.9 52.0 L95.8 52.2 L96.6 52.5 L97.5 52.7 L98.3 53.0 L99.2 53.3 L100.0 53.5 L100.9 53.8 L101.7 54.1 L102.5 54.4 L103.4 54.7 L104.2 55.0 L105.0 55.4 L105.8 55.7 L106.7 56.1 L107.5 56.4 L108.3 56.7 L109.1 57.1 L109.9 57.5 L110.7 57.8 L111.5 58.2 L112.3 58.6 L113.1 59.0 L113.9 59.4 L114.7 59.8 L115.5 60.2 L116.3 60.6 L117.1 61.1 L117.8 61.5 L118.6 61.9 L119.4 62.4 L120.1 62.8 L120.9 63.3 L121.7 63.8 L122.4 64.2 L123.1 64.7 L123.9 65.2 L124.6 65.7 L125.4 66.2 L126.1 66.7 L126.8 67.2 L127.5 67.7 L128.3 68.2 L129.0 68.8 L129.7 69.3 L130.4 69.9 L131.1 70.4 L131.8 71.0 L132.5 71.5 L133.1 72.1 L133.8 72.6 L134.5 73.2 L135.2 73.8 L135.8 74.4 L136.5 75.0 L137.2 75.6 L137.8 76.2 L138.5 76.8 L139.1 77.4 L139.7 78.0 L140.4 78.6 L141.0 79.3 L141.6 79.9 L142.3 80.5 L142.9 81.2 L143.5 81.8 L144.1 82.4 L144.7 83.1 L145.3 83.7 L145.9 84.4 L146.5 85.1 L147.1 85.7 L147.7 86.4 L148.2 87.1 L148.8 87.8 L149.4 88.4 L149.9 89.1 L150.5 89.8 L151.1 90.5 L151.6 91.2 L152.2 91.9 L152.7 92.6 L153.3 93.3 L153.8 94.0 L154.3 94.7 L154.9 95.4 L155.4 96.1 L155.9 96.8 L156.5 97.5 L157.0 98.3 L157.5 99.0 L158.0 99.7 L158.5 100.4 L159.0 101.1 L159.6 101.9 L160.1 102.6 L160.5 103.3 L161.0 104.1 L161.5 104.8 L162.0 105.6 L162.5 106.3 L163.0 107.0 L163.5 107.8 L163.9 108.5 L164.4 109.3 L164.9 110.1 L165.3 110.8 L165.8 111.6 L166.3 112.3 L166.7 113.1 L167.2 113.9 L167.6 114.6 L168.1 115.4 L168.5 116.2 L168.9 116.9 L169.4 117.7 L169.8 118.5 L170.2 119.3 L170.6 120.1 L171.0 120.8 L171.5 121.6 L171.9 122.4 L172.3 123.2 L172.7 124.0 L173.1 124.8 L173.5 125.6 L173.8 126.4 L174.2 127.2 L174.6 128.0 L175.0 128.8 L175.4 129.6 L175.7 130.4 L176.1 131.2 L176.5 132.0 L176.8 132.8 L177.2 133.6 L177.5 134.5 L177.9 135.3 L178.2 136.1 L178.6 136.9 L178.9 137.7 L179.2 138.6 L179.6 139.4 L179.9 140.2 L180.2 141.0 L180.5 141.9 L180.9 142.7 L181.2 143.5 L181.5 144.3 L181.8 145.2 L182.1 146.0 L182.4 146.9 L182.7 147.7 L183.0 148.5 L183.3 149.4 L183.5 150.2 L183.8 151.1 L184.1 151.9 L184.4 152.7 L184.6 153.6 L184.9 154.4 L185.2 155.3 L185.4 156.1 L185.7 157.0 L185.9 157.8 L186.2 158.7 L186.4 159.5 L186.7 160.4 L186.9 161.2 L187.1 162.1 L187.4 163.0 L187.6 163.8 L187.8 164.7 L188.0 165.5 L188.3 166.4 L188.5 167.3 L188.7 168.1 L188.9 169.0 L189.1 169.8 L189.3 170.7 L189.5 171.6 L189.7 172.4 L189.9 173.3 L190.1 174.2 L190.3 175.0 L190.5 175.9 L190.6 176.8 L190.8 177.6 L191.0 178.5 L191.2 179.4 L191.4 180.3 L191.5 181.1 L191.7 182.0 L191.9 182.9 L192.0 183.7 L192.2 184.6 L192.4 185.5 L192.5 186.4 L192.7 187.2 L192.8 188.1 L193.0 189.0 L193.2 189.9 L193.3 190.7 L193.5 191.6 L193.7 192.5 L193.8 193.3 L194.0 194.2 L194.4 194.9 L194.6 195.6 L194.7 196.5 L194.9 197.4 L195.0 198.2 L195.1 199.1 L195.2 200.0 M72.3 51.1 L73.2 51.3 L74.0 51.4 L74.9 51.5 L75.8 51.6 L76.6 51.8 L77.5 51.9 L78.3 52.0 L79.2 52.2 L80.1 52.3 L80.9 52.5 L81.8 52.6 L82.7 52.8 L83.5 53.0 L84.4 53.1 L85.2 53.3 L86.1 53.5 L86.9 53.6 L87.8 53.8 L88.6 54.0 L89.5 54.2 L90.3 54.4 L91.2 54.6 L92.0 54.8 L92.9 55.1 L93.7 55.3 L94.6 55.5 L95.4 55.7 L96.2 56.0 L97.1 56.2 L97.9 56.5 L98.8 56.7 L99.6 57.0 L100.4 57.3 L101.3 57.5 L102.1 57.8 L102.9 58.1 L103.7 58.4 L104.6 58.7 L105.4 59.0 L106.2 59.3 L107.0 59.6 L107.8 59.9 L108.6 60.2 L109.5 60.5 L110.3 60.9 L111.1 61.2 L111.9 61.6 L112.7 61.9 L113.5 62.3 L114.2 62.7 L115.0 63.0 L115.8 63.4 L116.6 63.8 L117.4 64.2 L118.2 64.6 L118.9 65.0 L119.7 65.4 L120.5 65.8 L121.2 66.2 L122.0 66.7 L122.8 67.1 L123.5 67.6 L124.3 68.0 L125.0 68.5 L125.7 68.9 L126.5 69.4 L127.2 69.9 L127.9 70.4 L128.7 70.8 L129.4 71.3 L130.1 71.9 L130.8 72.4 L131.5 72.9 L132.2 73.4 L132.9 73.9 L133.6 74.5 L134.3 75.0 L135.0 75.6 L135.6 76.1 L136.3 76.7 L137.0 77.2 L137.6 77.8 L138.3 78.4 L138.9 79.0 L139.6 79.5 L140.2 80.1 L140.9 80.7 L141.5 81.3 L142.1 82.0 L142.7 82.6 L143.4 83.2 L144.0 83.8 L144.6 84.4 L145.2 85.1 L145.7 85.7 L146.3 86.4 L146.9 87.0 L147.5 87.7 L148.1 88.3 L148.6 89.0 L149.2 89.7 L149.7 90.4 L150.3 91.0 L150.8 91.7 L151.4 92.4 L151.9 93.1 L152.4 93.8 L153.0 94.5 L153.5 95.2 L154.0 95.9 L154.5 96.6 L155.0 97.3 L155.5 98.0 L156.0 98.8 L156.5 99.5 L157.0 100.2 L157.4 100.9 L157.9 101.7 L158.4 102.4 L158.9 103.2 L159.3 103.9 L159.8 104.6 L160.2 105.4 L160.7 106.1 L161.1 106.9 L161.5 107.7 L162.0 108.4 L162.4 109.2 L162.8 109.9 L163.2 110.7 L163.7 111.5 L164.1 112.2 L164.5 113.0 L164.9 113.8 L165.3 114.6 L165.7 115.3 L166.1 116.1 L166.5 116.9 L166.9 117.7 L167.2 118.5 L167.6 119.3 L168.0 120.1 L168.4 120.8 L168.7 121.6 L169.1 122.4 L169.5 123.2 L169.8 124.0 L170.2 124.8 L170.5 125.6 L170.9 126.4 L171.2 127.2 L171.6 128.0 L171.9 128.8 L172.2 129.6 L172.6 130.4 L172.9 131.2 L173.2 132.1 L173.6 132.9 L173.9 133.7 L174.2 134.5 L174.5 135.3 L174.9 136.1 L175.2 136.9 L175.5 137.7 L175.8 138.5 L176.1 139.4 L176.4 140.2 L176.7 141.0 L177.0 141.8 L177.4 142.6 L177.7 143.5 L178.0 144.3 L178.3 145.1 L178.6 145.9 L178.9 146.7 L179.2 147.6 L179.5 148.4 L179.8 149.2 L180.1 150.0 L180.4 150.8 L180.7 151.7 L181.0 152.5 L181.3 153.3 L181.5 154.1 L181.8 154.9 L182.1 155.8 L182.4 156.6 L182.7 157.4 L183.0 158.2 L183.3 159.1 L183.6 159.9 L183.9 160.7 L184.2 161.5 L184.5 162.4 L184.7 163.2 L185.0 164.0 L185.3 164.8 L185.6 165.7 L185.9 166.5 L186.2 167.3 L186.5 168.1 L186.8 169.0 L187.0 169.8 L187.3 170.6 L187.6 171.4 L187.9 172.3 L188.2 173.1 L188.5 173.9 L188.8 174.7 L189.1 175.6 L189.3 176.4 L189.6 177.2 L189.9 178.0 L190.2 178.8 L190.5 179.7 L190.8 180.5 L191.1 181.3 L191.4 182.1 L191.7 183.0 L192.0 183.8 L192.3 184.6 L192.6 185.4 L192.9 186.3 L193.1 187.1 L193.3 187.9 L193.5 188.8 L193.7 189.6 L193.8 190.5 L194.0 191.4 L194.1 192.2 L194.2 193.1 L194.2 194.0 L194.3 194.8 L194.4 195.7 L194.6 196.6 L194.8 197.4 L194.9 198.3 L195.1 199.1 L195.2 200.0" fill="none" stroke="#000" stroke-width="1.0" stroke-opacity="1" stroke-linejoin="round"/>
<path d="M72.3 52.0 L73.0 52.3 L73.7 52.6 L74.3 52.9 L75.0 53.2 L75.7 53.5 L76.4 53.8 L77.1 54.1 L77.8 54.4 L78.4 54.7 L79.1 55.0 L79.8 55.3 L80.5 55.6 L81.2 55.9 L81.8 56.2 L82.5 56.5 L83.2 56.8 L83.9 57.1 L84.6 57.4 L85.2 57.7 L85.9 58.0 L86.6 58.3 L87.3 58.6 L88.0 58.9 L88.7 59.2 L89.3 59.5 L89.8 59.9 L89.9 60.7 L89.9 61.4 L90.0 62.2 L90.1 62.9 L90.1 63.6 L90.2 64.4 L90.2 65.1 L90.3 65.9 L90.9 66.2 L91.6 66.4 L92.3 66.5 L93.1 66.7 L93.8 66.9 L94.5 67.1 L95.2 67.3 L95.9 67.5 L96.6 67.7 L97.4 67.9 L98.1 68.1 L98.8 68.3 L99.5 68.5 L100.2 68.6 L101.0 68.8 L101.7 68.9 L102.4 69.1 L103.2 69.2 L103.9 69.3 L104.6 69.5 L105.4 69.6 L106.1 69.8 L106.8 69.9 L107.6 70.1 L108.3 70.2 L109.0 70.3 L109.7 70.5 L110.5 70.6 L111.2 70.8 L111.9 70.9 L112.7 71.0 L113.2 71.5 L113.5 72.1 L113.8 72.8 L114.2 73.5 L114.5 74.1 L114.8 74.8 L115.4 75.2 L116.1 75.4 L116.8 75.6 L117.6 75.7 L118.3 75.9 L119.0 76.1 L119.7 76.3 L120.4 76.5 L121.2 76.6 L121.9 76.8 L122.6 77.0 L123.3 77.2 L124.1 77.4 L124.8 77.5 L125.4 77.9 L126.1 78.3 L126.7 78.7 L127.3 79.1 L127.9 79.5 L128.6 79.9 L129.2 80.3 L129.8 80.7 L130.4 81.1 L131.1 81.5 L131.7 81.9 L132.3 82.3 L132.9 82.7 L133.5 83.2 L134.2 83.6 L134.8 84.0 L135.4 84.4 L136.0 84.8 L136.6 85.2 L137.2 85.7 L137.9 86.1 L138.5 86.5 L139.1 86.9 L139.7 87.3 L140.3 87.8 L140.9 88.2 L141.5 88.6 L142.2 89.0 L142.8 89.5 L143.4 89.9 L144.0 90.3 L144.6 90.7 L145.2 91.2 L145.7 91.7 L146.2 92.3 L146.7 92.8 L147.2 93.4 L147.7 93.9 L148.2 94.5 L148.7 95.0 L149.2 95.6 L149.7 96.1 L150.2 96.7 L150.7 97.2 L151.2 97.8 L151.7 98.3 L152.2 98.9 L152.7 99.4 L153.3 99.9 L153.6 100.6 L154.0 101.2 L154.4 101.9 L154.8 102.5 L155.2 103.1 L155.5 103.8 L155.9 104.4 L156.3 105.1 L156.7 105.7 L157.1 106.3 L157.5 107.0 L157.8 107.6 L158.2 108.3 L158.6 108.9 L159.0 109.5 L159.4 110.2 L159.7 110.8 L160.1 111.5 L160.5 112.1 L160.9 112.7 L161.3 113.4 L161.6 114.0 L162.0 114.7 L162.4 115.3 L162.8 115.9 L163.1 116.6 L163.4 117.3 L163.7 117.9 L164.1 118.6 L164.4 119.3 L164.7 120.0 L165.0 120.7 L165.3 121.3 L165.6 122.0 L165.9 122.7 L166.2 123.4 L166.5 124.0 L166.8 124.7 L167.1 125.4 L167.4 126.1 L167.7 126.8 L168.1 127.4 L168.4 128.1 L168.7 128.8 L169.0 129.5 L169.3 130.1 L169.6 130.8 L169.9 131.5 L170.2 132.2 L170.5 132.8 L170.9 133.5 L171.2 134.2 L171.5 134.9 L171.8 135.5 L172.2 136.2 L172.5 136.9 L172.8 137.5 L173.2 138.2 L173.5 138.9 L173.8 139.5 L174.1 140.2 L174.5 140.9 L174.8 141.5 L175.1 142.2 L175.5 142.9 L175.8 143.5 L176.1 144.2 L176.4 144.9 L176.7 145.6 L177.0 146.2 L177.3 146.9 L177.6 147.6 L177.9 148.3 L178.2 149.0 L178.4 149.7 L178.7 150.4 L179.0 151.1 L179.3 151.7 L179.6 152.4 L179.9 153.1 L180.1 153.8 L180.4 154.5 L180.7 155.2 L181.0 155.9 L181.3 156.6 L181.6 157.3 L181.8 157.9 L182.1 158.6 L182.4 159.3 L182.7 160.0 L182.9 160.7 L183.2 161.4 L183.4 162.1 L183.7 162.8 L183.9 163.5 L184.2 164.2 L184.4 164.9 L184.7 165.6 L184.9 166.3 L185.2 167.0 L185.4 167.7 L185.7 168.4 L185.9 169.1 L186.2 169.8 L186.4 170.5 L186.7 171.2 L186.9 171.9 L187.2 172.6 L187.4 173.3 L187.7 174.0 L187.9 174.7 L188.1 175.4 L188.3 176.2 L188.6 176.9 L188.8 177.6 L189.0 178.3 L189.2 179.0 L189.4 179.7 L189.6 180.4 L189.8 181.2 L190.1 181.9 L190.3 182.6 L190.5 183.3 L190.7 184.0 L190.9 184.7 L191.1 185.4 L191.3 186.1 L191.6 186.9 L191.8 187.6 L192.0 188.3 L192.2 189.0 L192.4 189.7 L192.6 190.4 L192.8 191.1 L193.1 191.8 L193.3 192.6 L193.5 193.3 L193.7 194.0 L193.9 194.7 L194.0 195.4 L194.1 196.2 L194.1 196.9 L194.2 197.7 L194.2 198.4 L194.3 199.1 L194.3 199.9 L194.4 200.6 L194.4 201.4 L194.5 202.1 L194.5 202.9 L194.6 203.6 L194.6 204.3 L194.7 205.1 L194.7 205.8 L194.8 206.6 L194.8 207.3 L194.9 208.1 L194.9 208.8 L195.0 209.5 L195.0 210.3 L195.1 211.0 L195.1 211.8 L195.2 212.5 L195.2 213.3 L195.2 214.0" fill="none" stroke="#000" stroke-width="1.0" stroke-opacity="1" stroke-linejoin="round"/>
<path d="M72.3 54.0 L73.1 54.1 L73.8 54.2 L74.6 54.4 L75.3 54.5 L76.1 54.6 L76.8 54.7 L77.6 54.8 L78.3 55.0 L79.1 55.1 L79.8 55.2 L80.6 55.3 L81.4 55.4 L82.1 55.5 L82.9 55.7 L83.6 55.8 L84.4 55.9 L85.1 56.0 L85.8 56.3 L86.5 56.6 L87.2 56.9 L88.0 57.2 L88.7 57.5 L89.4 57.7 L90.1 58.0 L90.8 58.3 L91.5 58.5 L92.3 58.8 L93.0 59.0 L93.7 59.3 L94.4 59.5 L95.1 59.7 L95.9 60.0 L96.6 60.2 L97.3 60.5 L98.0 60.7 L98.8 61.0 L99.5 61.2 L100.2 61.4 L101.0 61.6 L101.7 61.8 L102.5 61.9 L103.2 62.1 L103.9 62.2 L104.7 62.4 L105.4 62.6 L106.2 62.7 L106.9 62.9 L107.7 63.0 L108.4 63.2 L109.2 63.3 L109.9 63.5 L110.7 63.7 L111.4 63.8 L112.2 64.0 L112.9 64.1 L113.7 64.3 L114.4 64.5 L115.2 64.6 L115.9 64.8 L116.6 64.9 L117.0 65.4 L117.1 66.2 L117.2 66.9 L117.2 67.7 L117.3 68.4 L117.4 69.2 L117.4 70.0 L117.5 70.7 L118.0 71.1 L118.7 71.4 L119.4 71.6 L120.1 71.8 L120.9 72.1 L121.6 72.3 L122.3 72.5 L123.1 72.8 L123.8 73.0 L124.5 73.2 L125.2 73.5 L126.0 73.7 L126.7 73.9 L127.4 74.2 L128.1 74.4 L128.9 74.6 L129.6 74.9 L130.3 75.2 L131.0 75.5 L131.6 75.9 L132.3 76.3 L133.0 76.6 L133.6 77.0 L134.3 77.4 L135.0 77.7 L135.7 78.1 L136.3 78.5 L137.0 78.8 L137.7 79.2 L138.3 79.6 L139.0 80.0 L139.7 80.3 L140.3 80.7 L140.9 81.2 L141.5 81.7 L142.1 82.2 L142.7 82.7 L143.3 83.2 L143.8 83.7 L144.4 84.1 L145.0 84.6 L145.6 85.1 L146.2 85.6 L146.8 86.1 L147.4 86.6 L148.0 87.0 L148.6 87.5 L149.2 88.0 L149.7 88.5 L150.4 88.9 L151.0 89.4 L151.6 89.8 L152.3 90.2 L152.9 90.6 L153.6 91.0 L154.2 91.4 L154.8 91.9 L155.5 92.3 L156.1 92.7 L156.8 93.1 L157.4 93.5 L158.1 93.9 L158.7 94.3 L159.3 94.8 L160.0 95.2 L160.5 95.7 L161.1 96.2 L161.6 96.8 L162.2 97.3 L162.7 97.8 L163.2 98.4 L163.8 98.9 L164.3 99.5 L164.9 100.0 L165.4 100.5 L166.0 101.1 L166.5 101.6 L167.1 102.1 L167.6 102.7 L168.2 103.2 L168.7 103.7 L169.2 104.3 L169.8 104.8 L170.2 105.4 L170.6 106.1 L171.0 106.7 L171.4 107.4 L171.8 108.0 L172.2 108.7 L172.6 109.3 L173.0 110.0 L173.4 110.6 L173.8 111.3 L174.2 111.9 L174.6 112.6 L175.0 113.2 L175.3 114.0 L175.5 114.7 L175.7 115.4 L176.0 116.1 L176.2 116.8 L176.5 117.6 L176.7 118.3 L177.0 119.0 L177.2 119.7 L177.5 120.5 L177.7 121.2 L177.9 121.9 L178.2 122.6 L178.4 123.4 L178.7 124.1 L178.9 124.8 L179.2 125.5 L179.4 126.3 L179.7 127.0 L179.9 127.7 L180.1 128.4 L180.3 129.2 L180.4 129.9 L180.6 130.7 L180.8 131.4 L180.9 132.2 L181.1 132.9 L181.3 133.7 L181.5 134.4 L181.6 135.1 L181.8 135.9 L182.0 136.6 L182.1 137.4 L182.3 138.1 L182.5 138.9 L182.6 139.6 L182.8 140.4 L183.0 141.1 L183.1 141.8 L183.3 142.6 L183.5 143.3 L183.7 144.1 L183.8 144.8 L184.0 145.6 L184.2 146.3 L184.3 147.1 L184.5 147.8 L184.7 148.5 L184.8 149.3 L185.0 150.0 L185.2 150.8 L185.3 151.5 L185.5 152.3 L185.7 153.0 L185.8 153.8 L186.0 154.5 L186.2 155.2 L186.3 156.0 L186.5 156.7 L186.7 157.5 L186.9 158.2 L187.0 159.0 L187.2 159.7 L187.4 160.5 L187.5 161.2 L187.7 162.0 L187.9 162.7 L188.0 163.4 L188.2 164.2 L188.4 164.9 L188.5 165.7 L188.7 166.4 L188.9 167.2 L189.0 167.9 L189.2 168.7 L189.4 169.4 L189.5 170.1 L189.7 170.9 L189.8 171.7 L189.9 172.4 L190.1 173.2 L190.2 173.9 L190.3 174.7 L190.5 175.4 L190.6 176.2 L190.7 176.9 L190.9 177.7 L191.0 178.4 L191.2 179.2 L191.3 179.9 L191.4 180.7 L191.6 181.4 L191.7 182.2 L191.8 182.9 L192.0 183.7 L192.1 184.4 L192.2 185.2 L192.4 185.9 L192.5 186.7 L192.6 187.4 L192.8 188.2 L192.9 188.9 L193.0 189.7 L193.2 190.4 L193.3 191.2 L193.5 191.9 L193.6 192.7 L193.7 193.4 L193.9 194.2 L194.0 195.0 L194.0 195.7 L194.1 196.5 L194.1 197.2 L194.2 198.0 L194.2 198.8 L194.3 199.5 L194.3 200.3 L194.4 201.0 L194.4 201.8 L194.5 202.6 L194.5 203.3 L194.6 204.1 L194.6 204.9 L194.7 205.6 L194.7 206.4 L194.8 207.1 L194.8 207.9 L194.9 208.7 L194.9 209.4 L195.0 210.2 L195.0 211.0 L195.1 211.7 L195.1 212.5 L195.2 213.2 L195.2 214.0" fill="none" stroke="#000" stroke-width="1.0" stroke-opacity="1" stroke-linejoin="round"/>
<path d="M72.3 51.0 L73.0 51.1 L73.8 51.2 L74.5 51.3 L75.2 51.4 L76.0 51.5 L76.7 51.6 L77.4 51.8 L78.2 51.9 L78.9 52.0 L79.6 52.1 L80.4 52.2 L81.1 52.3 L81.8 52.4 L82.6 52.5 L83.3 52.6 L84.1 52.7 L84.8 52.8 L85.5 52.9 L86.2 53.1 L86.9 53.4 L87.6 53.6 L88.3 53.9 L89.0 54.2 L89.7 54.4 L90.4 54.7 L91.1 55.0 L91.8 55.2 L92.5 55.5 L93.2 55.8 L93.8 56.1 L94.5 56.3 L95.2 56.6 L95.9 56.8 L96.6 57.0 L97.4 57.3 L98.1 57.5 L98.8 57.7 L99.5 57.9 L100.2 58.2 L100.9 58.4 L101.6 58.6 L102.3 58.9 L103.0 59.1 L103.7 59.3 L104.4 59.5 L105.1 59.8 L105.8 60.0 L106.5 60.2 L107.2 60.5 L107.9 60.7 L108.7 60.9 L109.4 61.1 L110.1 61.4 L110.8 61.6 L111.5 61.8 L112.2 62.1 L112.9 62.3 L113.6 62.6 L114.3 62.9 L115.0 63.1 L115.6 63.4 L116.3 63.7 L117.0 63.9 L117.7 64.2 L118.4 64.5 L119.1 64.7 L119.8 65.0 L120.5 65.3 L121.2 65.5 L121.9 65.8 L122.6 66.1 L123.3 66.3 L124.0 66.6 L124.7 66.9 L125.3 67.2 L125.8 67.7 L126.4 68.2 L126.9 68.7 L127.5 69.2 L128.0 69.7 L128.6 70.2 L129.1 70.7 L129.7 71.2 L130.2 71.7 L130.8 72.2 L131.3 72.7 L131.9 73.2 L132.4 73.7 L133.0 74.2 L133.6 74.7 L134.1 75.2 L134.7 75.7 L135.2 76.2 L135.6 76.8 L136.1 77.4 L136.6 77.9 L137.0 78.5 L137.5 79.1 L138.0 79.7 L138.4 80.3 L138.9 80.8 L139.4 81.4 L139.8 82.0 L140.3 82.6 L140.7 83.2 L141.2 83.8 L141.6 84.3 L142.1 84.9 L142.6 85.5 L143.0 86.1 L143.5 86.7 L143.9 87.3 L144.4 87.9 L144.8 88.5 L145.3 89.0 L145.7 89.6 L146.2 90.2 L146.6 90.8 L147.1 91.4 L147.5 92.0 L148.0 92.6 L148.4 93.2 L148.9 93.8 L149.3 94.3 L149.8 94.9 L150.3 95.5 L150.7 96.1 L151.2 96.7 L151.7 97.2 L152.1 97.8 L152.6 98.4 L153.1 99.0 L153.5 99.5 L154.0 100.1 L154.5 100.7 L154.9 101.3 L155.4 101.8 L155.9 102.4 L156.4 103.0 L156.8 103.6 L157.3 104.1 L157.8 104.7 L158.2 105.3 L158.5 106.0 L158.9 106.6 L159.2 107.3 L159.6 107.9 L159.9 108.6 L160.3 109.3 L160.6 109.9 L161.0 110.6 L161.3 111.2 L161.7 111.9 L162.0 112.5 L162.4 113.2 L162.7 113.8 L163.1 114.5 L163.4 115.2 L163.8 115.8 L164.1 116.5 L164.5 117.1 L164.8 117.8 L165.2 118.4 L165.5 119.1 L165.9 119.7 L166.2 120.4 L166.4 121.1 L166.7 121.8 L167.0 122.5 L167.3 123.2 L167.5 123.9 L167.8 124.5 L168.1 125.2 L168.4 125.9 L168.6 126.6 L168.9 127.3 L169.2 128.0 L169.5 128.7 L169.7 129.4 L170.0 130.1 L170.3 130.7 L170.6 131.4 L170.9 132.1 L171.1 132.8 L171.4 133.5 L171.7 134.2 L172.0 134.9 L172.2 135.6 L172.5 136.3 L172.8 137.0 L173.1 137.6 L173.3 138.3 L173.6 139.0 L173.9 139.7 L174.2 140.4 L174.4 141.1 L174.7 141.8 L175.0 142.5 L175.3 143.1 L175.6 143.8 L175.9 144.5 L176.1 145.2 L176.4 145.9 L176.7 146.6 L177.0 147.3 L177.3 147.9 L177.6 148.6 L177.8 149.3 L178.1 150.0 L178.4 150.7 L178.7 151.4 L179.0 152.1 L179.2 152.7 L179.5 153.4 L179.8 154.1 L180.1 154.8 L180.4 155.5 L180.7 156.2 L180.9 156.9 L181.2 157.6 L181.5 158.2 L181.8 158.9 L182.0 159.6 L182.3 160.3 L182.6 161.0 L182.8 161.7 L183.1 162.4 L183.4 163.1 L183.6 163.8 L183.9 164.5 L184.2 165.2 L184.4 165.9 L184.7 166.6 L185.0 167.2 L185.3 167.9 L185.5 168.6 L185.8 169.3 L186.1 170.0 L186.3 170.7 L186.6 171.4 L186.9 172.1 L187.1 172.8 L187.4 173.5 L187.7 174.2 L187.9 174.9 L188.2 175.6 L188.4 176.3 L188.6 177.0 L188.8 177.7 L189.0 178.4 L189.2 179.1 L189.4 179.8 L189.7 180.5 L189.9 181.2 L190.1 182.0 L190.3 182.7 L190.5 183.4 L190.7 184.1 L190.9 184.8 L191.2 185.5 L191.4 186.2 L191.6 186.9 L191.8 187.6 L192.0 188.4 L192.2 189.1 L192.4 189.8 L192.6 190.5 L192.9 191.2 L193.1 191.9 L193.3 192.6 L193.5 193.3 L193.7 194.0 L193.9 194.8 L194.0 195.5 L194.1 196.2 L194.1 197.0 L194.2 197.7 L194.2 198.4 L194.3 199.2 L194.3 199.9 L194.4 200.7 L194.4 201.4 L194.5 202.1 L194.5 202.9 L194.6 203.6 L194.6 204.4 L194.7 205.1 L194.7 205.9 L194.8 206.6 L194.8 207.3 L194.9 208.1 L194.9 208.8 L195.0 209.6 L195.0 210.3 L195.1 211.0 L195.1 211.8 L195.2 212.5 L195.2 213.3 L195.2 214.0" fill="none" stroke="#000" stroke-width="1.0" stroke-opacity="1" stroke-linejoin="round"/>
<path d="M72.3 53.0 L73.0 53.3 L73.6 53.5 L74.3 53.8 L75.0 54.1 L75.6 54.3 L76.3 54.6 L77.0 54.8 L77.6 55.1 L78.3 55.4 L79.0 55.6 L79.6 55.9 L80.3 56.2 L81.0 56.4 L81.7 56.7 L82.3 57.0 L83.0 57.2 L83.7 57.5 L84.3 57.8 L85.0 58.0 L85.7 58.3 L86.3 58.5 L87.0 58.8 L87.7 59.1 L88.3 59.3 L89.0 59.6 L89.7 59.9 L90.3 60.2 L91.0 60.5 L91.6 60.8 L92.3 61.1 L92.9 61.4 L93.6 61.7 L94.2 62.0 L94.9 62.3 L95.5 62.6 L96.2 62.9 L96.8 63.2 L97.5 63.5 L98.1 63.8 L98.8 64.1 L99.4 64.4 L100.1 64.7 L100.7 65.0 L101.4 65.3 L102.0 65.6 L102.7 65.9 L103.3 66.2 L104.0 66.5 L104.6 66.8 L105.2 67.2 L105.8 67.7 L106.3 68.2 L106.9 68.6 L107.4 69.1 L108.0 69.6 L108.5 70.0 L109.0 70.5 L109.6 71.0 L110.1 71.5 L110.7 71.9 L111.2 72.4 L111.8 72.9 L112.3 73.3 L112.8 73.8 L113.4 74.3 L113.9 74.7 L114.5 75.2 L115.0 75.7 L115.6 76.2 L116.1 76.6 L116.6 77.1 L117.2 77.6 L117.7 78.0 L118.3 78.5 L118.8 79.0 L119.4 79.4 L119.9 79.9 L120.5 80.3 L121.2 80.6 L121.8 81.0 L122.4 81.3 L123.1 81.6 L123.7 82.0 L124.3 82.3 L125.0 82.6 L125.6 83.0 L126.2 83.3 L126.9 83.7 L127.5 84.0 L128.1 84.3 L128.8 84.7 L129.4 85.0 L130.0 85.3 L130.7 85.7 L131.3 86.0 L131.9 86.4 L132.6 86.7 L133.2 87.0 L133.8 87.4 L134.5 87.7 L135.1 88.1 L135.7 88.4 L136.4 88.7 L137.0 89.1 L137.6 89.4 L138.3 89.7 L138.9 90.1 L139.5 90.4 L140.2 90.8 L140.8 91.1 L141.4 91.4 L142.1 91.8 L142.7 92.1 L143.3 92.4 L144.0 92.8 L144.6 93.1 L145.2 93.5 L145.9 93.8 L146.5 94.1 L147.1 94.5 L147.8 94.8 L148.4 95.2 L149.0 95.5 L149.7 95.8 L150.3 96.2 L150.8 96.7 L151.4 97.1 L152.0 97.6 L152.5 98.0 L153.1 98.5 L153.6 98.9 L154.2 99.4 L154.8 99.8 L155.3 100.3 L155.9 100.7 L156.4 101.2 L157.0 101.6 L157.6 102.1 L158.1 102.5 L158.7 103.0 L159.3 103.4 L159.8 103.9 L160.2 104.4 L160.6 105.0 L161.0 105.7 L161.3 106.3 L161.7 106.9 L162.0 107.5 L162.4 108.2 L162.7 108.8 L163.1 109.4 L163.4 110.0 L163.8 110.7 L164.2 111.3 L164.5 111.9 L164.9 112.5 L165.2 113.1 L165.6 113.8 L165.9 114.4 L166.3 115.0 L166.7 115.6 L167.0 116.3 L167.4 116.9 L167.7 117.5 L168.1 118.1 L168.3 118.8 L168.5 119.5 L168.8 120.2 L169.0 120.8 L169.3 121.5 L169.5 122.2 L169.8 122.9 L170.0 123.5 L170.3 124.2 L170.5 124.9 L170.8 125.6 L171.0 126.2 L171.2 126.9 L171.5 127.6 L171.7 128.3 L172.0 128.9 L172.2 129.6 L172.5 130.3 L172.7 131.0 L173.0 131.6 L173.2 132.3 L173.5 133.0 L173.7 133.7 L173.9 134.4 L174.2 135.0 L174.4 135.7 L174.7 136.4 L174.9 137.1 L175.2 137.7 L175.4 138.4 L175.7 139.1 L175.9 139.8 L176.1 140.4 L176.4 141.1 L176.6 141.8 L176.9 142.5 L177.1 143.1 L177.3 143.8 L177.6 144.5 L177.8 145.2 L178.0 145.9 L178.3 146.5 L178.5 147.2 L178.8 147.9 L179.0 148.6 L179.2 149.2 L179.5 149.9 L179.7 150.6 L179.9 151.3 L180.2 152.0 L180.4 152.6 L180.7 153.3 L180.9 154.0 L181.1 154.7 L181.4 155.3 L181.6 156.0 L181.8 156.7 L182.1 157.4 L182.3 158.1 L182.6 158.7 L182.8 159.4 L183.0 160.1 L183.3 160.8 L183.5 161.5 L183.7 162.1 L183.9 162.8 L184.2 163.5 L184.4 164.2 L184.6 164.9 L184.8 165.5 L185.1 166.2 L185.3 166.9 L185.5 167.6 L185.8 168.3 L186.0 168.9 L186.2 169.6 L186.4 170.3 L186.7 171.0 L186.9 171.7 L187.1 172.4 L187.3 173.0 L187.6 173.7 L187.8 174.4 L188.0 175.1 L188.3 175.8 L188.5 176.4 L188.7 177.1 L188.9 177.8 L189.2 178.5 L189.4 179.2 L189.6 179.9 L189.8 180.6 L190.0 181.2 L190.2 181.9 L190.4 182.6 L190.6 183.3 L190.8 184.0 L191.0 184.7 L191.3 185.4 L191.5 186.1 L191.7 186.7 L191.9 187.4 L192.1 188.1 L192.3 188.8 L192.5 189.5 L192.7 190.2 L192.9 190.9 L193.1 191.5 L193.3 192.2 L193.6 192.9 L193.8 193.6 L194.0 194.3 L194.2 195.0 L194.4 195.7 L194.5 196.4 L194.6 197.1 L194.6 197.8 L194.6 198.5 L194.7 199.2 L194.7 200.0 L194.8 200.7 L194.8 201.4 L194.8 202.1 L194.9 202.8 L194.9 203.5 L194.9 204.3 L195.0 205.0 L195.0 205.7 L195.1 206.4 L195.1 207.1 L195.1 207.8 L195.2 208.6 L195.2 209.3 L195.2 210.0" fill="none" stroke="#000" stroke-width="1.0" stroke-opacity="1" stroke-linejoin="round"/>
<path d="M72.3 52.0 L73.0 52.3 L73.6 52.6 L74.3 52.9 L74.9 53.2 L75.6 53.4 L76.2 53.7 L76.9 54.0 L77.6 54.3 L78.2 54.6 L78.9 54.9 L79.5 55.2 L80.2 55.5 L80.8 55.8 L81.5 56.1 L82.2 56.3 L82.8 56.6 L83.5 56.9 L84.1 57.2 L84.8 57.5 L85.4 57.8 L86.1 58.1 L86.7 58.4 L87.4 58.7 L88.1 58.9 L88.7 59.2 L89.4 59.5 L90.0 59.8 L90.7 60.1 L91.3 60.4 L92.0 60.7 L92.7 61.0 L93.3 61.3 L94.0 61.5 L94.6 61.8 L95.3 62.1 L95.9 62.5 L96.6 62.8 L97.2 63.1 L97.8 63.4 L98.5 63.7 L99.1 64.1 L99.8 64.4 L100.4 64.7 L101.1 65.0 L101.7 65.3 L102.3 65.7 L103.0 66.0 L103.6 66.3 L104.3 66.6 L104.9 67.0 L105.5 67.3 L106.2 67.6 L106.8 67.9 L107.5 68.2 L108.1 68.6 L108.8 68.9 L109.4 69.2 L110.0 69.5 L110.7 69.8 L111.3 70.2 L112.0 70.5 L112.6 70.8 L113.2 71.1 L113.9 71.4 L114.5 71.8 L115.2 72.1 L115.7 72.6 L116.3 73.0 L116.8 73.5 L117.4 73.9 L118.0 74.4 L118.5 74.8 L119.1 75.3 L119.6 75.7 L120.2 76.2 L120.8 76.6 L121.3 77.1 L121.9 77.5 L122.4 77.9 L123.0 78.4 L123.6 78.8 L124.1 79.3 L124.7 79.7 L125.3 80.2 L125.9 80.6 L126.4 81.0 L127.0 81.4 L127.6 81.8 L128.2 82.2 L128.8 82.6 L129.4 83.0 L130.0 83.4 L130.6 83.8 L131.2 84.1 L131.8 84.5 L132.4 84.9 L133.0 85.3 L133.6 85.7 L134.2 86.1 L134.8 86.5 L135.4 86.9 L136.0 87.3 L136.6 87.7 L137.2 88.1 L137.8 88.5 L138.4 88.9 L139.0 89.3 L139.6 89.7 L140.2 90.1 L140.8 90.5 L141.4 90.9 L142.0 91.3 L142.6 91.7 L143.2 92.1 L143.8 92.5 L144.4 92.9 L145.0 93.3 L145.6 93.7 L146.2 94.1 L146.7 94.5 L147.3 94.9 L147.9 95.3 L148.5 95.7 L149.1 96.1 L149.7 96.5 L150.3 96.9 L150.9 97.3 L151.5 97.7 L152.1 98.1 L152.7 98.5 L153.3 98.9 L153.9 99.3 L154.5 99.7 L155.1 100.1 L155.5 100.7 L156.0 101.2 L156.4 101.8 L156.9 102.3 L157.3 102.9 L157.8 103.5 L158.2 104.0 L158.7 104.6 L159.1 105.1 L159.6 105.7 L160.0 106.3 L160.5 106.8 L160.9 107.4 L161.4 107.9 L161.8 108.5 L162.3 109.1 L162.7 109.6 L163.1 110.2 L163.4 110.9 L163.7 111.5 L164.0 112.2 L164.3 112.8 L164.6 113.5 L164.8 114.2 L165.1 114.8 L165.4 115.5 L165.7 116.1 L166.0 116.8 L166.3 117.4 L166.6 118.1 L166.9 118.7 L167.2 119.4 L167.5 120.1 L167.8 120.7 L168.1 121.4 L168.3 122.0 L168.6 122.7 L168.9 123.3 L169.2 124.0 L169.5 124.6 L169.8 125.3 L170.1 126.0 L170.4 126.6 L170.7 127.3 L171.0 127.9 L171.2 128.6 L171.5 129.2 L171.8 129.9 L172.1 130.6 L172.3 131.2 L172.6 131.9 L172.9 132.6 L173.2 133.2 L173.4 133.9 L173.7 134.6 L174.0 135.2 L174.2 135.9 L174.5 136.5 L174.8 137.2 L175.1 137.9 L175.3 138.5 L175.6 139.2 L175.9 139.9 L176.2 140.5 L176.4 141.2 L176.7 141.9 L177.0 142.5 L177.3 143.2 L177.5 143.8 L177.8 144.5 L178.1 145.2 L178.3 145.9 L178.5 146.5 L178.8 147.2 L179.0 147.9 L179.3 148.6 L179.5 149.2 L179.7 149.9 L180.0 150.6 L180.2 151.3 L180.5 151.9 L180.7 152.6 L180.9 153.3 L181.2 154.0 L181.4 154.7 L181.6 155.3 L181.9 156.0 L182.1 156.7 L182.4 157.4 L182.6 158.0 L182.8 158.7 L183.1 159.4 L183.3 160.1 L183.6 160.7 L183.8 161.4 L184.0 162.1 L184.3 162.8 L184.5 163.5 L184.7 164.1 L184.9 164.8 L185.2 165.5 L185.4 166.2 L185.6 166.9 L185.8 167.5 L186.1 168.2 L186.3 168.9 L186.5 169.6 L186.8 170.3 L187.0 170.9 L187.2 171.6 L187.4 172.3 L187.7 173.0 L187.9 173.7 L188.1 174.3 L188.3 175.0 L188.6 175.7 L188.8 176.4 L189.0 177.1 L189.3 177.8 L189.5 178.4 L189.7 179.1 L189.9 179.8 L190.1 180.5 L190.3 181.2 L190.5 181.9 L190.7 182.6 L190.9 183.2 L191.1 183.9 L191.3 184.6 L191.5 185.3 L191.7 186.0 L191.9 186.7 L192.1 187.4 L192.3 188.1 L192.5 188.8 L192.7 189.5 L192.9 190.2 L193.1 190.8 L193.2 191.5 L193.4 192.2 L193.6 192.9 L193.8 193.6 L194.0 194.3 L194.2 195.0 L194.4 195.7 L194.5 196.4 L194.6 197.1 L194.6 197.8 L194.6 198.5 L194.7 199.3 L194.7 200.0 L194.8 200.7 L194.8 201.4 L194.8 202.1 L194.9 202.8 L194.9 203.6 L194.9 204.3 L195.0 205.0 L195.0 205.7 L195.1 206.4 L195.1 207.1 L195.1 207.9 L195.2 208.6 L195.2 209.3 L195.2 210.0" fill="none" stroke="#000" stroke-width="1.0" stroke-opacity="1" stroke-linejoin="round"/>
<path d="M72.3 53.2 L73.0 53.4 L73.7 53.6 L74.4 53.9 L75.1 54.1 L75.8 54.3 L76.5 54.5 L77.2 54.8 L77.9 55.0 L78.6 55.2 L79.3 55.4 L80.0 55.6 L80.7 55.9 L81.4 56.1 L82.1 56.3 L82.8 56.5 L83.5 56.8 L84.2 57.0 L84.9 57.2 L85.6 57.4 L86.3 57.7 L87.0 57.9 L87.7 58.1 L88.4 58.3 L89.1 58.5 L89.8 58.8 L90.5 59.0 L91.2 59.2 L91.9 59.4 L92.6 59.7 L93.3 59.9 L94.0 60.1 L94.7 60.3 L95.4 60.5 L96.1 60.8 L96.8 61.0 L97.5 61.2 L98.2 61.4 L98.9 61.7 L99.6 61.9 L100.3 62.1 L101.0 62.4 L101.6 62.7 L102.3 63.0 L103.0 63.3 L103.7 63.6 L104.3 63.9 L105.0 64.2 L105.7 64.5 L106.4 64.8 L107.0 65.1 L107.7 65.4 L108.4 65.7 L109.0 66.0 L109.7 66.3 L110.4 66.6 L111.1 66.9 L111.7 67.2 L112.4 67.5 L113.1 67.8 L113.8 68.1 L114.4 68.3 L115.1 68.6 L115.8 68.9 L116.4 69.2 L117.1 69.5 L117.8 69.8 L118.5 70.1 L119.1 70.4 L119.8 70.7 L120.5 71.0 L121.2 71.3 L121.8 71.6 L122.5 71.9 L123.2 72.2 L123.8 72.5 L124.5 72.8 L125.2 73.1 L125.8 73.5 L126.5 73.8 L127.1 74.2 L127.7 74.5 L128.4 74.9 L129.0 75.3 L129.7 75.6 L130.3 76.0 L131.0 76.3 L131.6 76.7 L132.2 77.1 L132.9 77.4 L133.5 77.8 L134.2 78.1 L134.8 78.5 L135.4 78.8 L136.1 79.2 L136.7 79.6 L137.4 79.9 L138.0 80.3 L138.6 80.6 L139.3 81.0 L139.9 81.4 L140.6 81.7 L141.2 82.1 L141.9 82.4 L142.5 82.8 L143.1 83.2 L143.8 83.5 L144.4 83.9 L145.1 84.2 L145.7 84.6 L146.3 85.0 L147.0 85.3 L147.6 85.7 L148.3 86.0 L148.9 86.4 L149.5 86.7 L150.2 87.1 L150.7 87.6 L151.3 88.1 L151.8 88.6 L152.4 89.1 L152.9 89.5 L153.5 90.0 L154.1 90.5 L154.6 91.0 L155.2 91.5 L155.7 92.0 L156.3 92.4 L156.8 92.9 L157.4 93.4 L157.9 93.9 L158.5 94.4 L159.1 94.8 L159.6 95.3 L160.2 95.8 L160.7 96.3 L161.3 96.8 L161.8 97.3 L162.4 97.7 L162.9 98.2 L163.5 98.7 L164.0 99.2 L164.6 99.7 L165.1 100.2 L165.4 100.8 L165.8 101.5 L166.1 102.2 L166.4 102.8 L166.7 103.5 L167.1 104.1 L167.4 104.8 L167.7 105.4 L168.1 106.1 L168.4 106.8 L168.7 107.4 L169.0 108.1 L169.4 108.7 L169.7 109.4 L170.0 110.0 L170.4 110.7 L170.7 111.4 L171.0 112.0 L171.3 112.7 L171.7 113.3 L172.0 114.0 L172.3 114.7 L172.7 115.3 L173.0 116.0 L173.3 116.6 L173.6 117.3 L174.0 117.9 L174.3 118.6 L174.6 119.3 L175.0 119.9 L175.2 120.6 L175.4 121.3 L175.6 122.0 L175.8 122.7 L176.0 123.4 L176.2 124.1 L176.4 124.9 L176.6 125.6 L176.8 126.3 L177.0 127.0 L177.2 127.7 L177.4 128.4 L177.5 129.1 L177.7 129.8 L177.9 130.5 L178.1 131.2 L178.3 131.9 L178.5 132.6 L178.7 133.3 L178.9 134.1 L179.1 134.8 L179.3 135.5 L179.5 136.2 L179.7 136.9 L179.9 137.6 L180.1 138.3 L180.3 139.0 L180.5 139.7 L180.7 140.4 L180.9 141.1 L181.1 141.8 L181.3 142.5 L181.5 143.3 L181.7 144.0 L181.9 144.7 L182.1 145.4 L182.3 146.1 L182.5 146.8 L182.7 147.5 L182.8 148.2 L183.0 148.9 L183.2 149.6 L183.4 150.4 L183.6 151.1 L183.8 151.8 L184.0 152.5 L184.1 153.2 L184.3 153.9 L184.5 154.6 L184.7 155.3 L184.9 156.0 L185.1 156.8 L185.3 157.5 L185.4 158.2 L185.6 158.9 L185.8 159.6 L186.0 160.3 L186.2 161.0 L186.4 161.7 L186.6 162.4 L186.7 163.2 L186.9 163.9 L187.1 164.6 L187.3 165.3 L187.5 166.0 L187.7 166.7 L187.8 167.4 L188.0 168.1 L188.2 168.9 L188.4 169.6 L188.5 170.3 L188.7 171.0 L188.9 171.7 L189.0 172.4 L189.2 173.1 L189.4 173.9 L189.5 174.6 L189.7 175.3 L189.9 176.0 L190.0 176.7 L190.2 177.4 L190.4 178.2 L190.5 178.9 L190.7 179.6 L190.9 180.3 L191.0 181.0 L191.2 181.7 L191.4 182.5 L191.5 183.2 L191.7 183.9 L191.9 184.6 L192.0 185.3 L192.2 186.0 L192.4 186.7 L192.5 187.5 L192.7 188.2 L192.9 188.9 L193.0 189.6 L193.2 190.3 L193.3 191.0 L193.5 191.8 L193.7 192.5 L193.8 193.2 L194.0 193.9 L194.2 194.6 L194.3 195.3 L194.5 196.1 L194.5 196.8 L194.6 197.5 L194.6 198.3 L194.7 199.0 L194.7 199.7 L194.7 200.5 L194.8 201.2 L194.8 201.9 L194.9 202.7 L194.9 203.4 L194.9 204.1 L195.0 204.9 L195.0 205.6 L195.1 206.3 L195.1 207.1 L195.1 207.8 L195.2 208.5 L195.2 209.3 L195.2 210.0" fill="none" stroke="#000" stroke-width="1.0" stroke-opacity="1" stroke-linejoin="round"/>
<path d="M318.2 46.0 L317.2 46.1 L316.3 46.3 L315.3 46.5 L314.3 46.6 L313.4 46.8 L312.4 46.9 L311.4 47.1 L310.5 47.2 L309.5 47.4 L308.5 47.6 L307.5 47.7 L306.6 47.9 L305.6 48.1 L304.6 48.2 L303.7 48.4 L302.7 48.6 L301.7 48.7 L300.8 48.9 L299.8 49.1 L298.9 49.3 L297.9 49.5 L296.9 49.6 L296.0 49.8 L295.0 50.0 L294.0 50.2 L293.1 50.4 L292.1 50.6 L291.1 50.8 L290.2 50.9 L289.2 51.1 L288.3 51.3 L287.3 51.5 L286.3 51.7 L285.4 51.9 L284.4 52.1 L283.5 52.3 L282.5 52.5 L281.5 52.8 L280.6 53.0 L279.6 53.2 L278.7 53.4 L277.7 53.6 L276.8 53.8 L275.8 54.1 L274.8 54.3 L273.9 54.5 L272.9 54.7 L272.0 55.0 L271.0 55.2 L270.1 55.4 L269.1 55.7 L268.2 55.9 L267.2 56.2 L266.3 56.4 L265.3 56.7 L264.4 56.9 L263.4 57.2 L262.5 57.5 L261.5 57.7 L260.6 58.0 L259.7 58.3 L258.7 58.5 L257.8 58.8 L256.8 59.1 L255.9 59.4 L255.0 59.7 L254.0 60.0 L253.1 60.3 L252.2 60.6 L251.2 60.9 L250.3 61.2 L249.4 61.5 L248.4 61.8 L247.5 62.2 L246.6 62.5 L245.7 62.8 L244.7 63.2 L243.8 63.5 L242.9 63.9 L242.0 64.2 L241.1 64.6 L240.2 65.0 L239.3 65.3 L238.4 65.7 L237.5 66.1 L236.6 66.5 L235.7 66.9 L234.8 67.3 L233.9 67.8 L233.0 68.2 L232.1 68.6 L231.3 69.1 L230.4 69.5 L229.5 70.0 L228.7 70.4 L227.8 70.9 L227.0 71.4 L226.1 71.9 L225.3 72.4 L224.4 72.9 L223.6 73.5 L222.8 74.0 L222.0 74.5 L221.2 75.1 L220.4 75.7 L219.6 76.3 L218.8 76.9 L218.0 77.5 L217.3 78.1 L216.5 78.7 L215.8 79.4 L215.1 80.0 L214.4 80.7 L213.7 81.4 L213.0 82.1 L212.3 82.8 L211.6 83.5 L211.0 84.3 L210.4 85.0 L209.7 85.8 L209.1 86.6 L208.6 87.4 L208.0 88.2 L207.4 89.0 L206.9 89.8 L206.4 90.6 L205.9 91.5 L205.4 92.3 L205.0 93.2 L204.5 94.1 L204.1 95.0 L203.7 95.9 L203.3 96.8 L203.0 97.7 L202.6 98.6 L202.3 99.5 L201.9 100.4 L201.6 101.4 L201.3 102.3 L201.1 103.2 L200.8 104.2 L200.5 105.1 L200.3 106.1 L200.1 107.0 L199.9 108.0 L199.6 109.0 L199.4 109.9 L199.3 110.9 L199.1 111.8 L198.9 112.8 L198.8 113.8 L198.6 114.8 L198.5 115.7 L198.3 116.7 L198.2 117.7 L198.1 118.6 L198.0 119.6 L197.8 120.6 L197.7 121.6 L197.6 122.5 L197.5 123.5 L197.4 124.5 L197.4 125.5 L197.3 126.4 L197.2 127.4 L197.1 128.4 L197.0 129.4 L197.0 130.4 L196.9 131.3 L196.8 132.3 L196.8 133.3 L196.7 134.3 L196.7 135.3 L196.6 136.2 L196.6 137.2 L196.5 138.2 L196.5 139.2 L196.4 140.2 L196.4 141.1 L196.4 142.1 L196.3 143.1 L196.3 144.1 L196.2 145.1 L196.2 146.0 L196.2 147.0 L196.1 148.0 L196.1 149.0 L196.1 150.0 L196.1 150.9 L196.0 151.9 L196.0 152.9 L196.0 153.9 L195.9 154.9 L195.9 155.8 L195.9 156.8 L195.9 157.8 L195.9 158.8 L195.8 159.8 L195.8 160.8 L195.8 161.7 L195.8 162.7 L195.8 163.7 L195.8 164.7 L195.7 165.7 L195.7 166.6 L195.7 167.6 L195.7 168.6 L195.7 169.6 L195.7 170.6 L195.7 171.5 L195.6 172.5 L195.6 173.5 L195.6 174.5 L195.6 175.5 L195.6 176.5 L195.6 177.4 L195.6 178.4 L195.6 179.4 L195.5 180.4 L195.5 181.4 L195.5 182.3 L195.5 183.3 L195.5 184.3 L195.5 185.3 L195.5 186.3 L195.5 187.2 L195.5 188.2 L195.5 189.2 L195.4 190.2 L195.4 191.2 L195.4 192.2 L195.4 193.1 L195.4 194.1 L195.4 195.1 L195.3 196.1 L195.3 197.1 L195.3 198.0 L195.3 199.0 L195.2 200.0 M318.2 46.3 L317.2 46.4 L316.3 46.5 L315.3 46.6 L314.4 46.6 L313.4 46.7 L312.4 46.8 L311.5 46.9 L310.5 47.0 L309.5 47.1 L308.6 47.2 L307.6 47.3 L306.7 47.4 L305.7 47.6 L304.8 47.7 L303.8 47.9 L302.9 48.0 L301.9 48.1 L300.9 48.3 L300.0 48.5 L299.1 48.7 L298.1 48.8 L297.2 49.0 L296.2 49.2 L295.3 49.4 L294.3 49.6 L293.4 49.8 L292.4 50.0 L291.5 50.3 L290.6 50.5 L289.6 50.7 L288.7 51.0 L287.8 51.2 L286.8 51.5 L285.9 51.7 L285.0 52.0 L284.0 52.3 L283.1 52.5 L282.2 52.8 L281.3 53.1 L280.4 53.4 L279.4 53.7 L278.5 54.0 L277.6 54.3 L276.7 54.6 L275.8 54.9 L274.9 55.3 L274.0 55.6 L273.1 55.9 L272.2 56.3 L271.2 56.6 L270.3 56.9 L269.4 57.3 L268.5 57.6 L267.6 58.0 L266.7 58.3 L265.9 58.7 L265.0 59.0 L264.1 59.4 L263.2 59.8 L262.3 60.1 L261.4 60.5 L260.5 60.9 L259.6 61.2 L258.7 61.6 L257.8 61.9 L256.9 62.3 L256.0 62.7 L255.1 63.1 L254.2 63.4 L253.3 63.8 L252.5 64.2 L251.6 64.6 L250.7 64.9 L249.8 65.3 L248.9 65.7 L248.0 66.1 L247.1 66.5 L246.2 66.8 L245.4 67.2 L244.5 67.6 L243.6 68.0 L242.7 68.4 L241.8 68.8 L241.0 69.2 L240.1 69.6 L239.2 70.0 L238.3 70.4 L237.5 70.8 L236.6 71.2 L235.7 71.7 L234.9 72.1 L234.0 72.5 L233.1 72.9 L232.3 73.4 L231.4 73.8 L230.5 74.3 L229.7 74.7 L228.8 75.2 L228.0 75.6 L227.2 76.1 L226.3 76.6 L225.5 77.1 L224.7 77.6 L223.8 78.1 L223.0 78.6 L222.2 79.1 L221.4 79.7 L220.6 80.2 L219.8 80.8 L219.1 81.3 L218.3 81.9 L217.5 82.5 L216.8 83.1 L216.1 83.8 L215.4 84.4 L214.7 85.1 L214.0 85.8 L213.3 86.5 L212.7 87.2 L212.1 87.9 L211.5 88.7 L210.9 89.5 L210.3 90.3 L209.8 91.0 L209.2 91.9 L208.7 92.7 L208.2 93.5 L207.8 94.4 L207.3 95.2 L206.9 96.1 L206.5 96.9 L206.1 97.8 L205.7 98.7 L205.3 99.6 L205.0 100.5 L204.6 101.4 L204.3 102.3 L204.0 103.2 L203.7 104.1 L203.4 105.0 L203.1 106.0 L202.8 106.9 L202.6 107.8 L202.3 108.8 L202.1 109.7 L201.8 110.6 L201.6 111.6 L201.4 112.5 L201.2 113.5 L201.0 114.4 L200.8 115.3 L200.6 116.3 L200.5 117.2 L200.3 118.2 L200.1 119.1 L200.0 120.1 L199.8 121.0 L199.7 122.0 L199.5 123.0 L199.4 123.9 L199.3 124.9 L199.1 125.8 L199.0 126.8 L198.9 127.7 L198.8 128.7 L198.7 129.7 L198.5 130.6 L198.4 131.6 L198.3 132.5 L198.2 133.5 L198.2 134.5 L198.1 135.4 L198.0 136.4 L197.9 137.3 L197.8 138.3 L197.7 139.3 L197.6 140.2 L197.6 141.2 L197.5 142.1 L197.4 143.1 L197.4 144.1 L197.3 145.0 L197.2 146.0 L197.2 147.0 L197.1 147.9 L197.0 148.9 L197.0 149.9 L196.9 150.8 L196.9 151.8 L196.8 152.7 L196.8 153.7 L196.7 154.7 L196.7 155.6 L196.6 156.6 L196.6 157.6 L196.6 158.5 L196.5 159.5 L196.5 160.5 L196.4 161.4 L196.4 162.4 L196.4 163.3 L196.3 164.3 L196.3 165.3 L196.3 166.2 L196.2 167.2 L196.2 168.2 L196.2 169.1 L196.1 170.1 L196.1 171.1 L196.1 172.0 L196.0 173.0 L196.0 174.0 L196.0 174.9 L196.0 175.9 L195.9 176.9 L195.9 177.8 L195.9 178.8 L195.9 179.7 L195.8 180.7 L195.8 181.7 L195.8 182.6 L195.8 183.6 L195.8 184.6 L195.7 185.5 L195.7 186.5 L195.7 187.5 L195.7 188.4 L195.7 189.4 L195.6 190.4 L195.6 191.3 L195.6 192.3 L195.6 193.3 L195.6 194.2 L195.5 195.2 L195.5 196.1 L195.4 197.1 L195.4 198.1 L195.3 199.0 L195.2 200.0 M318.2 46.7 L317.2 46.8 L316.3 46.9 L315.3 46.9 L314.4 47.0 L313.4 47.1 L312.5 47.2 L311.5 47.3 L310.6 47.4 L309.6 47.5 L308.7 47.6 L307.7 47.8 L306.8 47.9 L305.8 48.0 L304.9 48.2 L303.9 48.3 L303.0 48.5 L302.0 48.6 L301.1 48.8 L300.1 49.0 L299.2 49.2 L298.3 49.3 L297.3 49.5 L296.4 49.7 L295.4 49.9 L294.5 50.2 L293.6 50.4 L292.6 50.6 L291.7 50.8 L290.8 51.0 L289.9 51.3 L288.9 51.5 L288.0 51.8 L287.1 52.0 L286.2 52.3 L285.2 52.6 L284.3 52.9 L283.4 53.1 L282.5 53.4 L281.6 53.7 L280.7 54.0 L279.7 54.3 L278.8 54.6 L277.9 54.9 L277.0 55.2 L276.1 55.5 L275.2 55.9 L274.3 56.2 L273.4 56.5 L272.5 56.9 L271.6 57.2 L270.7 57.5 L269.8 57.9 L268.9 58.2 L268.0 58.6 L267.2 58.9 L266.3 59.3 L265.4 59.7 L264.5 60.0 L263.6 60.4 L262.7 60.8 L261.8 61.1 L260.9 61.5 L260.1 61.8 L259.2 62.2 L258.3 62.6 L257.4 63.0 L256.5 63.3 L255.6 63.7 L254.7 64.1 L253.9 64.4 L253.0 64.8 L252.1 65.2 L251.2 65.6 L250.3 66.0 L249.5 66.3 L248.6 66.7 L247.7 67.1 L246.8 67.5 L245.9 67.9 L245.1 68.3 L244.2 68.7 L243.3 69.1 L242.5 69.5 L241.6 69.9 L240.7 70.3 L239.8 70.7 L239.0 71.1 L238.1 71.5 L237.3 71.9 L236.4 72.3 L235.5 72.8 L234.7 73.2 L233.8 73.6 L233.0 74.1 L232.1 74.5 L231.3 75.0 L230.4 75.4 L229.6 75.9 L228.8 76.4 L227.9 76.9 L227.1 77.3 L226.3 77.8 L225.5 78.3 L224.7 78.9 L223.9 79.4 L223.1 79.9 L222.3 80.5 L221.5 81.0 L220.7 81.6 L220.0 82.2 L219.2 82.8 L218.5 83.4 L217.8 84.0 L217.1 84.7 L216.4 85.3 L215.7 86.0 L215.0 86.7 L214.4 87.4 L213.8 88.1 L213.2 88.9 L212.6 89.6 L212.0 90.4 L211.4 91.2 L210.9 92.0 L210.4 92.8 L209.9 93.6 L209.4 94.4 L208.9 95.3 L208.5 96.1 L208.0 97.0 L207.6 97.8 L207.2 98.7 L206.8 99.6 L206.5 100.4 L206.1 101.3 L205.8 102.2 L205.4 103.1 L205.1 104.0 L204.8 104.9 L204.5 105.8 L204.2 106.8 L203.9 107.7 L203.6 108.6 L203.4 109.5 L203.1 110.4 L202.9 111.4 L202.6 112.3 L202.4 113.2 L202.2 114.2 L202.0 115.1 L201.8 116.0 L201.6 117.0 L201.4 117.9 L201.2 118.8 L201.0 119.8 L200.8 120.7 L200.7 121.7 L200.5 122.6 L200.3 123.6 L200.2 124.5 L200.0 125.4 L199.9 126.4 L199.7 127.3 L199.6 128.3 L199.5 129.2 L199.4 130.2 L199.2 131.1 L199.1 132.1 L199.0 133.0 L198.9 134.0 L198.8 134.9 L198.7 135.9 L198.6 136.8 L198.5 137.8 L198.4 138.7 L198.3 139.7 L198.2 140.7 L198.1 141.6 L198.0 142.6 L197.9 143.5 L197.8 144.5 L197.7 145.4 L197.7 146.4 L197.6 147.3 L197.5 148.3 L197.4 149.2 L197.4 150.2 L197.3 151.2 L197.2 152.1 L197.2 153.1 L197.1 154.0 L197.1 155.0 L197.0 155.9 L196.9 156.9 L196.9 157.9 L196.8 158.8 L196.8 159.8 L196.7 160.7 L196.7 161.7 L196.6 162.6 L196.6 163.6 L196.5 164.6 L196.5 165.5 L196.4 166.5 L196.4 167.4 L196.3 168.4 L196.3 169.3 L196.3 170.3 L196.2 171.3 L196.2 172.2 L196.2 173.2 L196.1 174.1 L196.1 175.1 L196.1 176.0 L196.0 177.0 L196.0 178.0 L196.0 178.9 L195.9 179.9 L195.9 180.8 L195.9 181.8 L195.9 182.8 L195.8 183.7 L195.8 184.7 L195.8 185.6 L195.8 186.6 L195.8 187.5 L195.7 188.5 L195.7 189.5 L195.7 190.4 L195.7 191.4 L195.7 192.3 L195.6 193.3 L195.6 194.3 L195.5 195.2 L195.5 196.2 L195.4 197.1 L195.4 198.1 L195.3 199.0 L195.2 200.0 M318.2 47.1 L317.3 47.2 L316.3 47.3 L315.4 47.4 L314.4 47.5 L313.5 47.6 L312.5 47.7 L311.6 47.8 L310.6 47.9 L309.7 48.0 L308.7 48.1 L307.8 48.3 L306.9 48.4 L305.9 48.6 L305.0 48.7 L304.0 48.9 L303.1 49.0 L302.2 49.2 L301.2 49.4 L300.3 49.6 L299.4 49.8 L298.4 49.9 L297.5 50.1 L296.6 50.3 L295.7 50.6 L294.7 50.8 L293.8 51.0 L292.9 51.2 L292.0 51.4 L291.0 51.7 L290.1 51.9 L289.2 52.2 L288.3 52.4 L287.4 52.7 L286.5 53.0 L285.5 53.3 L284.6 53.5 L283.7 53.8 L282.8 54.1 L281.9 54.4 L281.0 54.7 L280.1 55.0 L279.2 55.3 L278.3 55.6 L277.4 55.9 L276.5 56.3 L275.6 56.6 L274.7 56.9 L273.8 57.2 L272.9 57.6 L272.1 57.9 L271.2 58.3 L270.3 58.6 L269.4 59.0 L268.5 59.3 L267.6 59.7 L266.8 60.0 L265.9 60.4 L265.0 60.8 L264.1 61.1 L263.2 61.5 L262.4 61.9 L261.5 62.2 L260.6 62.6 L259.7 63.0 L258.8 63.3 L258.0 63.7 L257.1 64.1 L256.2 64.4 L255.3 64.8 L254.5 65.2 L253.6 65.6 L252.7 66.0 L251.8 66.3 L251.0 66.7 L250.1 67.1 L249.2 67.5 L248.4 67.9 L247.5 68.3 L246.6 68.7 L245.8 69.0 L244.9 69.4 L244.0 69.8 L243.2 70.2 L242.3 70.6 L241.5 71.1 L240.6 71.5 L239.7 71.9 L238.9 72.3 L238.0 72.7 L237.2 73.1 L236.3 73.6 L235.5 74.0 L234.6 74.5 L233.8 74.9 L233.0 75.4 L232.1 75.8 L231.3 76.3 L230.5 76.8 L229.7 77.2 L228.8 77.7 L228.0 78.2 L227.2 78.7 L226.4 79.2 L225.6 79.8 L224.9 80.3 L224.1 80.9 L223.3 81.4 L222.6 82.0 L221.8 82.6 L221.1 83.2 L220.3 83.8 L219.6 84.4 L218.9 85.0 L218.2 85.7 L217.6 86.4 L216.9 87.1 L216.3 87.8 L215.6 88.5 L215.0 89.2 L214.4 89.9 L213.9 90.7 L213.3 91.5 L212.8 92.3 L212.2 93.0 L211.7 93.8 L211.2 94.7 L210.8 95.5 L210.3 96.3 L209.8 97.2 L209.4 98.0 L209.0 98.9 L208.6 99.7 L208.2 100.6 L207.8 101.5 L207.4 102.3 L207.1 103.2 L206.7 104.1 L206.4 105.0 L206.1 105.9 L205.8 106.8 L205.5 107.7 L205.2 108.6 L204.9 109.5 L204.6 110.4 L204.3 111.3 L204.1 112.2 L203.8 113.1 L203.6 114.1 L203.3 115.0 L203.1 115.9 L202.9 116.8 L202.7 117.7 L202.4 118.7 L202.2 119.6 L202.0 120.5 L201.8 121.5 L201.7 122.4 L201.5 123.3 L201.3 124.2 L201.1 125.2 L201.0 126.1 L200.8 127.0 L200.6 128.0 L200.5 128.9 L200.3 129.9 L200.2 130.8 L200.0 131.7 L199.9 132.7 L199.8 133.6 L199.6 134.6 L199.5 135.5 L199.4 136.4 L199.2 137.4 L199.1 138.3 L199.0 139.3 L198.9 140.2 L198.8 141.2 L198.7 142.1 L198.6 143.0 L198.5 144.0 L198.4 144.9 L198.3 145.9 L198.2 146.8 L198.1 147.8 L198.0 148.7 L197.9 149.7 L197.8 150.6 L197.7 151.6 L197.7 152.5 L197.6 153.5 L197.5 154.4 L197.4 155.3 L197.4 156.3 L197.3 157.2 L197.2 158.2 L197.1 159.1 L197.1 160.1 L197.0 161.0 L196.9 162.0 L196.9 162.9 L196.8 163.9 L196.8 164.8 L196.7 165.8 L196.7 166.7 L196.6 167.7 L196.5 168.6 L196.5 169.6 L196.4 170.5 L196.4 171.5 L196.3 172.4 L196.3 173.4 L196.3 174.3 L196.2 175.3 L196.2 176.2 L196.1 177.2 L196.1 178.1 L196.1 179.1 L196.0 180.0 L196.0 181.0 L196.0 181.9 L196.0 182.9 L195.9 183.8 L195.9 184.8 L195.9 185.7 L195.9 186.7 L195.8 187.6 L195.8 188.6 L195.8 189.5 L195.8 190.5 L195.7 191.5 L195.7 192.4 L195.7 193.4 L195.6 194.3 L195.6 195.3 L195.5 196.2 L195.4 197.2 L195.4 198.1 L195.3 199.1 L195.2 200.0 M318.2 47.6 L317.3 47.7 L316.3 47.8 L315.4 47.9 L314.5 48.0 L313.5 48.1 L312.6 48.2 L311.6 48.3 L310.7 48.5 L309.8 48.6 L308.8 48.7 L307.9 48.9 L307.0 49.0 L306.1 49.2 L305.1 49.4 L304.2 49.5 L303.3 49.7 L302.3 49.9 L301.4 50.1 L300.5 50.3 L299.6 50.4 L298.7 50.6 L297.7 50.8 L296.8 51.1 L295.9 51.3 L295.0 51.5 L294.1 51.7 L293.2 52.0 L292.2 52.2 L291.3 52.5 L290.4 52.7 L289.5 53.0 L288.6 53.2 L287.7 53.5 L286.8 53.8 L285.9 54.0 L285.0 54.3 L284.1 54.6 L283.2 54.9 L282.3 55.2 L281.4 55.5 L280.5 55.8 L279.6 56.1 L278.7 56.4 L277.9 56.8 L277.0 57.1 L276.1 57.4 L275.2 57.7 L274.3 58.1 L273.4 58.4 L272.6 58.8 L271.7 59.1 L270.8 59.5 L269.9 59.8 L269.1 60.2 L268.2 60.5 L267.3 60.9 L266.5 61.3 L265.6 61.6 L264.7 62.0 L263.8 62.4 L263.0 62.7 L262.1 63.1 L261.2 63.5 L260.4 63.8 L259.5 64.2 L258.6 64.6 L257.8 65.0 L256.9 65.3 L256.0 65.7 L255.2 66.1 L254.3 66.5 L253.5 66.8 L252.6 67.2 L251.7 67.6 L250.9 68.0 L250.0 68.4 L249.2 68.8 L248.3 69.2 L247.4 69.6 L246.6 70.0 L245.7 70.3 L244.9 70.7 L244.0 71.2 L243.2 71.6 L242.3 72.0 L241.5 72.4 L240.6 72.8 L239.8 73.2 L238.9 73.7 L238.1 74.1 L237.3 74.5 L236.4 75.0 L235.6 75.4 L234.8 75.9 L234.0 76.3 L233.1 76.8 L232.3 77.3 L231.5 77.8 L230.7 78.2 L229.9 78.8 L229.1 79.3 L228.3 79.8 L227.6 80.3 L226.8 80.9 L226.0 81.4 L225.3 82.0 L224.5 82.5 L223.8 83.1 L223.1 83.7 L222.4 84.3 L221.7 85.0 L221.0 85.6 L220.3 86.3 L219.6 86.9 L219.0 87.6 L218.3 88.3 L217.7 89.0 L217.1 89.7 L216.5 90.5 L216.0 91.2 L215.4 92.0 L214.9 92.7 L214.3 93.5 L213.8 94.3 L213.3 95.1 L212.8 95.9 L212.4 96.7 L211.9 97.6 L211.5 98.4 L211.0 99.2 L210.6 100.1 L210.2 100.9 L209.8 101.8 L209.4 102.6 L209.0 103.5 L208.7 104.4 L208.3 105.2 L208.0 106.1 L207.6 107.0 L207.3 107.9 L207.0 108.8 L206.6 109.7 L206.3 110.5 L206.0 111.4 L205.8 112.3 L205.5 113.2 L205.2 114.1 L204.9 115.0 L204.7 115.9 L204.4 116.8 L204.2 117.8 L203.9 118.7 L203.7 119.6 L203.5 120.5 L203.3 121.4 L203.0 122.3 L202.8 123.2 L202.6 124.1 L202.4 125.1 L202.2 126.0 L202.0 126.9 L201.8 127.8 L201.7 128.8 L201.5 129.7 L201.3 130.6 L201.1 131.5 L201.0 132.5 L200.8 133.4 L200.7 134.3 L200.5 135.2 L200.3 136.2 L200.2 137.1 L200.1 138.0 L199.9 139.0 L199.8 139.9 L199.6 140.8 L199.5 141.7 L199.4 142.7 L199.3 143.6 L199.1 144.5 L199.0 145.5 L198.9 146.4 L198.8 147.4 L198.7 148.3 L198.6 149.2 L198.5 150.2 L198.4 151.1 L198.3 152.0 L198.2 153.0 L198.1 153.9 L198.0 154.8 L197.9 155.8 L197.8 156.7 L197.7 157.7 L197.6 158.6 L197.5 159.5 L197.4 160.5 L197.4 161.4 L197.3 162.3 L197.2 163.3 L197.1 164.2 L197.0 165.2 L197.0 166.1 L196.9 167.0 L196.8 168.0 L196.8 168.9 L196.7 169.9 L196.6 170.8 L196.6 171.7 L196.5 172.7 L196.5 173.6 L196.4 174.6 L196.4 175.5 L196.3 176.5 L196.3 177.4 L196.2 178.3 L196.2 179.3 L196.2 180.2 L196.1 181.2 L196.1 182.1 L196.1 183.0 L196.0 184.0 L196.0 184.9 L196.0 185.9 L195.9 186.8 L195.9 187.8 L195.9 188.7 L195.9 189.6 L195.8 190.6 L195.8 191.5 L195.8 192.5 L195.8 193.4 L195.7 194.4 L195.6 195.3 L195.5 196.2 L195.5 197.2 L195.4 198.1 L195.3 199.1 L195.2 200.0 M318.2 47.9 L317.3 48.0 L316.3 48.1 L315.4 48.3 L314.5 48.4 L313.5 48.5 L312.6 48.6 L311.7 48.7 L310.8 48.9 L309.8 49.0 L308.9 49.2 L308.0 49.3 L307.1 49.5 L306.1 49.6 L305.2 49.8 L304.3 50.0 L303.4 50.1 L302.5 50.3 L301.5 50.5 L300.6 50.7 L299.7 50.9 L298.8 51.1 L297.9 51.3 L297.0 51.5 L296.1 51.8 L295.2 52.0 L294.2 52.2 L293.3 52.5 L292.4 52.7 L291.5 53.0 L290.6 53.2 L289.7 53.5 L288.8 53.8 L287.9 54.0 L287.0 54.3 L286.1 54.6 L285.3 54.9 L284.4 55.2 L283.5 55.5 L282.6 55.8 L281.7 56.1 L280.8 56.4 L279.9 56.7 L279.0 57.0 L278.2 57.3 L277.3 57.7 L276.4 58.0 L275.5 58.3 L274.7 58.7 L273.8 59.0 L272.9 59.3 L272.0 59.7 L271.2 60.0 L270.3 60.4 L269.4 60.8 L268.6 61.1 L267.7 61.5 L266.9 61.8 L266.0 62.2 L265.1 62.6 L264.3 62.9 L263.4 63.3 L262.5 63.7 L261.7 64.1 L260.8 64.4 L260.0 64.8 L259.1 65.2 L258.2 65.6 L257.4 65.9 L256.5 66.3 L255.7 66.7 L254.8 67.1 L254.0 67.5 L253.1 67.8 L252.2 68.2 L251.4 68.6 L250.5 69.0 L249.7 69.4 L248.8 69.8 L248.0 70.2 L247.1 70.6 L246.3 71.0 L245.4 71.4 L244.6 71.8 L243.8 72.2 L242.9 72.6 L242.1 73.0 L241.2 73.4 L240.4 73.9 L239.6 74.3 L238.7 74.7 L237.9 75.2 L237.1 75.6 L236.3 76.1 L235.5 76.5 L234.6 77.0 L233.8 77.5 L233.0 78.0 L232.2 78.4 L231.4 78.9 L230.7 79.5 L229.9 80.0 L229.1 80.5 L228.3 81.0 L227.6 81.6 L226.8 82.1 L226.1 82.7 L225.4 83.3 L224.6 83.9 L223.9 84.5 L223.2 85.1 L222.6 85.8 L221.9 86.4 L221.2 87.1 L220.6 87.8 L220.0 88.5 L219.3 89.2 L218.7 89.9 L218.1 90.6 L217.6 91.3 L217.0 92.1 L216.5 92.8 L215.9 93.6 L215.4 94.4 L214.9 95.2 L214.4 96.0 L213.9 96.8 L213.5 97.6 L213.0 98.4 L212.6 99.2 L212.1 100.1 L211.7 100.9 L211.3 101.8 L210.9 102.6 L210.5 103.4 L210.1 104.3 L209.7 105.2 L209.4 106.0 L209.0 106.9 L208.7 107.8 L208.3 108.6 L208.0 109.5 L207.7 110.4 L207.3 111.3 L207.0 112.1 L206.7 113.0 L206.4 113.9 L206.2 114.8 L205.9 115.7 L205.6 116.6 L205.3 117.5 L205.1 118.4 L204.8 119.3 L204.6 120.2 L204.3 121.1 L204.1 122.0 L203.9 122.9 L203.6 123.8 L203.4 124.7 L203.2 125.6 L203.0 126.5 L202.8 127.4 L202.6 128.4 L202.4 129.3 L202.2 130.2 L202.0 131.1 L201.8 132.0 L201.6 132.9 L201.4 133.9 L201.3 134.8 L201.1 135.7 L200.9 136.6 L200.8 137.5 L200.6 138.5 L200.5 139.4 L200.3 140.3 L200.2 141.2 L200.0 142.2 L199.9 143.1 L199.7 144.0 L199.6 144.9 L199.5 145.9 L199.3 146.8 L199.2 147.7 L199.1 148.6 L199.0 149.6 L198.8 150.5 L198.7 151.4 L198.6 152.4 L198.5 153.3 L198.4 154.2 L198.3 155.1 L198.2 156.1 L198.1 157.0 L198.0 157.9 L197.9 158.9 L197.8 159.8 L197.7 160.7 L197.6 161.7 L197.5 162.6 L197.4 163.5 L197.3 164.5 L197.2 165.4 L197.2 166.3 L197.1 167.3 L197.0 168.2 L196.9 169.1 L196.9 170.1 L196.8 171.0 L196.7 171.9 L196.7 172.9 L196.6 173.8 L196.5 174.7 L196.5 175.7 L196.4 176.6 L196.4 177.5 L196.3 178.5 L196.3 179.4 L196.2 180.3 L196.2 181.3 L196.2 182.2 L196.1 183.2 L196.1 184.1 L196.1 185.0 L196.0 186.0 L196.0 186.9 L196.0 187.8 L195.9 188.8 L195.9 189.7 L195.9 190.7 L195.9 191.6 L195.8 192.5 L195.8 193.5 L195.7 194.4 L195.6 195.3 L195.6 196.3 L195.5 197.2 L195.4 198.1 L195.3 199.1 L195.2 200.0 M318.2 48.2 L317.3 48.3 L316.3 48.4 L315.4 48.5 L314.5 48.7 L313.6 48.8 L312.7 48.9 L311.7 49.0 L310.8 49.2 L309.9 49.3 L309.0 49.5 L308.0 49.6 L307.1 49.8 L306.2 50.0 L305.3 50.1 L304.4 50.3 L303.5 50.5 L302.6 50.7 L301.6 50.9 L300.7 51.1 L299.8 51.3 L298.9 51.5 L298.0 51.7 L297.1 51.9 L296.2 52.2 L295.3 52.4 L294.4 52.6 L293.5 52.9 L292.6 53.1 L291.7 53.4 L290.8 53.6 L289.9 53.9 L289.0 54.2 L288.1 54.4 L287.2 54.7 L286.3 55.0 L285.5 55.3 L284.6 55.6 L283.7 55.9 L282.8 56.2 L281.9 56.5 L281.0 56.8 L280.2 57.1 L279.3 57.4 L278.4 57.8 L277.5 58.1 L276.7 58.4 L275.8 58.8 L274.9 59.1 L274.1 59.5 L273.2 59.8 L272.3 60.1 L271.5 60.5 L270.6 60.9 L269.7 61.2 L268.9 61.6 L268.0 61.9 L267.2 62.3 L266.3 62.7 L265.5 63.0 L264.6 63.4 L263.7 63.8 L262.9 64.2 L262.0 64.5 L261.2 64.9 L260.3 65.3 L259.5 65.7 L258.6 66.0 L257.8 66.4 L256.9 66.8 L256.1 67.2 L255.2 67.6 L254.4 67.9 L253.5 68.3 L252.7 68.7 L251.8 69.1 L251.0 69.5 L250.1 69.9 L249.3 70.3 L248.4 70.7 L247.6 71.1 L246.7 71.5 L245.9 71.9 L245.1 72.3 L244.2 72.7 L243.4 73.1 L242.6 73.5 L241.7 73.9 L240.9 74.4 L240.1 74.8 L239.2 75.2 L238.4 75.7 L237.6 76.1 L236.8 76.6 L236.0 77.1 L235.2 77.5 L234.4 78.0 L233.6 78.5 L232.8 79.0 L232.0 79.5 L231.2 80.0 L230.5 80.5 L229.7 81.1 L228.9 81.6 L228.2 82.2 L227.5 82.7 L226.7 83.3 L226.0 83.9 L225.3 84.5 L224.6 85.1 L223.9 85.8 L223.3 86.4 L222.6 87.1 L222.0 87.7 L221.3 88.4 L220.7 89.1 L220.1 89.8 L219.5 90.5 L218.9 91.3 L218.4 92.0 L217.8 92.8 L217.3 93.5 L216.8 94.3 L216.3 95.1 L215.8 95.9 L215.3 96.7 L214.8 97.5 L214.3 98.3 L213.9 99.1 L213.4 99.9 L213.0 100.7 L212.6 101.6 L212.2 102.4 L211.7 103.2 L211.3 104.1 L211.0 104.9 L210.6 105.8 L210.2 106.6 L209.8 107.5 L209.5 108.4 L209.1 109.2 L208.8 110.1 L208.5 111.0 L208.1 111.8 L207.8 112.7 L207.5 113.6 L207.2 114.5 L206.9 115.3 L206.6 116.2 L206.3 117.1 L206.1 118.0 L205.8 118.9 L205.5 119.8 L205.2 120.7 L205.0 121.6 L204.7 122.5 L204.5 123.4 L204.3 124.3 L204.0 125.2 L203.8 126.1 L203.6 127.0 L203.4 127.9 L203.1 128.8 L202.9 129.7 L202.7 130.6 L202.5 131.5 L202.3 132.4 L202.1 133.3 L201.9 134.2 L201.8 135.1 L201.6 136.1 L201.4 137.0 L201.2 137.9 L201.0 138.8 L200.9 139.7 L200.7 140.6 L200.6 141.6 L200.4 142.5 L200.2 143.4 L200.1 144.3 L200.0 145.2 L199.8 146.2 L199.7 147.1 L199.5 148.0 L199.4 148.9 L199.3 149.8 L199.1 150.8 L199.0 151.7 L198.9 152.6 L198.8 153.5 L198.6 154.5 L198.5 155.4 L198.4 156.3 L198.3 157.2 L198.2 158.2 L198.1 159.1 L198.0 160.0 L197.9 160.9 L197.8 161.9 L197.7 162.8 L197.6 163.7 L197.5 164.6 L197.4 165.6 L197.3 166.5 L197.2 167.4 L197.1 168.4 L197.1 169.3 L197.0 170.2 L196.9 171.1 L196.8 172.1 L196.8 173.0 L196.7 173.9 L196.6 174.9 L196.6 175.8 L196.5 176.7 L196.4 177.7 L196.4 178.6 L196.3 179.5 L196.3 180.4 L196.3 181.4 L196.2 182.3 L196.2 183.2 L196.1 184.2 L196.1 185.1 L196.1 186.0 L196.0 187.0 L196.0 187.9 L196.0 188.8 L196.0 189.8 L195.9 190.7 L195.9 191.6 L195.9 192.6 L195.8 193.5 L195.8 194.4 L195.7 195.4 L195.6 196.3 L195.5 197.2 L195.4 198.1 L195.3 199.1 L195.2 200.0 M318.2 48.7 L317.3 48.8 L316.4 48.9 L315.5 49.0 L314.5 49.2 L313.6 49.3 L312.7 49.4 L311.8 49.6 L310.9 49.8 L310.0 49.9 L309.1 50.1 L308.2 50.2 L307.2 50.4 L306.3 50.6 L305.4 50.8 L304.5 51.0 L303.6 51.1 L302.7 51.3 L301.8 51.5 L300.9 51.8 L300.0 52.0 L299.1 52.2 L298.2 52.4 L297.3 52.6 L296.4 52.9 L295.5 53.1 L294.7 53.4 L293.8 53.6 L292.9 53.9 L292.0 54.1 L291.1 54.4 L290.2 54.7 L289.3 54.9 L288.5 55.2 L287.6 55.5 L286.7 55.8 L285.8 56.1 L284.9 56.4 L284.1 56.7 L283.2 57.0 L282.3 57.3 L281.5 57.6 L280.6 57.9 L279.7 58.3 L278.9 58.6 L278.0 58.9 L277.1 59.3 L276.3 59.6 L275.4 59.9 L274.6 60.3 L273.7 60.6 L272.8 61.0 L272.0 61.3 L271.1 61.7 L270.3 62.1 L269.4 62.4 L268.6 62.8 L267.7 63.1 L266.9 63.5 L266.0 63.9 L265.2 64.3 L264.3 64.6 L263.5 65.0 L262.7 65.4 L261.8 65.8 L261.0 66.1 L260.1 66.5 L259.3 66.9 L258.4 67.3 L257.6 67.7 L256.8 68.0 L255.9 68.4 L255.1 68.8 L254.2 69.2 L253.4 69.6 L252.6 70.0 L251.7 70.4 L250.9 70.8 L250.0 71.1 L249.2 71.5 L248.4 71.9 L247.5 72.4 L246.7 72.8 L245.9 73.2 L245.1 73.6 L244.2 74.0 L243.4 74.4 L242.6 74.8 L241.8 75.3 L241.0 75.7 L240.1 76.2 L239.3 76.6 L238.5 77.1 L237.7 77.5 L236.9 78.0 L236.2 78.5 L235.4 79.0 L234.6 79.5 L233.8 80.0 L233.0 80.5 L232.3 81.0 L231.5 81.5 L230.8 82.1 L230.1 82.7 L229.3 83.2 L228.6 83.8 L227.9 84.4 L227.2 85.0 L226.5 85.6 L225.8 86.3 L225.2 86.9 L224.5 87.6 L223.9 88.2 L223.3 88.9 L222.7 89.6 L222.1 90.3 L221.5 91.0 L220.9 91.8 L220.4 92.5 L219.8 93.3 L219.3 94.0 L218.8 94.8 L218.3 95.5 L217.8 96.3 L217.3 97.1 L216.8 97.9 L216.4 98.7 L215.9 99.5 L215.4 100.3 L215.0 101.1 L214.6 101.9 L214.1 102.8 L213.7 103.6 L213.3 104.4 L212.9 105.2 L212.5 106.1 L212.1 106.9 L211.7 107.8 L211.4 108.6 L211.0 109.4 L210.6 110.3 L210.3 111.2 L209.9 112.0 L209.6 112.9 L209.2 113.7 L208.9 114.6 L208.6 115.5 L208.3 116.3 L208.0 117.2 L207.7 118.1 L207.4 118.9 L207.1 119.8 L206.8 120.7 L206.5 121.6 L206.2 122.4 L205.9 123.3 L205.7 124.2 L205.4 125.1 L205.1 126.0 L204.9 126.9 L204.6 127.8 L204.4 128.7 L204.2 129.5 L203.9 130.4 L203.7 131.3 L203.5 132.2 L203.3 133.1 L203.0 134.0 L202.8 134.9 L202.6 135.8 L202.4 136.7 L202.2 137.6 L202.0 138.5 L201.8 139.4 L201.7 140.3 L201.5 141.2 L201.3 142.1 L201.1 143.1 L200.9 144.0 L200.8 144.9 L200.6 145.8 L200.4 146.7 L200.3 147.6 L200.1 148.5 L200.0 149.4 L199.8 150.3 L199.7 151.2 L199.5 152.2 L199.4 153.1 L199.3 154.0 L199.1 154.9 L199.0 155.8 L198.8 156.7 L198.7 157.6 L198.6 158.6 L198.5 159.5 L198.4 160.4 L198.2 161.3 L198.1 162.2 L198.0 163.1 L197.9 164.1 L197.8 165.0 L197.7 165.9 L197.6 166.8 L197.5 167.7 L197.4 168.6 L197.3 169.6 L197.2 170.5 L197.1 171.4 L197.0 172.3 L196.9 173.2 L196.9 174.2 L196.8 175.1 L196.7 176.0 L196.6 176.9 L196.6 177.9 L196.5 178.8 L196.5 179.7 L196.4 180.6 L196.4 181.5 L196.3 182.5 L196.3 183.4 L196.2 184.3 L196.2 185.2 L196.2 186.2 L196.1 187.1 L196.1 188.0 L196.1 188.9 L196.0 189.9 L196.0 190.8 L196.0 191.7 L196.0 192.6 L195.9 193.6 L195.8 194.5 L195.7 195.4 L195.6 196.3 L195.5 197.2 L195.4 198.2 L195.3 199.1 L195.2 200.0 M318.2 49.0 L317.3 49.2 L316.4 49.3 L315.5 49.5 L314.6 49.6 L313.7 49.7 L312.8 49.9 L311.9 50.0 L311.0 50.2 L310.0 50.4 L309.1 50.5 L308.2 50.7 L307.3 50.9 L306.4 51.1 L305.5 51.3 L304.6 51.5 L303.8 51.7 L302.9 51.9 L302.0 52.1 L301.1 52.3 L300.2 52.5 L299.3 52.7 L298.4 53.0 L297.5 53.2 L296.6 53.5 L295.7 53.7 L294.9 53.9 L294.0 54.2 L293.1 54.5 L292.2 54.7 L291.3 55.0 L290.5 55.3 L289.6 55.6 L288.7 55.8 L287.8 56.1 L287.0 56.4 L286.1 56.7 L285.2 57.0 L284.4 57.3 L283.5 57.6 L282.6 57.9 L281.8 58.3 L280.9 58.6 L280.1 58.9 L279.2 59.2 L278.4 59.6 L277.5 59.9 L276.7 60.3 L275.8 60.6 L275.0 60.9 L274.1 61.3 L273.3 61.7 L272.4 62.0 L271.6 62.4 L270.7 62.7 L269.9 63.1 L269.0 63.5 L268.2 63.8 L267.4 64.2 L266.5 64.6 L265.7 64.9 L264.8 65.3 L264.0 65.7 L263.2 66.1 L262.3 66.5 L261.5 66.8 L260.7 67.2 L259.8 67.6 L259.0 68.0 L258.2 68.4 L257.3 68.7 L256.5 69.1 L255.7 69.5 L254.8 69.9 L254.0 70.3 L253.2 70.7 L252.3 71.1 L251.5 71.5 L250.7 71.9 L249.8 72.3 L249.0 72.7 L248.2 73.1 L247.4 73.5 L246.6 73.9 L245.7 74.3 L244.9 74.7 L244.1 75.2 L243.3 75.6 L242.5 76.0 L241.7 76.5 L240.9 76.9 L240.1 77.4 L239.3 77.8 L238.5 78.3 L237.7 78.8 L236.9 79.3 L236.2 79.8 L235.4 80.3 L234.6 80.8 L233.9 81.3 L233.1 81.8 L232.4 82.4 L231.7 82.9 L231.0 83.5 L230.2 84.1 L229.5 84.7 L228.9 85.3 L228.2 85.9 L227.5 86.5 L226.9 87.2 L226.2 87.8 L225.6 88.5 L225.0 89.2 L224.4 89.9 L223.8 90.6 L223.2 91.3 L222.6 92.0 L222.1 92.8 L221.6 93.5 L221.0 94.3 L220.5 95.0 L220.0 95.8 L219.5 96.6 L219.0 97.3 L218.6 98.1 L218.1 98.9 L217.6 99.7 L217.2 100.5 L216.7 101.3 L216.3 102.1 L215.8 102.9 L215.4 103.7 L215.0 104.5 L214.6 105.4 L214.2 106.2 L213.8 107.0 L213.4 107.8 L213.0 108.7 L212.6 109.5 L212.2 110.3 L211.8 111.2 L211.5 112.0 L211.1 112.9 L210.7 113.7 L210.4 114.6 L210.1 115.4 L209.7 116.3 L209.4 117.1 L209.0 118.0 L208.7 118.8 L208.4 119.7 L208.1 120.6 L207.8 121.4 L207.5 122.3 L207.2 123.2 L206.9 124.0 L206.6 124.9 L206.3 125.8 L206.1 126.6 L205.8 127.5 L205.5 128.4 L205.3 129.3 L205.0 130.2 L204.8 131.0 L204.5 131.9 L204.3 132.8 L204.0 133.7 L203.8 134.6 L203.6 135.5 L203.3 136.4 L203.1 137.3 L202.9 138.2 L202.7 139.0 L202.5 139.9 L202.3 140.8 L202.1 141.7 L201.9 142.6 L201.7 143.5 L201.5 144.4 L201.3 145.3 L201.1 146.2 L201.0 147.1 L200.8 148.0 L200.6 148.9 L200.4 149.8 L200.3 150.7 L200.1 151.6 L200.0 152.5 L199.8 153.4 L199.6 154.3 L199.5 155.3 L199.3 156.2 L199.2 157.1 L199.1 158.0 L198.9 158.9 L198.8 159.8 L198.7 160.7 L198.5 161.6 L198.4 162.5 L198.3 163.4 L198.1 164.3 L198.0 165.2 L197.9 166.2 L197.8 167.1 L197.7 168.0 L197.6 168.9 L197.5 169.8 L197.4 170.7 L197.3 171.6 L197.2 172.5 L197.1 173.5 L197.0 174.4 L196.9 175.3 L196.8 176.2 L196.8 177.1 L196.7 178.0 L196.6 178.9 L196.6 179.9 L196.5 180.8 L196.5 181.7 L196.4 182.6 L196.4 183.5 L196.3 184.4 L196.3 185.4 L196.2 186.3 L196.2 187.2 L196.2 188.1 L196.1 189.0 L196.1 189.9 L196.1 190.9 L196.0 191.8 L196.0 192.7 L195.9 193.6 L195.8 194.5 L195.7 195.4 L195.6 196.3 L195.5 197.3 L195.4 198.2 L195.3 199.1 L195.2 200.0 M318.2 49.5 L317.3 49.7 L316.4 49.9 L315.5 50.1 L314.7 50.3 L313.8 50.5 L312.9 50.7 L312.0 50.9 L311.1 51.1 L310.2 51.3 L309.4 51.5 L308.5 51.7 L307.6 51.9 L306.7 52.1 L305.8 52.4 L305.0 52.6 L304.1 52.8 L303.2 53.1 L302.3 53.3 L301.5 53.5 L300.6 53.8 L299.7 54.0 L298.9 54.3 L298.0 54.5 L297.1 54.8 L296.2 55.1 L295.4 55.3 L294.5 55.6 L293.7 55.9 L292.8 56.2 L291.9 56.4 L291.1 56.7 L290.2 57.0 L289.3 57.3 L288.5 57.6 L287.6 57.9 L286.8 58.2 L285.9 58.5 L285.1 58.8 L284.2 59.1 L283.4 59.4 L282.5 59.8 L281.7 60.1 L280.8 60.4 L280.0 60.7 L279.1 61.1 L278.3 61.4 L277.5 61.7 L276.6 62.1 L275.8 62.4 L274.9 62.8 L274.1 63.1 L273.3 63.5 L272.4 63.8 L271.6 64.2 L270.8 64.6 L269.9 64.9 L269.1 65.3 L268.3 65.7 L267.5 66.0 L266.6 66.4 L265.8 66.8 L265.0 67.2 L264.2 67.6 L263.3 68.0 L262.5 68.3 L261.7 68.7 L260.9 69.1 L260.1 69.5 L259.3 69.9 L258.4 70.3 L257.6 70.7 L256.8 71.1 L256.0 71.5 L255.2 71.9 L254.4 72.4 L253.6 72.8 L252.8 73.2 L252.0 73.6 L251.2 74.0 L250.4 74.5 L249.6 74.9 L248.8 75.3 L248.0 75.8 L247.2 76.2 L246.4 76.7 L245.7 77.1 L244.9 77.6 L244.1 78.1 L243.3 78.6 L242.6 79.0 L241.8 79.5 L241.0 80.0 L240.3 80.5 L239.5 81.0 L238.8 81.5 L238.0 82.0 L237.3 82.6 L236.6 83.1 L235.8 83.6 L235.1 84.2 L234.4 84.7 L233.7 85.3 L233.0 85.9 L232.3 86.5 L231.6 87.1 L230.9 87.7 L230.3 88.3 L229.6 88.9 L229.0 89.5 L228.3 90.2 L227.7 90.8 L227.1 91.5 L226.5 92.2 L225.9 92.8 L225.3 93.5 L224.7 94.2 L224.1 94.9 L223.5 95.6 L223.0 96.4 L222.4 97.1 L221.9 97.8 L221.4 98.5 L220.9 99.3 L220.4 100.0 L219.9 100.8 L219.4 101.5 L218.9 102.3 L218.4 103.1 L217.9 103.8 L217.4 104.6 L217.0 105.4 L216.5 106.2 L216.1 107.0 L215.6 107.8 L215.2 108.6 L214.8 109.4 L214.4 110.2 L213.9 111.0 L213.5 111.8 L213.1 112.6 L212.7 113.4 L212.4 114.2 L212.0 115.1 L211.6 115.9 L211.2 116.7 L210.9 117.5 L210.5 118.4 L210.2 119.2 L209.8 120.0 L209.5 120.9 L209.2 121.7 L208.8 122.6 L208.5 123.4 L208.2 124.3 L207.9 125.1 L207.6 126.0 L207.3 126.8 L207.0 127.7 L206.7 128.6 L206.4 129.4 L206.1 130.3 L205.9 131.2 L205.6 132.0 L205.3 132.9 L205.1 133.8 L204.8 134.6 L204.6 135.5 L204.4 136.4 L204.1 137.2 L203.9 138.1 L203.7 139.0 L203.4 139.9 L203.2 140.8 L203.0 141.6 L202.8 142.5 L202.6 143.4 L202.4 144.3 L202.2 145.2 L202.0 146.1 L201.8 147.0 L201.6 147.8 L201.4 148.7 L201.2 149.6 L201.1 150.5 L200.9 151.4 L200.7 152.3 L200.6 153.2 L200.4 154.1 L200.2 155.0 L200.1 155.9 L199.9 156.7 L199.8 157.6 L199.6 158.5 L199.5 159.4 L199.3 160.3 L199.2 161.2 L199.0 162.1 L198.9 163.0 L198.8 163.9 L198.6 164.8 L198.5 165.7 L198.4 166.6 L198.3 167.5 L198.2 168.4 L198.0 169.3 L197.9 170.2 L197.8 171.1 L197.7 172.0 L197.6 172.9 L197.5 173.8 L197.4 174.7 L197.3 175.6 L197.2 176.5 L197.1 177.4 L197.1 178.3 L197.0 179.2 L196.9 180.1 L196.8 181.0 L196.8 181.9 L196.7 182.8 L196.6 183.7 L196.6 184.7 L196.5 185.6 L196.5 186.5 L196.4 187.4 L196.4 188.3 L196.3 189.2 L196.3 190.1 L196.2 191.0 L196.2 191.9 L196.1 192.8 L196.0 193.7 L195.9 194.6 L195.8 195.5 L195.7 196.4 L195.6 197.3 L195.5 198.2 L195.4 199.1 L195.2 200.0 M318.2 50.0 L317.3 50.3 L316.5 50.5 L315.6 50.7 L314.8 51.0 L313.9 51.2 L313.0 51.5 L312.2 51.7 L311.3 52.0 L310.5 52.2 L309.6 52.5 L308.7 52.7 L307.9 53.0 L307.0 53.3 L306.2 53.5 L305.3 53.8 L304.4 54.0 L303.6 54.3 L302.7 54.6 L301.9 54.8 L301.0 55.1 L300.2 55.4 L299.3 55.7 L298.5 55.9 L297.6 56.2 L296.8 56.5 L295.9 56.8 L295.1 57.1 L294.2 57.4 L293.4 57.7 L292.5 57.9 L291.7 58.2 L290.8 58.5 L290.0 58.8 L289.2 59.1 L288.3 59.4 L287.5 59.8 L286.6 60.1 L285.8 60.4 L285.0 60.7 L284.1 61.0 L283.3 61.3 L282.5 61.7 L281.6 62.0 L280.8 62.3 L280.0 62.6 L279.1 63.0 L278.3 63.3 L277.5 63.7 L276.6 64.0 L275.8 64.3 L275.0 64.7 L274.2 65.0 L273.3 65.4 L272.5 65.8 L271.7 66.1 L270.9 66.5 L270.1 66.9 L269.3 67.2 L268.4 67.6 L267.6 68.0 L266.8 68.4 L266.0 68.7 L265.2 69.1 L264.4 69.5 L263.6 69.9 L262.8 70.3 L262.0 70.7 L261.2 71.1 L260.4 71.6 L259.6 72.0 L258.8 72.4 L258.0 72.8 L257.3 73.2 L256.5 73.7 L255.7 74.1 L254.9 74.6 L254.1 75.0 L253.4 75.5 L252.6 75.9 L251.8 76.4 L251.1 76.8 L250.3 77.3 L249.5 77.8 L248.8 78.3 L248.0 78.7 L247.3 79.2 L246.5 79.7 L245.8 80.2 L245.0 80.7 L244.3 81.2 L243.6 81.8 L242.9 82.3 L242.1 82.8 L241.4 83.3 L240.7 83.9 L240.0 84.4 L239.3 85.0 L238.6 85.5 L237.9 86.1 L237.2 86.7 L236.5 87.2 L235.8 87.8 L235.1 88.4 L234.5 89.0 L233.8 89.6 L233.1 90.2 L232.5 90.8 L231.8 91.4 L231.2 92.0 L230.5 92.7 L229.9 93.3 L229.3 93.9 L228.6 94.6 L228.0 95.2 L227.4 95.9 L226.8 96.5 L226.2 97.2 L225.6 97.9 L225.1 98.6 L224.5 99.2 L223.9 99.9 L223.3 100.6 L222.8 101.3 L222.2 102.0 L221.7 102.8 L221.2 103.5 L220.7 104.2 L220.1 104.9 L219.6 105.7 L219.1 106.4 L218.6 107.2 L218.1 107.9 L217.7 108.7 L217.2 109.4 L216.7 110.2 L216.3 111.0 L215.8 111.7 L215.4 112.5 L214.9 113.3 L214.5 114.1 L214.1 114.9 L213.7 115.7 L213.3 116.5 L212.9 117.3 L212.5 118.1 L212.1 118.9 L211.7 119.7 L211.3 120.5 L211.0 121.3 L210.6 122.1 L210.3 123.0 L209.9 123.8 L209.6 124.6 L209.2 125.5 L208.9 126.3 L208.6 127.1 L208.3 128.0 L208.0 128.8 L207.7 129.6 L207.4 130.5 L207.1 131.3 L206.8 132.2 L206.5 133.0 L206.2 133.9 L206.0 134.7 L205.7 135.6 L205.4 136.5 L205.2 137.3 L204.9 138.2 L204.7 139.0 L204.4 139.9 L204.2 140.8 L204.0 141.6 L203.8 142.5 L203.5 143.4 L203.3 144.2 L203.1 145.1 L202.9 146.0 L202.7 146.8 L202.5 147.7 L202.3 148.6 L202.1 149.5 L201.9 150.3 L201.7 151.2 L201.5 152.1 L201.4 153.0 L201.2 153.8 L201.0 154.7 L200.8 155.6 L200.7 156.5 L200.5 157.4 L200.4 158.2 L200.2 159.1 L200.0 160.0 L199.9 160.9 L199.7 161.8 L199.6 162.7 L199.5 163.5 L199.3 164.4 L199.2 165.3 L199.0 166.2 L198.9 167.1 L198.8 168.0 L198.7 168.9 L198.5 169.7 L198.4 170.6 L198.3 171.5 L198.2 172.4 L198.1 173.3 L198.0 174.2 L197.9 175.1 L197.8 176.0 L197.7 176.9 L197.6 177.7 L197.5 178.6 L197.4 179.5 L197.3 180.4 L197.2 181.3 L197.1 182.2 L197.0 183.1 L196.9 184.0 L196.9 184.9 L196.8 185.8 L196.7 186.7 L196.7 187.6 L196.6 188.4 L196.5 189.3 L196.5 190.2 L196.4 191.1 L196.3 192.0 L196.3 192.9 L196.2 193.8 L196.0 194.7 L195.9 195.6 L195.8 196.5 L195.6 197.3 L195.5 198.2 L195.4 199.1 L195.2 200.0 M318.2 50.4 L317.3 50.6 L316.5 50.9 L315.6 51.1 L314.8 51.3 L313.9 51.6 L313.0 51.8 L312.2 52.1 L311.3 52.3 L310.5 52.6 L309.6 52.8 L308.8 53.1 L307.9 53.3 L307.1 53.6 L306.2 53.9 L305.3 54.1 L304.5 54.4 L303.6 54.7 L302.8 54.9 L301.9 55.2 L301.1 55.5 L300.2 55.7 L299.4 56.0 L298.5 56.3 L297.7 56.6 L296.9 56.9 L296.0 57.2 L295.2 57.4 L294.3 57.7 L293.5 58.0 L292.6 58.3 L291.8 58.6 L291.0 58.9 L290.1 59.2 L289.3 59.5 L288.4 59.9 L287.6 60.2 L286.8 60.5 L285.9 60.8 L285.1 61.1 L284.3 61.4 L283.5 61.8 L282.6 62.1 L281.8 62.4 L281.0 62.8 L280.1 63.1 L279.3 63.5 L278.5 63.8 L277.7 64.1 L276.9 64.5 L276.0 64.8 L275.2 65.2 L274.4 65.6 L273.6 65.9 L272.8 66.3 L272.0 66.7 L271.1 67.0 L270.3 67.4 L269.5 67.8 L268.7 68.2 L267.9 68.5 L267.1 68.9 L266.3 69.3 L265.5 69.7 L264.7 70.1 L263.9 70.5 L263.1 70.9 L262.3 71.3 L261.5 71.8 L260.8 72.2 L260.0 72.6 L259.2 73.0 L258.4 73.4 L257.6 73.9 L256.8 74.3 L256.1 74.8 L255.3 75.2 L254.5 75.6 L253.8 76.1 L253.0 76.5 L252.2 77.0 L251.5 77.5 L250.7 77.9 L249.9 78.4 L249.2 78.9 L248.4 79.4 L247.7 79.9 L246.9 80.4 L246.2 80.9 L245.5 81.4 L244.7 81.9 L244.0 82.4 L243.3 82.9 L242.6 83.4 L241.8 83.9 L241.1 84.5 L240.4 85.0 L239.7 85.6 L239.0 86.1 L238.3 86.7 L237.6 87.2 L236.9 87.8 L236.2 88.4 L235.5 88.9 L234.9 89.5 L234.2 90.1 L233.5 90.7 L232.9 91.3 L232.2 91.9 L231.6 92.5 L230.9 93.1 L230.3 93.8 L229.7 94.4 L229.0 95.0 L228.4 95.7 L227.8 96.3 L227.2 97.0 L226.6 97.7 L226.0 98.3 L225.5 99.0 L224.9 99.7 L224.3 100.4 L223.8 101.1 L223.2 101.8 L222.7 102.5 L222.2 103.2 L221.6 103.9 L221.1 104.7 L220.6 105.4 L220.1 106.1 L219.6 106.9 L219.1 107.6 L218.6 108.4 L218.2 109.1 L217.7 109.9 L217.2 110.7 L216.8 111.4 L216.3 112.2 L215.9 113.0 L215.5 113.8 L215.1 114.6 L214.6 115.3 L214.2 116.1 L213.8 116.9 L213.4 117.7 L213.1 118.5 L212.7 119.4 L212.3 120.2 L211.9 121.0 L211.6 121.8 L211.2 122.6 L210.9 123.4 L210.5 124.2 L210.2 125.1 L209.8 125.9 L209.5 126.7 L209.2 127.6 L208.9 128.4 L208.6 129.2 L208.3 130.1 L208.0 130.9 L207.7 131.8 L207.4 132.6 L207.1 133.4 L206.8 134.3 L206.5 135.1 L206.3 136.0 L206.0 136.8 L205.7 137.7 L205.5 138.5 L205.2 139.4 L205.0 140.3 L204.7 141.1 L204.5 142.0 L204.2 142.8 L204.0 143.7 L203.8 144.5 L203.5 145.4 L203.3 146.3 L203.1 147.1 L202.8 148.0 L202.6 148.9 L202.4 149.7 L202.2 150.6 L202.0 151.5 L201.8 152.3 L201.6 153.2 L201.4 154.1 L201.2 154.9 L201.0 155.8 L200.9 156.7 L200.7 157.5 L200.5 158.4 L200.3 159.3 L200.2 160.2 L200.0 161.1 L199.9 161.9 L199.7 162.8 L199.6 163.7 L199.4 164.6 L199.3 165.5 L199.2 166.3 L199.0 167.2 L198.9 168.1 L198.8 169.0 L198.7 169.9 L198.5 170.8 L198.4 171.6 L198.3 172.5 L198.2 173.4 L198.1 174.3 L198.0 175.2 L197.9 176.1 L197.8 177.0 L197.7 177.8 L197.6 178.7 L197.5 179.6 L197.4 180.5 L197.3 181.4 L197.2 182.3 L197.1 183.2 L197.1 184.1 L197.0 184.9 L196.9 185.8 L196.8 186.7 L196.7 187.6 L196.7 188.5 L196.6 189.4 L196.5 190.3 L196.5 191.2 L196.4 192.1 L196.3 192.9 L196.2 193.8 L196.1 194.7 L195.9 195.6 L195.8 196.5 L195.7 197.4 L195.5 198.2 L195.4 199.1 L195.2 200.0 M318.2 50.7 L317.3 50.9 L316.5 51.1 L315.6 51.4 L314.8 51.6 L313.9 51.8 L313.1 52.1 L312.2 52.3 L311.3 52.6 L310.5 52.8 L309.6 53.1 L308.8 53.3 L307.9 53.6 L307.1 53.8 L306.2 54.1 L305.4 54.4 L304.5 54.6 L303.7 54.9 L302.8 55.2 L302.0 55.4 L301.1 55.7 L300.3 56.0 L299.4 56.3 L298.6 56.6 L297.8 56.8 L296.9 57.1 L296.1 57.4 L295.2 57.7 L294.4 58.0 L293.6 58.3 L292.7 58.6 L291.9 58.9 L291.0 59.2 L290.2 59.5 L289.4 59.8 L288.5 60.1 L287.7 60.5 L286.9 60.8 L286.1 61.1 L285.2 61.4 L284.4 61.8 L283.6 62.1 L282.7 62.4 L281.9 62.8 L281.1 63.1 L280.3 63.4 L279.5 63.8 L278.6 64.1 L277.8 64.5 L277.0 64.8 L276.2 65.2 L275.4 65.6 L274.6 65.9 L273.8 66.3 L272.9 66.7 L272.1 67.0 L271.3 67.4 L270.5 67.8 L269.7 68.2 L268.9 68.6 L268.1 68.9 L267.3 69.3 L266.5 69.7 L265.7 70.1 L264.9 70.5 L264.1 70.9 L263.4 71.4 L262.6 71.8 L261.8 72.2 L261.0 72.6 L260.2 73.0 L259.4 73.5 L258.7 73.9 L257.9 74.3 L257.1 74.8 L256.3 75.2 L255.6 75.6 L254.8 76.1 L254.0 76.5 L253.3 77.0 L252.5 77.5 L251.7 77.9 L251.0 78.4 L250.2 78.9 L249.5 79.3 L248.7 79.8 L248.0 80.3 L247.2 80.8 L246.5 81.3 L245.8 81.8 L245.0 82.3 L244.3 82.8 L243.6 83.3 L242.8 83.8 L242.1 84.4 L241.4 84.9 L240.7 85.4 L240.0 86.0 L239.3 86.5 L238.6 87.1 L237.9 87.6 L237.2 88.2 L236.5 88.7 L235.8 89.3 L235.2 89.9 L234.5 90.5 L233.8 91.1 L233.2 91.7 L232.5 92.3 L231.9 92.9 L231.2 93.5 L230.6 94.1 L230.0 94.7 L229.3 95.4 L228.7 96.0 L228.1 96.7 L227.5 97.3 L226.9 98.0 L226.3 98.7 L225.8 99.3 L225.2 100.0 L224.6 100.7 L224.1 101.4 L223.5 102.1 L223.0 102.8 L222.5 103.5 L221.9 104.3 L221.4 105.0 L220.9 105.7 L220.4 106.5 L219.9 107.2 L219.5 108.0 L219.0 108.7 L218.5 109.5 L218.1 110.2 L217.6 111.0 L217.2 111.8 L216.7 112.5 L216.3 113.3 L215.9 114.1 L215.4 114.9 L215.0 115.7 L214.6 116.5 L214.2 117.3 L213.8 118.1 L213.5 118.9 L213.1 119.7 L212.7 120.5 L212.3 121.3 L212.0 122.1 L211.6 122.9 L211.3 123.7 L210.9 124.6 L210.6 125.4 L210.3 126.2 L209.9 127.0 L209.6 127.9 L209.3 128.7 L209.0 129.5 L208.7 130.4 L208.4 131.2 L208.1 132.1 L207.8 132.9 L207.5 133.7 L207.2 134.6 L206.9 135.4 L206.7 136.3 L206.4 137.1 L206.1 138.0 L205.8 138.8 L205.6 139.7 L205.3 140.5 L205.1 141.4 L204.8 142.2 L204.6 143.1 L204.3 143.9 L204.1 144.8 L203.8 145.6 L203.6 146.5 L203.3 147.3 L203.1 148.2 L202.9 149.0 L202.6 149.9 L202.4 150.8 L202.2 151.6 L202.0 152.5 L201.8 153.3 L201.6 154.2 L201.4 155.1 L201.2 155.9 L201.0 156.8 L200.8 157.7 L200.6 158.5 L200.5 159.4 L200.3 160.3 L200.1 161.2 L200.0 162.0 L199.8 162.9 L199.7 163.8 L199.5 164.7 L199.4 165.6 L199.2 166.4 L199.1 167.3 L199.0 168.2 L198.9 169.1 L198.7 170.0 L198.6 170.8 L198.5 171.7 L198.4 172.6 L198.3 173.5 L198.2 174.4 L198.1 175.3 L197.9 176.1 L197.8 177.0 L197.7 177.9 L197.7 178.8 L197.6 179.7 L197.5 180.6 L197.4 181.5 L197.3 182.3 L197.2 183.2 L197.1 184.1 L197.0 185.0 L197.0 185.9 L196.9 186.8 L196.8 187.7 L196.7 188.5 L196.7 189.4 L196.6 190.3 L196.5 191.2 L196.5 192.1 L196.3 193.0 L196.2 193.8 L196.1 194.7 L195.9 195.6 L195.8 196.5 L195.7 197.4 L195.5 198.2 L195.4 199.1 L195.2 200.0 M318.2 51.1 L317.3 51.4 L316.5 51.6 L315.6 51.8 L314.8 52.1 L313.9 52.3 L313.1 52.5 L312.2 52.8 L311.4 53.0 L310.5 53.3 L309.7 53.5 L308.8 53.8 L308.0 54.0 L307.1 54.3 L306.3 54.5 L305.4 54.8 L304.6 55.1 L303.7 55.3 L302.9 55.6 L302.1 55.9 L301.2 56.2 L300.4 56.4 L299.5 56.7 L298.7 57.0 L297.9 57.3 L297.0 57.6 L296.2 57.9 L295.3 58.2 L294.5 58.5 L293.7 58.8 L292.8 59.1 L292.0 59.4 L291.2 59.7 L290.4 60.0 L289.5 60.3 L288.7 60.7 L287.9 61.0 L287.1 61.3 L286.2 61.6 L285.4 62.0 L284.6 62.3 L283.8 62.7 L283.0 63.0 L282.1 63.3 L281.3 63.7 L280.5 64.0 L279.7 64.4 L278.9 64.7 L278.1 65.1 L277.3 65.5 L276.5 65.8 L275.7 66.2 L274.9 66.6 L274.1 67.0 L273.3 67.3 L272.5 67.7 L271.7 68.1 L270.9 68.5 L270.1 68.9 L269.3 69.3 L268.5 69.7 L267.7 70.1 L266.9 70.5 L266.1 70.9 L265.3 71.3 L264.6 71.7 L263.8 72.1 L263.0 72.5 L262.2 73.0 L261.4 73.4 L260.7 73.8 L259.9 74.2 L259.1 74.7 L258.3 75.1 L257.6 75.6 L256.8 76.0 L256.0 76.4 L255.3 76.9 L254.5 77.3 L253.8 77.8 L253.0 78.3 L252.2 78.7 L251.5 79.2 L250.7 79.7 L250.0 80.1 L249.3 80.6 L248.5 81.1 L247.8 81.6 L247.0 82.1 L246.3 82.6 L245.6 83.1 L244.8 83.6 L244.1 84.1 L243.4 84.6 L242.7 85.1 L241.9 85.6 L241.2 86.2 L240.5 86.7 L239.8 87.2 L239.1 87.8 L238.4 88.3 L237.7 88.9 L237.0 89.4 L236.4 90.0 L235.7 90.6 L235.0 91.1 L234.3 91.7 L233.7 92.3 L233.0 92.9 L232.4 93.5 L231.7 94.1 L231.1 94.7 L230.5 95.4 L229.8 96.0 L229.2 96.6 L228.6 97.3 L228.0 97.9 L227.4 98.6 L226.9 99.3 L226.3 99.9 L225.7 100.6 L225.2 101.3 L224.6 102.0 L224.1 102.7 L223.5 103.4 L223.0 104.1 L222.5 104.9 L222.0 105.6 L221.5 106.3 L221.0 107.1 L220.5 107.8 L220.1 108.6 L219.6 109.3 L219.2 110.1 L218.7 110.8 L218.3 111.6 L217.8 112.4 L217.4 113.1 L217.0 113.9 L216.6 114.7 L216.1 115.5 L215.7 116.3 L215.3 117.1 L215.0 117.9 L214.6 118.7 L214.2 119.5 L213.8 120.3 L213.4 121.1 L213.1 121.9 L212.7 122.7 L212.4 123.5 L212.0 124.3 L211.7 125.1 L211.4 126.0 L211.0 126.8 L210.7 127.6 L210.4 128.4 L210.1 129.3 L209.7 130.1 L209.4 130.9 L209.1 131.7 L208.8 132.6 L208.5 133.4 L208.2 134.3 L207.9 135.1 L207.7 135.9 L207.4 136.8 L207.1 137.6 L206.8 138.4 L206.5 139.3 L206.2 140.1 L206.0 141.0 L205.7 141.8 L205.4 142.6 L205.2 143.5 L204.9 144.3 L204.6 145.2 L204.4 146.0 L204.1 146.9 L203.8 147.7 L203.6 148.5 L203.3 149.4 L203.1 150.2 L202.8 151.1 L202.6 151.9 L202.3 152.8 L202.1 153.6 L201.9 154.5 L201.6 155.3 L201.4 156.2 L201.2 157.0 L201.0 157.9 L200.8 158.8 L200.6 159.6 L200.5 160.5 L200.3 161.4 L200.1 162.2 L200.0 163.1 L199.8 164.0 L199.7 164.9 L199.5 165.7 L199.4 166.6 L199.3 167.5 L199.1 168.4 L199.0 169.2 L198.9 170.1 L198.8 171.0 L198.6 171.9 L198.5 172.8 L198.4 173.6 L198.3 174.5 L198.2 175.4 L198.1 176.3 L198.0 177.2 L197.9 178.0 L197.8 178.9 L197.7 179.8 L197.6 180.7 L197.5 181.6 L197.4 182.4 L197.3 183.3 L197.3 184.2 L197.2 185.1 L197.1 186.0 L197.0 186.9 L196.9 187.7 L196.9 188.6 L196.8 189.5 L196.7 190.4 L196.6 191.3 L196.5 192.1 L196.4 193.0 L196.3 193.9 L196.1 194.8 L196.0 195.6 L195.8 196.5 L195.7 197.4 L195.5 198.3 L195.4 199.1 L195.2 200.0 M318.2 51.5 L317.3 51.7 L316.5 52.0 L315.6 52.2 L314.8 52.4 L313.9 52.6 L313.1 52.9 L312.2 53.1 L311.4 53.4 L310.5 53.6 L309.7 53.9 L308.8 54.1 L308.0 54.4 L307.2 54.6 L306.3 54.9 L305.5 55.1 L304.6 55.4 L303.8 55.7 L302.9 56.0 L302.1 56.2 L301.3 56.5 L300.4 56.8 L299.6 57.1 L298.8 57.4 L297.9 57.7 L297.1 57.9 L296.3 58.2 L295.4 58.5 L294.6 58.8 L293.8 59.2 L292.9 59.5 L292.1 59.8 L291.3 60.1 L290.5 60.4 L289.7 60.7 L288.8 61.1 L288.0 61.4 L287.2 61.7 L286.4 62.1 L285.6 62.4 L284.8 62.7 L283.9 63.1 L283.1 63.4 L282.3 63.8 L281.5 64.1 L280.7 64.5 L279.9 64.9 L279.1 65.2 L278.3 65.6 L277.5 66.0 L276.7 66.3 L275.9 66.7 L275.1 67.1 L274.3 67.5 L273.5 67.9 L272.7 68.2 L271.9 68.6 L271.1 69.0 L270.3 69.4 L269.6 69.8 L268.8 70.2 L268.0 70.6 L267.2 71.0 L266.4 71.5 L265.7 71.9 L264.9 72.3 L264.1 72.7 L263.3 73.1 L262.6 73.6 L261.8 74.0 L261.0 74.4 L260.2 74.9 L259.5 75.3 L258.7 75.7 L257.9 76.2 L257.2 76.6 L256.4 77.1 L255.7 77.5 L254.9 78.0 L254.1 78.4 L253.4 78.9 L252.6 79.3 L251.9 79.8 L251.1 80.3 L250.4 80.8 L249.7 81.2 L248.9 81.7 L248.2 82.2 L247.4 82.7 L246.7 83.2 L246.0 83.7 L245.2 84.2 L244.5 84.7 L243.8 85.2 L243.1 85.7 L242.4 86.2 L241.6 86.7 L240.9 87.3 L240.2 87.8 L239.5 88.3 L238.8 88.9 L238.1 89.4 L237.4 90.0 L236.8 90.5 L236.1 91.1 L235.4 91.6 L234.7 92.2 L234.1 92.8 L233.4 93.4 L232.8 94.0 L232.1 94.6 L231.5 95.2 L230.9 95.8 L230.2 96.4 L229.6 97.1 L229.0 97.7 L228.4 98.4 L227.8 99.0 L227.3 99.7 L226.7 100.4 L226.1 101.1 L225.6 101.8 L225.0 102.4 L224.5 103.2 L224.0 103.9 L223.5 104.6 L223.0 105.3 L222.5 106.0 L222.0 106.8 L221.5 107.5 L221.0 108.3 L220.5 109.0 L220.1 109.8 L219.6 110.5 L219.2 111.3 L218.8 112.1 L218.3 112.8 L217.9 113.6 L217.5 114.4 L217.1 115.2 L216.7 115.9 L216.3 116.7 L215.9 117.5 L215.5 118.3 L215.1 119.1 L214.8 119.9 L214.4 120.7 L214.0 121.5 L213.7 122.3 L213.3 123.1 L213.0 123.9 L212.6 124.8 L212.3 125.6 L211.9 126.4 L211.6 127.2 L211.3 128.0 L211.0 128.9 L210.6 129.7 L210.3 130.5 L210.0 131.3 L209.7 132.2 L209.4 133.0 L209.1 133.8 L208.8 134.6 L208.5 135.5 L208.2 136.3 L207.9 137.1 L207.6 138.0 L207.3 138.8 L207.1 139.6 L206.8 140.5 L206.5 141.3 L206.2 142.1 L205.9 143.0 L205.6 143.8 L205.3 144.6 L205.0 145.5 L204.8 146.3 L204.5 147.1 L204.2 148.0 L203.9 148.8 L203.6 149.6 L203.4 150.5 L203.1 151.3 L202.8 152.2 L202.6 153.0 L202.3 153.8 L202.1 154.7 L201.8 155.5 L201.6 156.4 L201.4 157.2 L201.2 158.1 L201.0 158.9 L200.8 159.8 L200.6 160.7 L200.4 161.5 L200.3 162.4 L200.1 163.3 L199.9 164.1 L199.8 165.0 L199.7 165.9 L199.5 166.8 L199.4 167.6 L199.2 168.5 L199.1 169.4 L199.0 170.2 L198.9 171.1 L198.7 172.0 L198.6 172.9 L198.5 173.7 L198.4 174.6 L198.3 175.5 L198.2 176.4 L198.1 177.3 L198.0 178.1 L197.9 179.0 L197.8 179.9 L197.7 180.8 L197.6 181.6 L197.5 182.5 L197.4 183.4 L197.4 184.3 L197.3 185.2 L197.2 186.0 L197.1 186.9 L197.0 187.8 L197.0 188.7 L196.9 189.6 L196.8 190.4 L196.7 191.3 L196.6 192.2 L196.4 193.0 L196.3 193.9 L196.1 194.8 L196.0 195.6 L195.8 196.5 L195.7 197.4 L195.5 198.3 L195.4 199.1 L195.2 200.0 M318.2 51.9 L317.3 52.2 L316.5 52.4 L315.6 52.6 L314.8 52.8 L313.9 53.1 L313.1 53.3 L312.3 53.5 L311.4 53.8 L310.6 54.0 L309.7 54.3 L308.9 54.5 L308.0 54.8 L307.2 55.0 L306.4 55.3 L305.5 55.5 L304.7 55.8 L303.8 56.1 L303.0 56.4 L302.2 56.6 L301.3 56.9 L300.5 57.2 L299.7 57.5 L298.8 57.8 L298.0 58.1 L297.2 58.4 L296.4 58.7 L295.5 59.0 L294.7 59.3 L293.9 59.6 L293.1 59.9 L292.3 60.2 L291.4 60.6 L290.6 60.9 L289.8 61.2 L289.0 61.5 L288.2 61.9 L287.4 62.2 L286.6 62.6 L285.7 62.9 L284.9 63.3 L284.1 63.6 L283.3 64.0 L282.5 64.3 L281.7 64.7 L280.9 65.1 L280.1 65.4 L279.3 65.8 L278.5 66.2 L277.7 66.5 L277.0 66.9 L276.2 67.3 L275.4 67.7 L274.6 68.1 L273.8 68.5 L273.0 68.9 L272.2 69.3 L271.5 69.7 L270.7 70.1 L269.9 70.5 L269.1 70.9 L268.3 71.3 L267.6 71.7 L266.8 72.1 L266.0 72.6 L265.3 73.0 L264.5 73.4 L263.7 73.9 L263.0 74.3 L262.2 74.7 L261.4 75.2 L260.7 75.6 L259.9 76.0 L259.1 76.5 L258.4 76.9 L257.6 77.4 L256.9 77.8 L256.1 78.3 L255.4 78.7 L254.6 79.2 L253.9 79.6 L253.1 80.1 L252.4 80.6 L251.6 81.0 L250.9 81.5 L250.1 82.0 L249.4 82.5 L248.7 82.9 L247.9 83.4 L247.2 83.9 L246.5 84.4 L245.7 84.9 L245.0 85.4 L244.3 85.9 L243.6 86.4 L242.9 86.9 L242.2 87.4 L241.4 87.9 L240.7 88.5 L240.0 89.0 L239.3 89.5 L238.6 90.1 L237.9 90.6 L237.3 91.1 L236.6 91.7 L235.9 92.3 L235.2 92.8 L234.6 93.4 L233.9 94.0 L233.2 94.6 L232.6 95.2 L232.0 95.8 L231.3 96.4 L230.7 97.0 L230.1 97.6 L229.5 98.3 L228.9 98.9 L228.3 99.6 L227.7 100.3 L227.2 100.9 L226.6 101.6 L226.1 102.3 L225.5 103.0 L225.0 103.7 L224.5 104.4 L224.0 105.1 L223.5 105.9 L223.0 106.6 L222.5 107.3 L222.0 108.1 L221.6 108.8 L221.1 109.6 L220.7 110.3 L220.2 111.1 L219.8 111.8 L219.4 112.6 L219.0 113.4 L218.5 114.2 L218.1 114.9 L217.7 115.7 L217.3 116.5 L216.9 117.3 L216.6 118.1 L216.2 118.9 L215.8 119.7 L215.4 120.5 L215.1 121.3 L214.7 122.1 L214.4 122.9 L214.0 123.7 L213.7 124.5 L213.3 125.3 L213.0 126.1 L212.7 126.9 L212.3 127.7 L212.0 128.6 L211.7 129.4 L211.4 130.2 L211.0 131.0 L210.7 131.8 L210.4 132.7 L210.1 133.5 L209.8 134.3 L209.5 135.1 L209.2 136.0 L208.9 136.8 L208.6 137.6 L208.3 138.4 L208.0 139.3 L207.7 140.1 L207.4 140.9 L207.1 141.7 L206.8 142.6 L206.5 143.4 L206.2 144.2 L205.9 145.0 L205.6 145.8 L205.3 146.7 L205.0 147.5 L204.7 148.3 L204.4 149.1 L204.1 150.0 L203.8 150.8 L203.5 151.6 L203.2 152.4 L202.9 153.3 L202.6 154.1 L202.3 154.9 L202.1 155.8 L201.8 156.6 L201.6 157.5 L201.4 158.3 L201.2 159.2 L201.0 160.0 L200.8 160.9 L200.6 161.7 L200.4 162.6 L200.3 163.5 L200.1 164.3 L199.9 165.2 L199.8 166.0 L199.6 166.9 L199.5 167.8 L199.4 168.7 L199.2 169.5 L199.1 170.4 L199.0 171.3 L198.9 172.1 L198.8 173.0 L198.7 173.9 L198.5 174.8 L198.4 175.6 L198.3 176.5 L198.2 177.4 L198.1 178.2 L198.0 179.1 L197.9 180.0 L197.8 180.9 L197.8 181.7 L197.7 182.6 L197.6 183.5 L197.5 184.4 L197.4 185.2 L197.3 186.1 L197.2 187.0 L197.1 187.9 L197.1 188.7 L197.0 189.6 L196.9 190.5 L196.8 191.4 L196.7 192.2 L196.5 193.1 L196.3 193.9 L196.2 194.8 L196.0 195.7 L195.9 196.5 L195.7 197.4 L195.6 198.3 L195.4 199.1 L195.2 200.0 M318.2 52.2 L317.4 52.5 L316.5 52.7 L315.7 52.9 L314.8 53.1 L314.0 53.3 L313.1 53.6 L312.3 53.8 L311.4 54.1 L310.6 54.3 L309.7 54.5 L308.9 54.8 L308.1 55.0 L307.2 55.3 L306.4 55.6 L305.5 55.8 L304.7 56.1 L303.9 56.4 L303.0 56.6 L302.2 56.9 L301.4 57.2 L300.6 57.5 L299.7 57.8 L298.9 58.1 L298.1 58.4 L297.3 58.7 L296.4 59.0 L295.6 59.3 L294.8 59.6 L294.0 59.9 L293.2 60.2 L292.3 60.5 L291.5 60.9 L290.7 61.2 L289.9 61.5 L289.1 61.9 L288.3 62.2 L287.5 62.6 L286.7 62.9 L285.9 63.2 L285.1 63.6 L284.3 64.0 L283.5 64.3 L282.7 64.7 L281.9 65.0 L281.1 65.4 L280.3 65.8 L279.5 66.2 L278.7 66.5 L277.9 66.9 L277.1 67.3 L276.3 67.7 L275.6 68.1 L274.8 68.5 L274.0 68.9 L273.2 69.3 L272.4 69.7 L271.7 70.1 L270.9 70.5 L270.1 70.9 L269.3 71.3 L268.6 71.8 L267.8 72.2 L267.0 72.6 L266.3 73.0 L265.5 73.5 L264.7 73.9 L264.0 74.3 L263.2 74.8 L262.5 75.2 L261.7 75.6 L260.9 76.1 L260.2 76.5 L259.4 77.0 L258.7 77.4 L257.9 77.9 L257.2 78.3 L256.4 78.8 L255.7 79.2 L254.9 79.7 L254.2 80.1 L253.4 80.6 L252.7 81.1 L251.9 81.5 L251.2 82.0 L250.5 82.5 L249.7 83.0 L249.0 83.4 L248.3 83.9 L247.5 84.4 L246.8 84.9 L246.1 85.4 L245.4 85.9 L244.6 86.4 L243.9 86.9 L243.2 87.4 L242.5 87.9 L241.8 88.4 L241.1 88.9 L240.4 89.4 L239.7 90.0 L239.0 90.5 L238.3 91.0 L237.6 91.6 L236.9 92.1 L236.2 92.7 L235.5 93.2 L234.9 93.8 L234.2 94.4 L233.6 95.0 L232.9 95.6 L232.3 96.2 L231.7 96.8 L231.0 97.4 L230.4 98.0 L229.8 98.7 L229.2 99.3 L228.6 100.0 L228.1 100.6 L227.5 101.3 L226.9 102.0 L226.4 102.7 L225.9 103.3 L225.3 104.1 L224.8 104.8 L224.3 105.5 L223.8 106.2 L223.4 106.9 L222.9 107.7 L222.4 108.4 L222.0 109.2 L221.5 109.9 L221.1 110.7 L220.6 111.4 L220.2 112.2 L219.8 113.0 L219.4 113.7 L219.0 114.5 L218.6 115.3 L218.2 116.1 L217.8 116.9 L217.4 117.7 L217.0 118.4 L216.6 119.2 L216.3 120.0 L215.9 120.8 L215.5 121.6 L215.2 122.4 L214.8 123.2 L214.5 124.0 L214.1 124.8 L213.8 125.7 L213.5 126.5 L213.1 127.3 L212.8 128.1 L212.5 128.9 L212.1 129.7 L211.8 130.5 L211.5 131.4 L211.2 132.2 L210.9 133.0 L210.6 133.8 L210.3 134.6 L210.0 135.5 L209.6 136.3 L209.3 137.1 L209.0 137.9 L208.7 138.7 L208.4 139.6 L208.1 140.4 L207.8 141.2 L207.5 142.0 L207.2 142.8 L206.9 143.6 L206.5 144.5 L206.2 145.3 L205.9 146.1 L205.6 146.9 L205.3 147.7 L205.0 148.5 L204.6 149.4 L204.3 150.2 L204.0 151.0 L203.7 151.8 L203.4 152.6 L203.1 153.4 L202.8 154.3 L202.5 155.1 L202.2 155.9 L202.0 156.8 L201.7 157.6 L201.5 158.4 L201.3 159.3 L201.1 160.1 L200.9 161.0 L200.7 161.9 L200.5 162.7 L200.4 163.6 L200.2 164.4 L200.0 165.3 L199.9 166.2 L199.7 167.0 L199.6 167.9 L199.5 168.8 L199.3 169.6 L199.2 170.5 L199.1 171.4 L199.0 172.2 L198.9 173.1 L198.7 174.0 L198.6 174.8 L198.5 175.7 L198.4 176.6 L198.3 177.5 L198.2 178.3 L198.1 179.2 L198.0 180.1 L197.9 180.9 L197.8 181.8 L197.7 182.7 L197.7 183.6 L197.6 184.4 L197.5 185.3 L197.4 186.2 L197.3 187.0 L197.2 187.9 L197.1 188.8 L197.0 189.7 L196.9 190.5 L196.8 191.4 L196.7 192.3 L196.5 193.1 L196.3 194.0 L196.2 194.8 L196.0 195.7 L195.9 196.5 L195.7 197.4 L195.6 198.3 L195.4 199.1 L195.2 200.0 M318.2 52.6 L317.4 52.8 L316.5 53.0 L315.7 53.3 L314.8 53.5 L314.0 53.7 L313.1 53.9 L312.3 54.2 L311.4 54.4 L310.6 54.6 L309.8 54.9 L308.9 55.1 L308.1 55.4 L307.3 55.6 L306.4 55.9 L305.6 56.2 L304.8 56.4 L303.9 56.7 L303.1 57.0 L302.3 57.3 L301.4 57.5 L300.6 57.8 L299.8 58.1 L299.0 58.4 L298.2 58.7 L297.3 59.0 L296.5 59.3 L295.7 59.7 L294.9 60.0 L294.1 60.3 L293.3 60.6 L292.4 60.9 L291.6 61.3 L290.8 61.6 L290.0 61.9 L289.2 62.3 L288.4 62.6 L287.6 63.0 L286.8 63.3 L286.0 63.7 L285.2 64.0 L284.4 64.4 L283.6 64.8 L282.8 65.1 L282.1 65.5 L281.3 65.9 L280.5 66.3 L279.7 66.7 L278.9 67.0 L278.1 67.4 L277.4 67.8 L276.6 68.2 L275.8 68.6 L275.0 69.0 L274.3 69.4 L273.5 69.8 L272.7 70.2 L271.9 70.7 L271.2 71.1 L270.4 71.5 L269.6 71.9 L268.9 72.3 L268.1 72.8 L267.4 73.2 L266.6 73.6 L265.8 74.1 L265.1 74.5 L264.3 74.9 L263.6 75.4 L262.8 75.8 L262.1 76.3 L261.3 76.7 L260.6 77.1 L259.8 77.6 L259.1 78.0 L258.3 78.5 L257.6 78.9 L256.8 79.4 L256.1 79.9 L255.3 80.3 L254.6 80.8 L253.8 81.2 L253.1 81.7 L252.4 82.2 L251.6 82.6 L250.9 83.1 L250.2 83.6 L249.4 84.1 L248.7 84.5 L248.0 85.0 L247.2 85.5 L246.5 86.0 L245.8 86.5 L245.1 87.0 L244.3 87.5 L243.6 88.0 L242.9 88.5 L242.2 89.0 L241.5 89.5 L240.8 90.0 L240.1 90.5 L239.4 91.0 L238.7 91.6 L238.0 92.1 L237.3 92.6 L236.6 93.2 L236.0 93.8 L235.3 94.3 L234.6 94.9 L234.0 95.5 L233.3 96.1 L232.7 96.7 L232.1 97.3 L231.4 97.9 L230.8 98.5 L230.2 99.1 L229.6 99.8 L229.0 100.4 L228.5 101.1 L227.9 101.8 L227.4 102.4 L226.8 103.1 L226.3 103.8 L225.8 104.5 L225.3 105.2 L224.8 106.0 L224.3 106.7 L223.8 107.4 L223.4 108.1 L222.9 108.9 L222.4 109.6 L222.0 110.4 L221.6 111.1 L221.1 111.9 L220.7 112.7 L220.3 113.4 L219.9 114.2 L219.5 115.0 L219.1 115.8 L218.7 116.6 L218.3 117.3 L217.9 118.1 L217.6 118.9 L217.2 119.7 L216.8 120.5 L216.5 121.3 L216.1 122.1 L215.8 122.9 L215.4 123.7 L215.1 124.5 L214.7 125.3 L214.4 126.1 L214.1 126.9 L213.7 127.7 L213.4 128.5 L213.1 129.4 L212.8 130.2 L212.4 131.0 L212.1 131.8 L211.8 132.6 L211.5 133.4 L211.2 134.2 L210.9 135.0 L210.5 135.9 L210.2 136.7 L209.9 137.5 L209.6 138.3 L209.3 139.1 L209.0 139.9 L208.6 140.8 L208.3 141.6 L208.0 142.4 L207.7 143.2 L207.4 144.0 L207.0 144.8 L206.7 145.6 L206.4 146.4 L206.0 147.2 L205.7 148.0 L205.3 148.8 L205.0 149.6 L204.7 150.4 L204.3 151.2 L204.0 152.0 L203.7 152.9 L203.4 153.7 L203.0 154.5 L202.7 155.3 L202.5 156.1 L202.2 157.0 L201.9 157.8 L201.7 158.6 L201.5 159.5 L201.2 160.3 L201.0 161.2 L200.8 162.0 L200.7 162.9 L200.5 163.7 L200.3 164.6 L200.2 165.4 L200.0 166.3 L199.9 167.2 L199.7 168.0 L199.6 168.9 L199.5 169.8 L199.3 170.6 L199.2 171.5 L199.1 172.4 L199.0 173.2 L198.9 174.1 L198.7 175.0 L198.6 175.8 L198.5 176.7 L198.4 177.6 L198.3 178.4 L198.2 179.3 L198.1 180.2 L198.0 181.0 L198.0 181.9 L197.9 182.8 L197.8 183.6 L197.7 184.5 L197.6 185.4 L197.5 186.2 L197.4 187.1 L197.3 188.0 L197.2 188.8 L197.1 189.7 L197.0 190.6 L196.9 191.5 L196.8 192.3 L196.5 193.1 L196.4 194.0 L196.2 194.8 L196.1 195.7 L195.9 196.6 L195.7 197.4 L195.6 198.3 L195.4 199.1 L195.2 200.0 M318.2 52.9 L317.4 53.2 L316.5 53.4 L315.7 53.6 L314.8 53.8 L314.0 54.0 L313.1 54.2 L312.3 54.5 L311.5 54.7 L310.6 55.0 L309.8 55.2 L309.0 55.4 L308.1 55.7 L307.3 56.0 L306.5 56.2 L305.6 56.5 L304.8 56.7 L304.0 57.0 L303.1 57.3 L302.3 57.6 L301.5 57.9 L300.7 58.2 L299.9 58.5 L299.0 58.8 L298.2 59.1 L297.4 59.4 L296.6 59.7 L295.8 60.0 L295.0 60.3 L294.2 60.6 L293.4 60.9 L292.5 61.3 L291.7 61.6 L290.9 62.0 L290.1 62.3 L289.3 62.6 L288.5 63.0 L287.7 63.4 L287.0 63.7 L286.2 64.1 L285.4 64.4 L284.6 64.8 L283.8 65.2 L283.0 65.5 L282.2 65.9 L281.4 66.3 L280.7 66.7 L279.9 67.1 L279.1 67.5 L278.3 67.9 L277.6 68.3 L276.8 68.7 L276.0 69.1 L275.2 69.5 L274.5 69.9 L273.7 70.3 L272.9 70.7 L272.2 71.2 L271.4 71.6 L270.7 72.0 L269.9 72.4 L269.1 72.9 L268.4 73.3 L267.6 73.7 L266.9 74.2 L266.1 74.6 L265.4 75.0 L264.6 75.5 L263.9 75.9 L263.1 76.4 L262.4 76.8 L261.6 77.3 L260.9 77.7 L260.1 78.2 L259.4 78.6 L258.6 79.1 L257.9 79.5 L257.2 80.0 L256.4 80.4 L255.7 80.9 L254.9 81.3 L254.2 81.8 L253.5 82.3 L252.7 82.7 L252.0 83.2 L251.3 83.7 L250.5 84.1 L249.8 84.6 L249.1 85.1 L248.3 85.6 L247.6 86.1 L246.9 86.5 L246.2 87.0 L245.4 87.5 L244.7 88.0 L244.0 88.5 L243.3 89.0 L242.6 89.5 L241.9 90.0 L241.2 90.5 L240.5 91.0 L239.8 91.5 L239.1 92.1 L238.4 92.6 L237.7 93.1 L237.0 93.7 L236.3 94.2 L235.7 94.8 L235.0 95.3 L234.3 95.9 L233.7 96.5 L233.0 97.1 L232.4 97.7 L231.8 98.3 L231.2 98.9 L230.6 99.5 L230.0 100.2 L229.4 100.8 L228.8 101.5 L228.3 102.2 L227.7 102.8 L227.2 103.5 L226.7 104.2 L226.2 104.9 L225.7 105.6 L225.2 106.4 L224.7 107.1 L224.2 107.8 L223.8 108.6 L223.3 109.3 L222.9 110.1 L222.4 110.8 L222.0 111.6 L221.6 112.3 L221.2 113.1 L220.8 113.9 L220.4 114.6 L220.0 115.4 L219.6 116.2 L219.2 117.0 L218.8 117.8 L218.4 118.5 L218.1 119.3 L217.7 120.1 L217.3 120.9 L217.0 121.7 L216.6 122.5 L216.3 123.3 L215.9 124.1 L215.6 124.9 L215.3 125.7 L214.9 126.5 L214.6 127.3 L214.3 128.1 L213.9 128.9 L213.6 129.7 L213.3 130.6 L213.0 131.4 L212.7 132.2 L212.3 133.0 L212.0 133.8 L211.7 134.6 L211.4 135.4 L211.1 136.2 L210.7 137.0 L210.4 137.9 L210.1 138.7 L209.8 139.5 L209.5 140.3 L209.1 141.1 L208.8 141.9 L208.5 142.7 L208.1 143.5 L207.8 144.3 L207.4 145.1 L207.1 145.9 L206.7 146.7 L206.4 147.5 L206.0 148.3 L205.7 149.1 L205.3 149.9 L205.0 150.7 L204.6 151.5 L204.3 152.3 L203.9 153.1 L203.6 153.9 L203.3 154.7 L203.0 155.5 L202.6 156.3 L202.4 157.1 L202.1 158.0 L201.8 158.8 L201.6 159.6 L201.4 160.5 L201.2 161.3 L201.0 162.2 L200.8 163.0 L200.6 163.9 L200.4 164.7 L200.3 165.6 L200.1 166.4 L200.0 167.3 L199.8 168.2 L199.7 169.0 L199.6 169.9 L199.4 170.7 L199.3 171.6 L199.2 172.5 L199.1 173.3 L199.0 174.2 L198.8 175.1 L198.7 175.9 L198.6 176.8 L198.5 177.6 L198.4 178.5 L198.3 179.4 L198.2 180.2 L198.1 181.1 L198.1 182.0 L198.0 182.8 L197.9 183.7 L197.8 184.6 L197.7 185.4 L197.6 186.3 L197.5 187.2 L197.4 188.0 L197.3 188.9 L197.2 189.8 L197.1 190.6 L197.0 191.5 L196.8 192.4 L196.6 193.2 L196.4 194.0 L196.2 194.9 L196.1 195.7 L195.9 196.6 L195.7 197.4 L195.6 198.3 L195.4 199.1 L195.2 200.0 M318.2 54.0 L317.4 54.2 L316.5 54.5 L315.7 54.7 L314.9 55.0 L314.1 55.2 L313.2 55.4 L312.4 55.7 L311.6 56.0 L310.8 56.2 L309.9 56.5 L309.1 56.7 L308.3 57.0 L307.5 57.3 L306.7 57.6 L305.9 57.8 L305.0 58.1 L304.2 58.4 L303.4 58.7 L302.6 59.0 L301.8 59.3 L301.0 59.6 L300.2 59.9 L299.4 60.2 L298.6 60.5 L297.8 60.8 L297.0 61.2 L296.2 61.5 L295.4 61.8 L294.6 62.1 L293.8 62.5 L293.0 62.8 L292.2 63.2 L291.4 63.5 L290.6 63.9 L289.8 64.2 L289.1 64.6 L288.3 64.9 L287.5 65.3 L286.7 65.6 L285.9 66.0 L285.1 66.4 L284.4 66.8 L283.6 67.1 L282.8 67.5 L282.1 67.9 L281.3 68.3 L280.5 68.7 L279.7 69.1 L279.0 69.5 L278.2 69.9 L277.5 70.3 L276.7 70.7 L275.9 71.1 L275.2 71.5 L274.4 71.9 L273.7 72.3 L272.9 72.8 L272.2 73.2 L271.4 73.6 L270.7 74.0 L269.9 74.5 L269.2 74.9 L268.4 75.3 L267.7 75.8 L266.9 76.2 L266.2 76.6 L265.4 77.1 L264.7 77.5 L264.0 78.0 L263.2 78.4 L262.5 78.9 L261.8 79.3 L261.0 79.8 L260.3 80.2 L259.6 80.7 L258.8 81.1 L258.1 81.6 L257.4 82.1 L256.6 82.5 L255.9 83.0 L255.2 83.5 L254.5 83.9 L253.7 84.4 L253.0 84.9 L252.3 85.4 L251.6 85.8 L250.9 86.3 L250.2 86.8 L249.4 87.3 L248.7 87.8 L248.0 88.3 L247.3 88.8 L246.6 89.2 L245.9 89.7 L245.2 90.2 L244.5 90.8 L243.8 91.3 L243.1 91.8 L242.4 92.3 L241.7 92.8 L241.1 93.3 L240.4 93.9 L239.7 94.4 L239.0 94.9 L238.4 95.5 L237.7 96.0 L237.0 96.6 L236.4 97.2 L235.7 97.7 L235.1 98.3 L234.5 98.9 L233.9 99.5 L233.2 100.1 L232.6 100.7 L232.0 101.3 L231.4 102.0 L230.9 102.6 L230.3 103.3 L229.7 103.9 L229.2 104.6 L228.6 105.3 L228.1 105.9 L227.6 106.6 L227.1 107.3 L226.6 108.0 L226.1 108.7 L225.6 109.4 L225.1 110.1 L224.6 110.9 L224.2 111.6 L223.7 112.3 L223.3 113.0 L222.8 113.8 L222.4 114.5 L222.0 115.3 L221.5 116.0 L221.1 116.8 L220.7 117.5 L220.3 118.3 L219.9 119.0 L219.5 119.8 L219.1 120.6 L218.7 121.3 L218.3 122.1 L217.9 122.9 L217.5 123.6 L217.2 124.4 L216.8 125.2 L216.4 126.0 L216.1 126.7 L215.7 127.5 L215.3 128.3 L215.0 129.1 L214.6 129.9 L214.3 130.7 L213.9 131.4 L213.6 132.2 L213.2 133.0 L212.9 133.8 L212.6 134.6 L212.2 135.4 L211.9 136.2 L211.5 137.0 L211.2 137.8 L210.9 138.6 L210.5 139.4 L210.2 140.2 L209.9 141.0 L209.5 141.7 L209.2 142.5 L208.8 143.3 L208.5 144.1 L208.2 144.9 L207.8 145.7 L207.5 146.5 L207.1 147.3 L206.8 148.1 L206.4 148.9 L206.1 149.6 L205.7 150.4 L205.4 151.2 L205.0 152.0 L204.7 152.8 L204.4 153.6 L204.0 154.4 L203.7 155.2 L203.4 156.0 L203.1 156.8 L202.8 157.6 L202.5 158.5 L202.3 159.3 L202.0 160.1 L201.8 160.9 L201.6 161.8 L201.4 162.6 L201.2 163.4 L201.0 164.3 L200.8 165.1 L200.6 166.0 L200.5 166.8 L200.3 167.7 L200.1 168.5 L200.0 169.4 L199.8 170.2 L199.7 171.1 L199.6 171.9 L199.4 172.8 L199.3 173.6 L199.2 174.5 L199.0 175.3 L198.9 176.2 L198.8 177.0 L198.7 177.9 L198.6 178.7 L198.5 179.6 L198.3 180.4 L198.2 181.3 L198.1 182.2 L198.0 183.0 L197.9 183.9 L197.8 184.7 L197.7 185.6 L197.6 186.4 L197.5 187.3 L197.4 188.2 L197.3 189.0 L197.2 189.9 L197.1 190.7 L197.0 191.6 L196.9 192.4 L196.6 193.2 L196.5 194.1 L196.3 194.9 L196.1 195.8 L195.9 196.6 L195.8 197.5 L195.6 198.3 L195.4 199.2 L195.3 200.0 M318.2 55.6 L317.4 55.8 L316.6 56.1 L315.8 56.4 L315.0 56.6 L314.2 56.9 L313.4 57.2 L312.6 57.5 L311.8 57.8 L311.0 58.1 L310.2 58.3 L309.4 58.6 L308.6 58.9 L307.8 59.2 L307.0 59.5 L306.2 59.8 L305.4 60.1 L304.6 60.5 L303.8 60.8 L303.0 61.1 L302.3 61.4 L301.5 61.7 L300.7 62.0 L299.9 62.4 L299.1 62.7 L298.3 63.0 L297.6 63.4 L296.8 63.7 L296.0 64.0 L295.2 64.4 L294.4 64.7 L293.7 65.1 L292.9 65.4 L292.1 65.8 L291.3 66.1 L290.6 66.5 L289.8 66.9 L289.0 67.2 L288.3 67.6 L287.5 68.0 L286.7 68.3 L286.0 68.7 L285.2 69.1 L284.5 69.5 L283.7 69.9 L282.9 70.3 L282.2 70.7 L281.4 71.0 L280.7 71.4 L279.9 71.8 L279.2 72.2 L278.4 72.6 L277.7 73.1 L276.9 73.5 L276.2 73.9 L275.5 74.3 L274.7 74.7 L274.0 75.1 L273.2 75.5 L272.5 76.0 L271.8 76.4 L271.0 76.8 L270.3 77.3 L269.6 77.7 L268.8 78.1 L268.1 78.6 L267.4 79.0 L266.7 79.5 L265.9 79.9 L265.2 80.4 L264.5 80.8 L263.8 81.3 L263.0 81.7 L262.3 82.2 L261.6 82.6 L260.9 83.1 L260.2 83.5 L259.5 84.0 L258.8 84.5 L258.1 85.0 L257.4 85.4 L256.6 85.9 L255.9 86.4 L255.2 86.9 L254.5 87.3 L253.8 87.8 L253.1 88.3 L252.5 88.8 L251.8 89.3 L251.1 89.8 L250.4 90.3 L249.7 90.8 L249.0 91.3 L248.3 91.8 L247.7 92.3 L247.0 92.8 L246.3 93.3 L245.6 93.9 L245.0 94.4 L244.3 94.9 L243.6 95.5 L243.0 96.0 L242.3 96.5 L241.7 97.1 L241.0 97.6 L240.4 98.2 L239.7 98.7 L239.1 99.3 L238.5 99.9 L237.8 100.4 L237.2 101.0 L236.6 101.6 L236.0 102.2 L235.4 102.8 L234.8 103.4 L234.2 104.0 L233.6 104.6 L233.0 105.2 L232.4 105.9 L231.9 106.5 L231.3 107.1 L230.8 107.8 L230.2 108.4 L229.7 109.1 L229.1 109.8 L228.6 110.4 L228.1 111.1 L227.6 111.8 L227.1 112.5 L226.6 113.1 L226.1 113.8 L225.6 114.5 L225.1 115.2 L224.6 115.9 L224.2 116.6 L223.7 117.3 L223.2 118.0 L222.8 118.8 L222.3 119.5 L221.9 120.2 L221.4 120.9 L221.0 121.6 L220.6 122.4 L220.1 123.1 L219.7 123.8 L219.3 124.5 L218.9 125.3 L218.4 126.0 L218.0 126.8 L217.6 127.5 L217.2 128.2 L216.8 129.0 L216.4 129.7 L216.0 130.5 L215.6 131.2 L215.2 132.0 L214.9 132.8 L214.5 133.5 L214.1 134.3 L213.7 135.0 L213.4 135.8 L213.0 136.6 L212.6 137.3 L212.3 138.1 L211.9 138.9 L211.5 139.6 L211.2 140.4 L210.8 141.2 L210.5 141.9 L210.1 142.7 L209.8 143.5 L209.4 144.3 L209.1 145.0 L208.7 145.8 L208.4 146.6 L208.0 147.4 L207.7 148.1 L207.3 148.9 L207.0 149.7 L206.6 150.5 L206.3 151.3 L206.0 152.0 L205.6 152.8 L205.3 153.6 L205.0 154.4 L204.7 155.2 L204.4 156.0 L204.1 156.8 L203.8 157.6 L203.5 158.4 L203.2 159.2 L203.0 160.0 L202.7 160.8 L202.5 161.6 L202.2 162.4 L202.0 163.3 L201.8 164.1 L201.6 164.9 L201.4 165.7 L201.2 166.6 L201.0 167.4 L200.8 168.2 L200.6 169.0 L200.4 169.9 L200.3 170.7 L200.1 171.5 L199.9 172.4 L199.8 173.2 L199.6 174.0 L199.5 174.9 L199.3 175.7 L199.2 176.6 L199.0 177.4 L198.9 178.2 L198.8 179.1 L198.6 179.9 L198.5 180.7 L198.4 181.6 L198.3 182.4 L198.1 183.3 L198.0 184.1 L197.9 185.0 L197.8 185.8 L197.7 186.6 L197.6 187.5 L197.5 188.3 L197.4 189.2 L197.3 190.0 L197.2 190.9 L197.1 191.7 L197.0 192.6 L196.7 193.4 L196.6 194.2 L196.4 195.0 L196.2 195.9 L196.0 196.7 L195.8 197.5 L195.6 198.3 L195.4 199.2 L195.2 200.0 M318.2 56.4 L317.4 56.6 L316.6 56.9 L315.8 57.2 L315.0 57.5 L314.2 57.8 L313.5 58.1 L312.7 58.4 L311.9 58.7 L311.1 59.0 L310.3 59.3 L309.5 59.6 L308.7 59.9 L308.0 60.2 L307.2 60.5 L306.4 60.9 L305.6 61.2 L304.8 61.5 L304.0 61.8 L303.3 62.2 L302.5 62.5 L301.7 62.8 L300.9 63.1 L300.2 63.5 L299.4 63.8 L298.6 64.2 L297.8 64.5 L297.1 64.8 L296.3 65.2 L295.5 65.5 L294.8 65.9 L294.0 66.2 L293.2 66.6 L292.5 67.0 L291.7 67.3 L291.0 67.7 L290.2 68.1 L289.4 68.4 L288.7 68.8 L287.9 69.2 L287.2 69.5 L286.4 69.9 L285.7 70.3 L284.9 70.7 L284.2 71.1 L283.4 71.5 L282.7 71.9 L281.9 72.3 L281.2 72.7 L280.4 73.1 L279.7 73.5 L278.9 73.9 L278.2 74.3 L277.5 74.7 L276.7 75.1 L276.0 75.5 L275.3 75.9 L274.5 76.3 L273.8 76.8 L273.1 77.2 L272.3 77.6 L271.6 78.0 L270.9 78.5 L270.2 78.9 L269.4 79.3 L268.7 79.8 L268.0 80.2 L267.3 80.7 L266.6 81.1 L265.8 81.6 L265.1 82.0 L264.4 82.5 L263.7 82.9 L263.0 83.4 L262.3 83.9 L261.6 84.3 L260.9 84.8 L260.2 85.3 L259.5 85.7 L258.8 86.2 L258.1 86.7 L257.4 87.2 L256.7 87.6 L256.0 88.1 L255.3 88.6 L254.6 89.1 L253.9 89.6 L253.3 90.1 L252.6 90.6 L251.9 91.1 L251.2 91.6 L250.6 92.1 L249.9 92.6 L249.2 93.1 L248.5 93.6 L247.9 94.2 L247.2 94.7 L246.6 95.2 L245.9 95.7 L245.3 96.3 L244.6 96.8 L243.9 97.3 L243.3 97.9 L242.7 98.4 L242.0 99.0 L241.4 99.5 L240.8 100.1 L240.1 100.7 L239.5 101.2 L238.9 101.8 L238.3 102.4 L237.7 103.0 L237.1 103.6 L236.5 104.2 L235.9 104.8 L235.3 105.4 L234.7 106.0 L234.1 106.6 L233.5 107.2 L233.0 107.8 L232.4 108.5 L231.9 109.1 L231.3 109.7 L230.8 110.4 L230.2 111.0 L229.7 111.7 L229.2 112.3 L228.6 113.0 L228.1 113.7 L227.6 114.3 L227.1 115.0 L226.6 115.7 L226.1 116.3 L225.6 117.0 L225.1 117.7 L224.6 118.4 L224.1 119.1 L223.6 119.8 L223.2 120.5 L222.7 121.2 L222.2 121.9 L221.8 122.6 L221.3 123.3 L220.9 124.0 L220.4 124.7 L220.0 125.4 L219.5 126.1 L219.1 126.9 L218.7 127.6 L218.2 128.3 L217.8 129.0 L217.4 129.8 L217.0 130.5 L216.6 131.2 L216.2 132.0 L215.7 132.7 L215.3 133.4 L214.9 134.2 L214.6 134.9 L214.2 135.7 L213.8 136.4 L213.4 137.2 L213.0 137.9 L212.6 138.7 L212.3 139.4 L211.9 140.2 L211.5 140.9 L211.1 141.7 L210.8 142.5 L210.4 143.2 L210.1 144.0 L209.7 144.7 L209.3 145.5 L209.0 146.3 L208.6 147.0 L208.3 147.8 L208.0 148.6 L207.6 149.4 L207.3 150.1 L206.9 150.9 L206.6 151.7 L206.3 152.5 L206.0 153.2 L205.6 154.0 L205.3 154.8 L205.0 155.6 L204.7 156.4 L204.4 157.2 L204.1 158.0 L203.8 158.8 L203.6 159.6 L203.3 160.4 L203.1 161.2 L202.8 162.0 L202.6 162.8 L202.3 163.6 L202.1 164.4 L201.9 165.2 L201.7 166.0 L201.5 166.9 L201.3 167.7 L201.1 168.5 L200.9 169.3 L200.7 170.1 L200.5 171.0 L200.3 171.8 L200.1 172.6 L200.0 173.4 L199.8 174.3 L199.6 175.1 L199.5 175.9 L199.3 176.7 L199.2 177.6 L199.0 178.4 L198.9 179.2 L198.7 180.1 L198.6 180.9 L198.5 181.7 L198.3 182.6 L198.2 183.4 L198.1 184.2 L198.0 185.1 L197.8 185.9 L197.7 186.7 L197.6 187.6 L197.5 188.4 L197.4 189.3 L197.3 190.1 L197.2 190.9 L197.1 191.8 L197.0 192.6 L196.8 193.4 L196.6 194.2 L196.4 195.1 L196.2 195.9 L196.0 196.7 L195.8 197.5 L195.6 198.4 L195.4 199.2 L195.2 200.0 M318.2 57.7 L317.4 58.1 L316.7 58.4 L315.9 58.7 L315.1 59.0 L314.4 59.3 L313.6 59.7 L312.8 60.0 L312.0 60.3 L311.3 60.6 L310.5 61.0 L309.8 61.3 L309.0 61.6 L308.2 62.0 L307.5 62.3 L306.7 62.6 L305.9 63.0 L305.2 63.3 L304.4 63.7 L303.7 64.0 L302.9 64.3 L302.1 64.7 L301.4 65.0 L300.6 65.4 L299.9 65.7 L299.1 66.1 L298.4 66.4 L297.6 66.8 L296.9 67.2 L296.1 67.5 L295.4 67.9 L294.6 68.3 L293.9 68.6 L293.1 69.0 L292.4 69.4 L291.6 69.7 L290.9 70.1 L290.1 70.5 L289.4 70.9 L288.6 71.2 L287.9 71.6 L287.2 72.0 L286.4 72.4 L285.7 72.8 L284.9 73.2 L284.2 73.6 L283.5 74.0 L282.7 74.4 L282.0 74.7 L281.3 75.1 L280.5 75.6 L279.8 76.0 L279.1 76.4 L278.4 76.8 L277.6 77.2 L276.9 77.6 L276.2 78.0 L275.5 78.4 L274.8 78.9 L274.0 79.3 L273.3 79.7 L272.6 80.1 L271.9 80.6 L271.2 81.0 L270.5 81.4 L269.8 81.9 L269.1 82.3 L268.4 82.8 L267.7 83.2 L266.9 83.7 L266.3 84.1 L265.6 84.6 L264.9 85.0 L264.2 85.5 L263.5 86.0 L262.8 86.4 L262.1 86.9 L261.4 87.4 L260.7 87.9 L260.0 88.3 L259.4 88.8 L258.7 89.3 L258.0 89.8 L257.3 90.3 L256.7 90.8 L256.0 91.3 L255.3 91.8 L254.7 92.3 L254.0 92.8 L253.4 93.3 L252.7 93.8 L252.0 94.4 L251.4 94.9 L250.7 95.4 L250.1 95.9 L249.5 96.5 L248.8 97.0 L248.2 97.5 L247.5 98.1 L246.9 98.6 L246.3 99.2 L245.7 99.7 L245.0 100.3 L244.4 100.8 L243.8 101.4 L243.2 101.9 L242.6 102.5 L241.9 103.1 L241.3 103.6 L240.7 104.2 L240.1 104.8 L239.5 105.4 L238.9 105.9 L238.4 106.5 L237.8 107.1 L237.2 107.7 L236.6 108.3 L236.0 108.9 L235.4 109.5 L234.9 110.1 L234.3 110.7 L233.7 111.3 L233.2 112.0 L232.6 112.6 L232.1 113.2 L231.5 113.8 L231.0 114.5 L230.4 115.1 L229.9 115.7 L229.3 116.4 L228.8 117.0 L228.3 117.6 L227.7 118.3 L227.2 118.9 L226.7 119.6 L226.2 120.2 L225.6 120.9 L225.1 121.5 L224.6 122.2 L224.1 122.9 L223.6 123.5 L223.1 124.2 L222.6 124.9 L222.2 125.6 L221.7 126.2 L221.2 126.9 L220.7 127.6 L220.2 128.3 L219.8 129.0 L219.3 129.7 L218.8 130.4 L218.4 131.1 L217.9 131.8 L217.5 132.5 L217.0 133.2 L216.6 133.9 L216.2 134.6 L215.7 135.3 L215.3 136.0 L214.9 136.7 L214.5 137.5 L214.1 138.2 L213.7 138.9 L213.3 139.6 L212.9 140.4 L212.5 141.1 L212.1 141.9 L211.7 142.6 L211.3 143.3 L210.9 144.1 L210.6 144.8 L210.2 145.6 L209.8 146.3 L209.5 147.1 L209.1 147.8 L208.8 148.6 L208.4 149.4 L208.1 150.1 L207.8 150.9 L207.5 151.6 L207.1 152.4 L206.8 153.2 L206.5 154.0 L206.2 154.7 L205.9 155.5 L205.6 156.3 L205.3 157.1 L205.0 157.9 L204.7 158.6 L204.5 159.4 L204.2 160.2 L203.9 161.0 L203.6 161.8 L203.4 162.6 L203.1 163.4 L202.9 164.2 L202.6 165.0 L202.4 165.8 L202.2 166.6 L201.9 167.4 L201.7 168.2 L201.5 169.0 L201.3 169.8 L201.1 170.6 L200.9 171.4 L200.7 172.2 L200.5 173.0 L200.3 173.8 L200.1 174.6 L199.9 175.5 L199.7 176.3 L199.5 177.1 L199.4 177.9 L199.2 178.7 L199.0 179.5 L198.9 180.4 L198.7 181.2 L198.6 182.0 L198.4 182.8 L198.3 183.6 L198.2 184.5 L198.0 185.3 L197.9 186.1 L197.8 186.9 L197.7 187.8 L197.6 188.6 L197.4 189.4 L197.3 190.2 L197.2 191.1 L197.1 191.9 L197.0 192.7 L196.9 193.5 L196.7 194.3 L196.5 195.2 L196.3 196.0 L196.1 196.8 L195.9 197.6 L195.7 198.4 L195.5 199.2 L195.2 200.0" fill="none" stroke="#000" stroke-width="1.0" stroke-opacity="1" stroke-linejoin="round"/>
<line x1="195.25" y1="188" x2="195.25" y2="226.5" stroke="#000" stroke-width="1.4"/>
<path d="M297.5 68 L297.5 59.2 L301.6 58 L301.6 66.6 Z M301.6 60.6 L309.6 57.4 L309.6 61 L301.6 64 M290.2 62.5 L290.2 70.5 M303 50.5 L303 47.6 M288 52 L288 49.5" fill="none" stroke="#000" stroke-width="1"/>
<rect x="70" y="12" width="250.6" height="214.5" fill="none" stroke="#000" stroke-width="1.2"/>
<line x1="64.5" y1="12" x2="70" y2="12" stroke="#000" stroke-width="1.2"/>
<path d="M0.283 0 L0.373 0 L0.373 -0.716 L0.312 -0.716 Q0.27 -0.63 0.109 -0.54 L0.109 -0.455 Q0.22 -0.505 0.283 -0.565 Z" fill="#000" transform="translate(26.14,20) scale(20.2,22.02)"/>
<text transform="translate(37.37,20) scale(1,1.09)" font-size="20.2" fill="#000">0</text>
<text transform="translate(48.8,8.6) scale(1,1.09)" font-size="12" fill="#000">-</text>
<path d="M0.283 0 L0.373 0 L0.373 -0.716 L0.312 -0.716 Q0.27 -0.63 0.109 -0.54 L0.109 -0.455 Q0.22 -0.505 0.283 -0.565 Z" fill="#000" transform="translate(52.8,8.6) scale(12,13.08)"/>
<line x1="66.5" y1="36.99" x2="70" y2="36.99" stroke="#000" stroke-width="1.2"/>
<line x1="66.5" y1="30.69" x2="70" y2="30.69" stroke="#000" stroke-width="1.2"/>
<line x1="66.5" y1="26.23" x2="70" y2="26.23" stroke="#000" stroke-width="1.2"/>
<line x1="66.5" y1="22.76" x2="70" y2="22.76" stroke="#000" stroke-width="1.2"/>
<line x1="66.5" y1="19.93" x2="70" y2="19.93" stroke="#000" stroke-width="1.2"/>
<line x1="66.5" y1="17.54" x2="70" y2="17.54" stroke="#000" stroke-width="1.2"/>
<line x1="66.5" y1="15.46" x2="70" y2="15.46" stroke="#000" stroke-width="1.2"/>
<line x1="66.5" y1="13.64" x2="70" y2="13.64" stroke="#000" stroke-width="1.2"/>
<line x1="64.5" y1="47.75" x2="70" y2="47.75" stroke="#000" stroke-width="1.2"/>
<path d="M0.283 0 L0.373 0 L0.373 -0.716 L0.312 -0.716 Q0.27 -0.63 0.109 -0.54 L0.109 -0.455 Q0.22 -0.505 0.283 -0.565 Z" fill="#000" transform="translate(26.14,55.75) scale(20.2,22.02)"/>
<text transform="translate(37.37,55.75) scale(1,1.09)" font-size="20.2" fill="#000">0</text>
<text transform="translate(48.8,44.35) scale(1,1.09)" font-size="12" fill="#000">-2</text>
<line x1="66.5" y1="72.74" x2="70" y2="72.74" stroke="#000" stroke-width="1.2"/>
<line x1="66.5" y1="66.44" x2="70" y2="66.44" stroke="#000" stroke-width="1.2"/>
<line x1="66.5" y1="61.98" x2="70" y2="61.98" stroke="#000" stroke-width="1.2"/>
<line x1="66.5" y1="58.51" x2="70" y2="58.51" stroke="#000" stroke-width="1.2"/>
<line x1="66.5" y1="55.68" x2="70" y2="55.68" stroke="#000" stroke-width="1.2"/>
<line x1="66.5" y1="53.29" x2="70" y2="53.29" stroke="#000" stroke-width="1.2"/>
<line x1="66.5" y1="51.21" x2="70" y2="51.21" stroke="#000" stroke-width="1.2"/>
<line x1="66.5" y1="49.39" x2="70" y2="49.39" stroke="#000" stroke-width="1.2"/>
<line x1="64.5" y1="83.5" x2="70" y2="83.5" stroke="#000" stroke-width="1.2"/>
<path d="M0.283 0 L0.373 0 L0.373 -0.716 L0.312 -0.716 Q0.27 -0.63 0.109 -0.54 L0.109 -0.455 Q0.22 -0.505 0.283 -0.565 Z" fill="#000" transform="translate(26.14,91.5) scale(20.2,22.02)"/>
<text transform="translate(37.37,91.5) scale(1,1.09)" font-size="20.2" fill="#000">0</text>
<text transform="translate(48.8,80.1) scale(1,1.09)" font-size="12" fill="#000">-3</text>
<line x1="66.5" y1="108.49" x2="70" y2="108.49" stroke="#000" stroke-width="1.2"/>
<line x1="66.5" y1="102.19" x2="70" y2="102.19" stroke="#000" stroke-width="1.2"/>
<line x1="66.5" y1="97.73" x2="70" y2="97.73" stroke="#000" stroke-width="1.2"/>
<line x1="66.5" y1="94.26" x2="70" y2="94.26" stroke="#000" stroke-width="1.2"/>
<line x1="66.5" y1="91.43" x2="70" y2="91.43" stroke="#000" stroke-width="1.2"/>
<line x1="66.5" y1="89.04" x2="70" y2="89.04" stroke="#000" stroke-width="1.2"/>
<line x1="66.5" y1="86.96" x2="70" y2="86.96" stroke="#000" stroke-width="1.2"/>
<line x1="66.5" y1="85.14" x2="70" y2="85.14" stroke="#000" stroke-width="1.2"/>
<line x1="64.5" y1="119.25" x2="70" y2="119.25" stroke="#000" stroke-width="1.2"/>
<path d="M0.283 0 L0.373 0 L0.373 -0.716 L0.312 -0.716 Q0.27 -0.63 0.109 -0.54 L0.109 -0.455 Q0.22 -0.505 0.283 -0.565 Z" fill="#000" transform="translate(26.14,127.25) scale(20.2,22.02)"/>
<text transform="translate(37.37,127.25) scale(1,1.09)" font-size="20.2" fill="#000">0</text>
<text transform="translate(48.8,115.85) scale(1,1.09)" font-size="12" fill="#000">-4</text>
<line x1="66.5" y1="144.24" x2="70" y2="144.24" stroke="#000" stroke-width="1.2"/>
<line x1="66.5" y1="137.94" x2="70" y2="137.94" stroke="#000" stroke-width="1.2"/>
<line x1="66.5" y1="133.48" x2="70" y2="133.48" stroke="#000" stroke-width="1.2"/>
<line x1="66.5" y1="130.01" x2="70" y2="130.01" stroke="#000" stroke-width="1.2"/>
<line x1="66.5" y1="127.18" x2="70" y2="127.18" stroke="#000" stroke-width="1.2"/>
<line x1="66.5" y1="124.79" x2="70" y2="124.79" stroke="#000" stroke-width="1.2"/>
<line x1="66.5" y1="122.71" x2="70" y2="122.71" stroke="#000" stroke-width="1.2"/>
<line x1="66.5" y1="120.89" x2="70" y2="120.89" stroke="#000" stroke-width="1.2"/>
<line x1="64.5" y1="155" x2="70" y2="155" stroke="#000" stroke-width="1.2"/>
<path d="M0.283 0 L0.373 0 L0.373 -0.716 L0.312 -0.716 Q0.27 -0.63 0.109 -0.54 L0.109 -0.455 Q0.22 -0.505 0.283 -0.565 Z" fill="#000" transform="translate(26.14,163) scale(20.2,22.02)"/>
<text transform="translate(37.37,163) scale(1,1.09)" font-size="20.2" fill="#000">0</text>
<text transform="translate(48.8,151.6) scale(1,1.09)" font-size="12" fill="#000">-5</text>
<line x1="66.5" y1="179.99" x2="70" y2="179.99" stroke="#000" stroke-width="1.2"/>
<line x1="66.5" y1="173.69" x2="70" y2="173.69" stroke="#000" stroke-width="1.2"/>
<line x1="66.5" y1="169.23" x2="70" y2="169.23" stroke="#000" stroke-width="1.2"/>
<line x1="66.5" y1="165.76" x2="70" y2="165.76" stroke="#000" stroke-width="1.2"/>
<line x1="66.5" y1="162.93" x2="70" y2="162.93" stroke="#000" stroke-width="1.2"/>
<line x1="66.5" y1="160.54" x2="70" y2="160.54" stroke="#000" stroke-width="1.2"/>
<line x1="66.5" y1="158.46" x2="70" y2="158.46" stroke="#000" stroke-width="1.2"/>
<line x1="66.5" y1="156.64" x2="70" y2="156.64" stroke="#000" stroke-width="1.2"/>
<line x1="64.5" y1="190.75" x2="70" y2="190.75" stroke="#000" stroke-width="1.2"/>
<path d="M0.283 0 L0.373 0 L0.373 -0.716 L0.312 -0.716 Q0.27 -0.63 0.109 -0.54 L0.109 -0.455 Q0.22 -0.505 0.283 -0.565 Z" fill="#000" transform="translate(26.14,198.75) scale(20.2,22.02)"/>
<text transform="translate(37.37,198.75) scale(1,1.09)" font-size="20.2" fill="#000">0</text>
<text transform="translate(48.8,187.35) scale(1,1.09)" font-size="12" fill="#000">-6</text>
<line x1="66.5" y1="215.74" x2="70" y2="215.74" stroke="#000" stroke-width="1.2"/>
<line x1="66.5" y1="209.44" x2="70" y2="209.44" stroke="#000" stroke-width="1.2"/>
<line x1="66.5" y1="204.98" x2="70" y2="204.98" stroke="#000" stroke-width="1.2"/>
<line x1="66.5" y1="201.51" x2="70" y2="201.51" stroke="#000" stroke-width="1.2"/>
<line x1="66.5" y1="198.68" x2="70" y2="198.68" stroke="#000" stroke-width="1.2"/>
<line x1="66.5" y1="196.29" x2="70" y2="196.29" stroke="#000" stroke-width="1.2"/>
<line x1="66.5" y1="194.21" x2="70" y2="194.21" stroke="#000" stroke-width="1.2"/>
<line x1="66.5" y1="192.39" x2="70" y2="192.39" stroke="#000" stroke-width="1.2"/>
<line x1="64.5" y1="226.5" x2="70" y2="226.5" stroke="#000" stroke-width="1.2"/>
<path d="M0.283 0 L0.373 0 L0.373 -0.716 L0.312 -0.716 Q0.27 -0.63 0.109 -0.54 L0.109 -0.455 Q0.22 -0.505 0.283 -0.565 Z" fill="#000" transform="translate(26.14,234.5) scale(20.2,22.02)"/>
<text transform="translate(37.37,234.5) scale(1,1.09)" font-size="20.2" fill="#000">0</text>
<text transform="translate(48.8,223.1) scale(1,1.09)" font-size="12" fill="#000">-7</text>
<line x1="72.3" y1="226.5" x2="72.3" y2="232.5" stroke="#000" stroke-width="1.2"/>
<text transform="translate(63.5,253.8) scale(1,1.11)" font-size="19.8" fill="#000">-5</text>
<line x1="96.89" y1="226.5" x2="96.89" y2="232.5" stroke="#000" stroke-width="1.2"/>
<text transform="translate(88.09,253.8) scale(1,1.11)" font-size="19.8" fill="#000">-4</text>
<line x1="121.48" y1="226.5" x2="121.48" y2="232.5" stroke="#000" stroke-width="1.2"/>
<text transform="translate(112.68,253.8) scale(1,1.11)" font-size="19.8" fill="#000">-3</text>
<line x1="146.07" y1="226.5" x2="146.07" y2="232.5" stroke="#000" stroke-width="1.2"/>
<text transform="translate(137.27,253.8) scale(1,1.11)" font-size="19.8" fill="#000">-2</text>
<line x1="170.66" y1="226.5" x2="170.66" y2="232.5" stroke="#000" stroke-width="1.2"/>
<text transform="translate(161.86,253.8) scale(1,1.11)" font-size="19.8" fill="#000">-</text>
<path d="M0.283 0 L0.373 0 L0.373 -0.716 L0.312 -0.716 Q0.27 -0.63 0.109 -0.54 L0.109 -0.455 Q0.22 -0.505 0.283 -0.565 Z" fill="#000" transform="translate(168.45,253.8) scale(19.8,21.98)"/>
<line x1="195.25" y1="226.5" x2="195.25" y2="232.5" stroke="#000" stroke-width="1.2"/>
<text transform="translate(189.75,253.8) scale(1,1.11)" font-size="19.8" fill="#000">0</text>
<line x1="219.84" y1="226.5" x2="219.84" y2="232.5" stroke="#000" stroke-width="1.2"/>
<path d="M0.283 0 L0.373 0 L0.373 -0.716 L0.312 -0.716 Q0.27 -0.63 0.109 -0.54 L0.109 -0.455 Q0.22 -0.505 0.283 -0.565 Z" fill="#000" transform="translate(214.34,253.8) scale(19.8,21.98)"/>
<line x1="244.43" y1="226.5" x2="244.43" y2="232.5" stroke="#000" stroke-width="1.2"/>
<text transform="translate(238.93,253.8) scale(1,1.11)" font-size="19.8" fill="#000">2</text>
<line x1="269.02" y1="226.5" x2="269.02" y2="232.5" stroke="#000" stroke-width="1.2"/>
<text transform="translate(263.52,253.8) scale(1,1.11)" font-size="19.8" fill="#000">3</text>
<line x1="293.61" y1="226.5" x2="293.61" y2="232.5" stroke="#000" stroke-width="1.2"/>
<text transform="translate(288.11,253.8) scale(1,1.11)" font-size="19.8" fill="#000">4</text>
<line x1="318.2" y1="226.5" x2="318.2" y2="232.5" stroke="#000" stroke-width="1.2"/>
<text transform="translate(312.7,253.8) scale(1,1.11)" font-size="19.8" fill="#000">5</text>
<line x1="84.59" y1="226.5" x2="84.59" y2="229.7" stroke="#000" stroke-width="1.2"/>
<line x1="109.19" y1="226.5" x2="109.19" y2="229.7" stroke="#000" stroke-width="1.2"/>
<line x1="133.78" y1="226.5" x2="133.78" y2="229.7" stroke="#000" stroke-width="1.2"/>
<line x1="158.37" y1="226.5" x2="158.37" y2="229.7" stroke="#000" stroke-width="1.2"/>
<line x1="182.96" y1="226.5" x2="182.96" y2="229.7" stroke="#000" stroke-width="1.2"/>
<line x1="207.54" y1="226.5" x2="207.54" y2="229.7" stroke="#000" stroke-width="1.2"/>
<line x1="232.13" y1="226.5" x2="232.13" y2="229.7" stroke="#000" stroke-width="1.2"/>
<line x1="256.73" y1="226.5" x2="256.73" y2="229.7" stroke="#000" stroke-width="1.2"/>
<line x1="281.31" y1="226.5" x2="281.31" y2="229.7" stroke="#000" stroke-width="1.2"/>
<line x1="305.9" y1="226.5" x2="305.9" y2="229.7" stroke="#000" stroke-width="1.2"/>
<text x="135.3" y="279.6" font-size="23" fill="#000" textLength="120.3" lengthAdjust="spacingAndGlyphs">Voltage (V)</text>
<text transform="translate(15.3,170.8) rotate(-90)" font-size="22" fill="#000" textLength="109.8" lengthAdjust="spacingAndGlyphs">Current (A)</text>
<text x="76.8" y="36.2" font-size="15.5" fill="#1818c8" textLength="53.1" lengthAdjust="spacingAndGlyphs">RESET</text>
<text x="137.6" y="53.5" font-size="20" fill="#1818c8">3</text>
<text x="256.9" y="50.1" font-size="20" fill="#1818c8">2</text>
<text x="260" y="103" font-size="15.5" fill="#1818c8" textLength="30.3" lengthAdjust="spacingAndGlyphs">SET</text>
<path d="M0.283 0 L0.373 0 L0.373 -0.716 L0.312 -0.716 Q0.27 -0.63 0.109 -0.54 L0.109 -0.455 Q0.22 -0.505 0.283 -0.565 Z" fill="#1818c8" transform="translate(230.6,147.9) scale(20,20)"/>
<text x="122.4" y="122.5" font-size="20" fill="#1818c8">4</text>
<line x1="133.4" y1="52.2" x2="120.5" y2="48.6" stroke="#800080" stroke-width="2.2"/>
<polygon points="111.7,46.3 121.2,40.2 121.4,52.6" fill="#800080" />
<line x1="252.4" y1="53.1" x2="244" y2="54.2" stroke="#800080" stroke-width="2.1"/>
<polygon points="236.8,56.5 242.1,46.8 247.9,58.6" fill="#800080" />
<path d="M244.6 129.6 Q249.5 124.5 251.4 118" fill="none" stroke="#800080" stroke-width="1.8"/>
<polygon points="253.4,110.1 246.6,118.7 259.9,119" fill="#800080" />
<line x1="127.6" y1="97.2" x2="138.3" y2="104.58" stroke="#800080" stroke-width="2.2"/>
<polygon points="145.3,109.4 134.21,108.74 140.74,99.27" fill="#800080" />
<text x="215.5" y="189.1" font-size="17.7" fill="#000" textLength="103.5" lengthAdjust="spacingAndGlyphs">SCO-with TE</text>
<text x="216.8" y="206.1" font-size="11" fill="#000" textLength="101" lengthAdjust="spacingAndGlyphs">(100&#956;m x 100 &#956;m)</text>
<text x="89.4" y="219.4" font-size="20" fill="#000" textLength="23.5" lengthAdjust="spacingAndGlyphs">(a)</text>
<polygon points="431.69,32.98 433.51,33.23 435.35,33.46 437.22,33.69 439.11,33.92 441.02,34.14 442.95,34.35 444.9,34.57 446.86,34.79 448.83,35.01 450.82,35.24 452.82,35.47 454.82,35.71 456.84,35.96 458.86,36.23 460.88,36.51 462.91,36.8 464.93,37.12 466.96,37.45 468.98,37.8 471,38.18 473.02,38.58 475.03,39.01 477.03,39.46 479.02,39.95 481,40.47 482.96,41.03 484.91,41.62 486.84,42.25 488.74,42.93 490.62,43.65 492.47,44.42 494.28,45.24 496.06,46.12 497.8,47.06 499.49,48.06 501.14,49.13 502.74,50.25 504.29,51.44 505.79,52.69 507.25,53.99 508.66,55.34 510.02,56.74 511.33,58.19 512.59,59.68 513.8,61.21 514.97,62.78 516.09,64.38 517.16,66.01 518.18,67.67 519.15,69.35 520.07,71.06 520.95,72.78 521.77,74.53 522.56,76.29 523.29,78.07 523.99,79.87 524.64,81.68 525.25,83.52 525.82,85.37 526.36,87.23 526.85,89.11 527.31,91 527.73,92.91 528.12,94.83 528.48,96.76 528.8,98.71 529.1,100.66 529.36,102.63 529.6,104.61 529.81,106.6 529.99,108.59 530.15,110.6 530.29,112.61 530.4,114.63 530.49,116.66 530.56,118.7 530.61,120.74 530.65,122.79 530.66,124.84 530.67,126.89 530.66,128.95 530.63,131.01 530.59,133.08 530.54,135.15 530.49,137.22 530.42,139.28 530.35,141.35 530.27,143.42 530.18,145.49 530.09,147.56 530,149.62 529.91,151.69 529.82,153.75 529.73,155.8 529.64,157.86 529.55,159.9 529.47,161.95 529.39,163.98 529.32,166.01 529.25,168.04 529.2,170.05 529.16,172.06 529.12,174.06 529.1,176.05 529.1,178.03 529.1,180 529.13,181.96 529.17,183.9 529.23,185.84 529.31,187.76 529.41,189.67 529.53,191.57 529.67,193.45 529.84,195.32 530.03,197.17 530.25,199.01 530.5,200.83 530.77,202.63 531.08,204.41 530.76,204.72 530.48,202.88 530.23,201.03 530,199.18 529.78,197.32 529.59,195.46 529.42,193.59 529.27,191.71 529.13,189.83 529.01,187.94 528.91,186.05 528.82,184.16 528.74,182.25 528.68,180.35 528.63,178.44 528.59,176.52 528.56,174.6 528.54,172.68 528.52,170.76 528.52,168.83 528.51,166.89 528.52,164.96 528.53,163.02 528.54,161.07 528.55,159.13 528.56,157.18 528.58,155.23 528.59,153.28 528.6,151.32 528.61,149.37 528.62,147.41 528.62,145.45 528.61,143.49 528.6,141.52 528.58,139.56 528.55,137.59 528.52,135.63 528.47,133.66 528.41,131.7 528.34,129.73 528.26,127.76 528.16,125.8 528.04,123.83 527.91,121.86 527.77,119.9 527.6,117.93 527.42,115.97 527.21,114 526.99,112.04 526.74,110.08 526.47,108.13 526.17,106.18 525.85,104.24 525.51,102.31 525.13,100.38 524.73,98.47 524.3,96.57 523.84,94.68 523.35,92.81 522.82,90.96 522.26,89.12 521.67,87.31 521.04,85.51 520.37,83.73 519.67,81.98 518.93,80.26 518.15,78.56 517.32,76.88 516.46,75.24 515.55,73.62 514.6,72.04 513.6,70.49 512.56,68.98 511.47,67.49 510.34,66.05 509.16,64.64 507.94,63.27 506.67,61.93 505.36,60.63 504.02,59.37 502.63,58.14 501.2,56.96 499.73,55.81 498.23,54.7 496.69,53.63 495.11,52.6 493.5,51.61 491.86,50.66 490.18,49.75 488.47,48.88 486.73,48.05 484.96,47.26 483.16,46.5 481.34,45.79 479.5,45.11 477.63,44.46 475.75,43.85 473.85,43.28 471.93,42.73 470,42.22 468.06,41.74 466.11,41.28 464.15,40.86 462.18,40.46 460.21,40.09 458.24,39.75 456.26,39.43 454.29,39.14 452.32,38.87 450.36,38.62 448.4,38.39 446.45,38.18 444.51,38 442.59,37.83 440.68,37.68 438.78,37.54 436.9,37.42 435.04,37.32 433.21,37.23 431.39,37.16" fill="#000" />
<polygon points="430.63,35.04 432.78,35.04 434.91,35.09 437.01,35.19 439.09,35.32 441.14,35.51 443.17,35.73 445.18,35.99 447.16,36.3 449.11,36.65 451.04,37.03 452.95,37.46 454.83,37.93 456.69,38.43 458.53,38.97 460.34,39.55 462.12,40.17 463.88,40.82 465.62,41.51 467.34,42.24 469.03,43 470.69,43.79 472.33,44.62 473.95,45.48 475.55,46.37 477.12,47.3 478.66,48.26 480.19,49.25 481.68,50.26 483.16,51.31 484.61,52.39 486.04,53.5 487.44,54.63 488.83,55.8 490.18,56.99 491.52,58.21 492.83,59.45 494.12,60.72 495.38,62.02 496.62,63.33 497.84,64.68 499.03,66.04 500.2,67.43 501.35,68.85 502.48,70.28 503.58,71.74 504.66,73.21 505.71,74.71 506.74,76.23 507.75,77.76 508.74,79.32 509.7,80.89 510.64,82.48 511.56,84.09 512.46,85.71 513.33,87.36 514.18,89.01 515.01,90.68 515.81,92.37 516.59,94.07 517.35,95.78 518.09,97.5 518.8,99.24 519.49,100.99 520.16,102.75 520.81,104.52 521.44,106.31 522.04,108.1 522.63,109.9 523.19,111.71 523.73,113.53 524.26,115.36 524.76,117.2 525.24,119.04 525.7,120.89 526.14,122.75 526.56,124.62 526.97,126.49 527.35,128.36 527.72,130.24 528.06,132.13 528.39,134.02 528.7,135.91 528.99,137.8 529.27,139.7 529.52,141.6 529.76,143.51 529.98,145.41 530.19,147.31 530.38,149.22 530.55,151.12 530.71,153.03 530.84,154.93 530.97,156.84 531.08,158.74 531.17,160.64 531.25,162.53 531.31,164.43 531.36,166.32 531.39,168.21 531.41,170.09 531.41,171.97 531.4,173.84 531.38,175.71 531.34,177.57 531.29,179.42 531.23,181.27 531.15,183.11 531.06,184.94 530.96,186.77 530.84,188.58 530.72,190.39 530.58,192.19 530.43,193.98 530.27,195.75 530.1,197.52 529.91,199.27 529.72,201.02 529.51,202.75 529.3,204.47 529.86,204.93 529.98,203.16 530.09,201.39 530.18,199.61 530.26,197.84 530.32,196.07 530.36,194.29 530.39,192.52 530.4,190.74 530.4,188.97 530.38,187.2 530.34,185.43 530.29,183.65 530.23,181.88 530.14,180.11 530.04,178.34 529.93,176.58 529.8,174.81 529.65,173.05 529.49,171.28 529.31,169.52 529.11,167.77 528.9,166.01 528.67,164.25 528.43,162.5 528.17,160.75 527.9,159 527.61,157.26 527.3,155.52 526.98,153.78 526.64,152.04 526.29,150.31 525.92,148.58 525.53,146.86 525.13,145.13 524.71,143.42 524.28,141.7 523.83,139.99 523.36,138.29 522.88,136.58 522.38,134.89 521.87,133.19 521.34,131.51 520.79,129.82 520.23,128.14 519.65,126.47 519.06,124.8 518.45,123.14 517.82,121.48 517.18,119.83 516.52,118.19 515.85,116.54 515.16,114.91 514.45,113.28 513.73,111.66 513,110.05 512.24,108.44 511.47,106.83 510.69,105.24 509.89,103.65 509.07,102.07 508.24,100.49 507.39,98.93 506.52,97.37 505.64,95.82 504.74,94.27 503.83,92.74 502.9,91.21 501.96,89.69 500.99,88.19 500.02,86.69 499.02,85.21 498.01,83.73 496.99,82.27 495.95,80.82 494.89,79.39 493.81,77.97 492.72,76.57 491.61,75.17 490.49,73.8 489.35,72.44 488.19,71.1 487.02,69.78 485.83,68.47 484.62,67.18 483.4,65.91 482.16,64.66 480.91,63.43 479.63,62.22 478.34,61.03 477.04,59.87 475.72,58.72 474.38,57.6 473.02,56.5 471.65,55.42 470.26,54.37 468.85,53.35 467.43,52.35 465.99,51.37 464.53,50.43 463.06,49.51 461.57,48.61 460.06,47.75 458.54,46.91 456.99,46.1 455.44,45.33 453.86,44.58 452.27,43.86 450.66,43.18 449.03,42.53 447.38,41.91 445.72,41.32 444.04,40.76 442.35,40.24 440.63,39.76 438.9,39.31 437.15,38.9 435.39,38.52 433.61,38.18 431.81,37.88" fill="#000" />
<polygon points="628.35,30.05 626.66,30.63 624.92,31.18 623.13,31.68 621.29,32.15 619.42,32.58 617.51,32.98 615.56,33.36 613.59,33.72 611.58,34.05 609.55,34.37 607.49,34.68 605.41,34.97 603.32,35.26 601.21,35.54 599.09,35.82 596.96,36.1 594.82,36.39 592.69,36.68 590.55,36.99 588.41,37.31 586.28,37.64 584.16,38 582.05,38.39 579.95,38.79 577.87,39.23 575.81,39.7 573.77,40.21 571.76,40.76 569.78,41.35 567.83,41.99 565.91,42.67 564.03,43.41 562.19,44.2 560.4,45.05 558.64,45.95 556.94,46.91 555.28,47.93 553.67,49 552.11,50.13 550.6,51.3 549.14,52.53 547.74,53.82 546.4,55.15 545.11,56.53 543.88,57.97 542.71,59.45 541.61,60.98 540.56,62.56 539.58,64.18 538.67,65.85 537.83,67.56 537.05,69.32 536.34,71.12 535.69,72.96 535.11,74.83 534.58,76.74 534.1,78.68 533.68,80.65 533.3,82.65 532.97,84.67 532.68,86.71 532.42,88.77 532.21,90.85 532.02,92.94 531.86,95.04 531.73,97.15 531.62,99.27 531.54,101.39 531.46,103.51 531.4,105.63 531.35,107.74 531.31,109.85 531.27,111.94 531.23,114.03 531.2,116.11 531.16,118.18 531.14,120.24 531.11,122.3 531.09,124.35 531.06,126.39 531.04,128.42 531.03,130.45 531.01,132.47 530.99,134.49 530.98,136.5 530.97,138.51 530.96,140.51 530.95,142.51 530.94,144.51 530.93,146.5 530.92,148.49 530.91,150.48 530.9,152.47 530.89,154.46 530.89,156.44 530.88,158.43 530.87,160.42 530.86,162.4 530.85,164.39 530.83,166.38 530.82,168.37 530.81,170.36 530.79,172.36 530.77,174.36 530.76,176.36 530.73,178.36 530.71,180.37 530.69,182.39 530.66,184.41 530.63,186.43 530.6,188.46 530.56,190.5 530.52,192.54 530.48,194.59 530.43,196.65 530.39,198.72 530.33,200.79 530.28,202.88 530.22,204.97 530.33,205.11 530.31,203.08 530.3,201.07 530.31,199.07 530.34,197.08 530.39,195.1 530.45,193.13 530.52,191.17 530.61,189.23 530.71,187.29 530.82,185.36 530.95,183.44 531.08,181.52 531.23,179.61 531.38,177.71 531.54,175.81 531.71,173.92 531.89,172.04 532.07,170.15 532.26,168.27 532.46,166.39 532.65,164.52 532.85,162.64 533.06,160.77 533.26,158.9 533.47,157.02 533.67,155.15 533.88,153.27 534.08,151.39 534.28,149.51 534.48,147.63 534.68,145.74 534.87,143.84 535.06,141.94 535.24,140.04 535.41,138.13 535.58,136.21 535.74,134.29 535.89,132.35 536.03,130.41 536.16,128.46 536.29,126.5 536.4,124.53 536.51,122.55 536.61,120.56 536.71,118.56 536.8,116.55 536.89,114.53 536.97,112.51 537.06,110.47 537.14,108.42 537.23,106.36 537.32,104.3 537.42,102.24 537.54,100.19 537.68,98.14 537.84,96.1 538.02,94.07 538.24,92.06 538.48,90.06 538.77,88.1 539.1,86.16 539.48,84.25 539.9,82.37 540.38,80.53 540.92,78.73 541.52,76.98 542.18,75.27 542.92,73.61 543.72,72.01 544.6,70.46 545.54,68.95 546.54,67.5 547.61,66.1 548.74,64.74 549.93,63.42 551.17,62.16 552.47,60.93 553.82,59.75 555.22,58.61 556.67,57.51 558.16,56.46 559.7,55.43 561.28,54.45 562.9,53.5 564.55,52.59 566.25,51.71 567.97,50.87 569.73,50.06 571.52,49.27 573.33,48.52 575.17,47.8 577.03,47.1 578.92,46.43 580.82,45.79 582.74,45.17 584.67,44.57 586.62,44 588.58,43.44 590.55,42.91 592.52,42.4 594.5,41.9 596.48,41.42 598.46,40.96 600.43,40.51 602.41,40.08 604.38,39.66 606.34,39.25 608.29,38.85 610.23,38.45 612.15,38.07 614.06,37.7 615.95,37.33 617.81,36.96 619.66,36.6 621.48,36.25 623.28,35.89 625.04,35.54 626.78,35.18 628.48,34.83" fill="#000" />
<polygon points="555.5,59 563.8,57.3 563.8,90 564.1,90.07 562.69,91.69 561.32,93.32 560,94.97 558.71,96.64 557.45,98.33 556.24,100.04 555.06,101.76 553.92,103.51 552.81,105.27 551.74,107.04 550.7,108.83 549.7,110.64 548.73,112.46 547.8,114.29 546.89,116.14 546.02,118 545.18,119.88 544.37,121.77 543.59,123.67 542.84,125.59 542.12,127.51 541.42,129.45 540.76,131.39 540.12,133.35 539.51,135.32 538.92,137.29 538.36,139.28 537.83,141.27 537.31,143.27 536.83,145.28 536.36,147.3 535.92,149.32 535.5,151.35 535.1,153.39 534.72,155.43 534.37,157.48 534.03,159.53 533.71,161.58 533.41,163.64 533.13,165.71 532.86,167.77 532.61,169.84 532.38,171.91 532.17,173.99 531.97,176.06 531.78,178.13 531.61,180.21 531.45,182.28 531.3,184.36 531.17,186.43 531.05,188.51 530.94,190.58 530.84,192.65 530.74,194.71 530.66,196.78 530.59,198.84 530.53,200.89 530.47,202.94 530.42,204.99 530.06,199.8 530.47,197.42 530.85,195.03 531.2,192.63 531.54,190.22 531.86,187.8 532.17,185.37 532.45,182.94 532.72,180.5 532.97,178.05 533.21,175.6 533.44,173.14 533.66,170.68 533.86,168.21 534.05,165.73 534.24,163.26 534.41,160.77 534.58,158.29 534.75,155.8 534.91,153.3 535.06,150.81 535.21,148.31 535.36,145.81 535.51,143.31 535.65,140.81 535.8,138.3 535.95,135.8 536.11,133.3 536.26,130.79 536.42,128.29 536.59,125.79 536.77,123.29 536.95,120.79 537.14,118.29 537.34,115.79 537.55,113.3 537.77,110.81 538.01,108.33 538.26,105.85 538.53,103.37 538.82,100.91 539.15,98.45 539.5,96.01 539.89,93.58 540.32,91.17 540.79,88.78 541.32,86.41 541.89,84.06 542.52,81.73 543.21,79.43 543.97,77.16 544.8,74.92 545.69,72.71 546.67,70.54 547.73,68.4 548.87,66.31 550.1,64.25 551.43,62.23 552.85,60.26 554.37,58.33" fill="#000" />
<polygon points="521.55,131.01 522.08,132.86 522.58,134.71 523.07,136.57 523.54,138.43 523.98,140.29 524.41,142.16 524.82,144.03 525.21,145.91 525.59,147.79 525.94,149.67 526.28,151.56 526.6,153.44 526.91,155.33 527.2,157.23 527.47,159.12 527.73,161.02 527.98,162.92 528.21,164.82 528.42,166.73 528.62,168.63 528.81,170.54 528.99,172.45 529.15,174.36 529.3,176.27 529.44,178.18 529.56,180.1 529.68,182.01 529.78,183.93 529.87,185.84 529.95,187.76 530.03,189.67 530.09,191.59 530.14,193.51 530.19,195.42 530.22,197.34 530.25,199.26 530.27,201.17 530.28,203.09 530.29,205 530.36,204.99 530.44,203.08 530.54,201.17 530.64,199.25 530.74,197.34 530.85,195.42 530.97,193.51 531.09,191.59 531.22,189.68 531.36,187.76 531.51,185.85 531.66,183.93 531.82,182.02 531.99,180.11 532.17,178.19 532.36,176.28 532.56,174.37 532.77,172.46 532.99,170.55 533.21,168.64 533.45,166.74 533.7,164.83 533.96,162.93 534.24,161.03 534.52,159.13 534.82,157.23 535.13,155.34 535.45,153.45 535.79,151.56 536.13,149.67 536.5,147.79 536.87,145.91 537.26,144.03 537.67,142.15 538.09,140.28 538.52,138.42 538.98,136.55 539.44,134.69 539.93,132.84 540.43,130.98 530.5,136" fill="#000" />
<line x1="563.9" y1="58" x2="563.9" y2="92" stroke="#777" stroke-width="1.4"/>
<path d="M552.5 66 Q546.5 84 541.5 106 M556.5 63 Q551 82 545.5 104 M549 78 Q545 92 543 101" fill="none" stroke="#fff" stroke-width="0.6" stroke-opacity="0.55"/>
<path d="M598 42.2 Q575 47 557 55.5 Q548 60.5 543.5 67" fill="none" stroke="#fff" stroke-width="0.6" stroke-opacity="0.6"/>
<path d="M440 35.3 Q475 39.5 500 50.6 Q510 56 515.5 65 Q520 73 523 82" fill="none" stroke="#fff" stroke-width="0.6" stroke-opacity="0.55"/>
<polygon points="529.6,185 531.4,185 530.5,230.1 530.1,230.1" fill="#000" />
<rect x="405.2" y="15.4" width="250.1" height="214.7" fill="none" stroke="#000" stroke-width="1.2"/>
<line x1="399.7" y1="15.4" x2="405.2" y2="15.4" stroke="#000" stroke-width="1.2"/>
<path d="M0.283 0 L0.373 0 L0.373 -0.716 L0.312 -0.716 Q0.27 -0.63 0.109 -0.54 L0.109 -0.455 Q0.22 -0.505 0.283 -0.565 Z" fill="#000" transform="translate(358.52,23.9) scale(20.4,22.03)"/>
<text transform="translate(369.86,23.9) scale(1,1.08)" font-size="20.4" fill="#000">0</text>
<text transform="translate(382.4,12.4) scale(1,1.08)" font-size="12" fill="#000">-</text>
<path d="M0.283 0 L0.373 0 L0.373 -0.716 L0.312 -0.716 Q0.27 -0.63 0.109 -0.54 L0.109 -0.455 Q0.22 -0.505 0.283 -0.565 Z" fill="#000" transform="translate(386.4,12.4) scale(12,12.96)"/>
<line x1="401.7" y1="40.41" x2="405.2" y2="40.41" stroke="#000" stroke-width="1.2"/>
<line x1="401.7" y1="34.11" x2="405.2" y2="34.11" stroke="#000" stroke-width="1.2"/>
<line x1="401.7" y1="29.64" x2="405.2" y2="29.64" stroke="#000" stroke-width="1.2"/>
<line x1="401.7" y1="26.17" x2="405.2" y2="26.17" stroke="#000" stroke-width="1.2"/>
<line x1="401.7" y1="23.34" x2="405.2" y2="23.34" stroke="#000" stroke-width="1.2"/>
<line x1="401.7" y1="20.94" x2="405.2" y2="20.94" stroke="#000" stroke-width="1.2"/>
<line x1="401.7" y1="18.87" x2="405.2" y2="18.87" stroke="#000" stroke-width="1.2"/>
<line x1="401.7" y1="17.04" x2="405.2" y2="17.04" stroke="#000" stroke-width="1.2"/>
<line x1="399.7" y1="51.18" x2="405.2" y2="51.18" stroke="#000" stroke-width="1.2"/>
<path d="M0.283 0 L0.373 0 L0.373 -0.716 L0.312 -0.716 Q0.27 -0.63 0.109 -0.54 L0.109 -0.455 Q0.22 -0.505 0.283 -0.565 Z" fill="#000" transform="translate(358.52,59.68) scale(20.4,22.03)"/>
<text transform="translate(369.86,59.68) scale(1,1.08)" font-size="20.4" fill="#000">0</text>
<text transform="translate(382.4,48.18) scale(1,1.08)" font-size="12" fill="#000">-2</text>
<line x1="401.7" y1="76.19" x2="405.2" y2="76.19" stroke="#000" stroke-width="1.2"/>
<line x1="401.7" y1="69.89" x2="405.2" y2="69.89" stroke="#000" stroke-width="1.2"/>
<line x1="401.7" y1="65.42" x2="405.2" y2="65.42" stroke="#000" stroke-width="1.2"/>
<line x1="401.7" y1="61.96" x2="405.2" y2="61.96" stroke="#000" stroke-width="1.2"/>
<line x1="401.7" y1="59.12" x2="405.2" y2="59.12" stroke="#000" stroke-width="1.2"/>
<line x1="401.7" y1="56.73" x2="405.2" y2="56.73" stroke="#000" stroke-width="1.2"/>
<line x1="401.7" y1="54.65" x2="405.2" y2="54.65" stroke="#000" stroke-width="1.2"/>
<line x1="401.7" y1="52.82" x2="405.2" y2="52.82" stroke="#000" stroke-width="1.2"/>
<line x1="399.7" y1="86.97" x2="405.2" y2="86.97" stroke="#000" stroke-width="1.2"/>
<path d="M0.283 0 L0.373 0 L0.373 -0.716 L0.312 -0.716 Q0.27 -0.63 0.109 -0.54 L0.109 -0.455 Q0.22 -0.505 0.283 -0.565 Z" fill="#000" transform="translate(358.52,95.47) scale(20.4,22.03)"/>
<text transform="translate(369.86,95.47) scale(1,1.08)" font-size="20.4" fill="#000">0</text>
<text transform="translate(382.4,83.97) scale(1,1.08)" font-size="12" fill="#000">-3</text>
<line x1="401.7" y1="111.98" x2="405.2" y2="111.98" stroke="#000" stroke-width="1.2"/>
<line x1="401.7" y1="105.68" x2="405.2" y2="105.68" stroke="#000" stroke-width="1.2"/>
<line x1="401.7" y1="101.21" x2="405.2" y2="101.21" stroke="#000" stroke-width="1.2"/>
<line x1="401.7" y1="97.74" x2="405.2" y2="97.74" stroke="#000" stroke-width="1.2"/>
<line x1="401.7" y1="94.91" x2="405.2" y2="94.91" stroke="#000" stroke-width="1.2"/>
<line x1="401.7" y1="92.51" x2="405.2" y2="92.51" stroke="#000" stroke-width="1.2"/>
<line x1="401.7" y1="90.43" x2="405.2" y2="90.43" stroke="#000" stroke-width="1.2"/>
<line x1="401.7" y1="88.6" x2="405.2" y2="88.6" stroke="#000" stroke-width="1.2"/>
<line x1="399.7" y1="122.75" x2="405.2" y2="122.75" stroke="#000" stroke-width="1.2"/>
<path d="M0.283 0 L0.373 0 L0.373 -0.716 L0.312 -0.716 Q0.27 -0.63 0.109 -0.54 L0.109 -0.455 Q0.22 -0.505 0.283 -0.565 Z" fill="#000" transform="translate(358.52,131.25) scale(20.4,22.03)"/>
<text transform="translate(369.86,131.25) scale(1,1.08)" font-size="20.4" fill="#000">0</text>
<text transform="translate(382.4,119.75) scale(1,1.08)" font-size="12" fill="#000">-4</text>
<line x1="401.7" y1="147.76" x2="405.2" y2="147.76" stroke="#000" stroke-width="1.2"/>
<line x1="401.7" y1="141.46" x2="405.2" y2="141.46" stroke="#000" stroke-width="1.2"/>
<line x1="401.7" y1="136.99" x2="405.2" y2="136.99" stroke="#000" stroke-width="1.2"/>
<line x1="401.7" y1="133.52" x2="405.2" y2="133.52" stroke="#000" stroke-width="1.2"/>
<line x1="401.7" y1="130.69" x2="405.2" y2="130.69" stroke="#000" stroke-width="1.2"/>
<line x1="401.7" y1="128.29" x2="405.2" y2="128.29" stroke="#000" stroke-width="1.2"/>
<line x1="401.7" y1="126.22" x2="405.2" y2="126.22" stroke="#000" stroke-width="1.2"/>
<line x1="401.7" y1="124.39" x2="405.2" y2="124.39" stroke="#000" stroke-width="1.2"/>
<line x1="399.7" y1="158.53" x2="405.2" y2="158.53" stroke="#000" stroke-width="1.2"/>
<path d="M0.283 0 L0.373 0 L0.373 -0.716 L0.312 -0.716 Q0.27 -0.63 0.109 -0.54 L0.109 -0.455 Q0.22 -0.505 0.283 -0.565 Z" fill="#000" transform="translate(358.52,167.03) scale(20.4,22.03)"/>
<text transform="translate(369.86,167.03) scale(1,1.08)" font-size="20.4" fill="#000">0</text>
<text transform="translate(382.4,155.53) scale(1,1.08)" font-size="12" fill="#000">-5</text>
<line x1="401.7" y1="183.54" x2="405.2" y2="183.54" stroke="#000" stroke-width="1.2"/>
<line x1="401.7" y1="177.24" x2="405.2" y2="177.24" stroke="#000" stroke-width="1.2"/>
<line x1="401.7" y1="172.77" x2="405.2" y2="172.77" stroke="#000" stroke-width="1.2"/>
<line x1="401.7" y1="169.31" x2="405.2" y2="169.31" stroke="#000" stroke-width="1.2"/>
<line x1="401.7" y1="166.47" x2="405.2" y2="166.47" stroke="#000" stroke-width="1.2"/>
<line x1="401.7" y1="164.08" x2="405.2" y2="164.08" stroke="#000" stroke-width="1.2"/>
<line x1="401.7" y1="162" x2="405.2" y2="162" stroke="#000" stroke-width="1.2"/>
<line x1="401.7" y1="160.17" x2="405.2" y2="160.17" stroke="#000" stroke-width="1.2"/>
<line x1="399.7" y1="194.32" x2="405.2" y2="194.32" stroke="#000" stroke-width="1.2"/>
<path d="M0.283 0 L0.373 0 L0.373 -0.716 L0.312 -0.716 Q0.27 -0.63 0.109 -0.54 L0.109 -0.455 Q0.22 -0.505 0.283 -0.565 Z" fill="#000" transform="translate(358.52,202.82) scale(20.4,22.03)"/>
<text transform="translate(369.86,202.82) scale(1,1.08)" font-size="20.4" fill="#000">0</text>
<text transform="translate(382.4,191.32) scale(1,1.08)" font-size="12" fill="#000">-6</text>
<line x1="401.7" y1="219.33" x2="405.2" y2="219.33" stroke="#000" stroke-width="1.2"/>
<line x1="401.7" y1="213.03" x2="405.2" y2="213.03" stroke="#000" stroke-width="1.2"/>
<line x1="401.7" y1="208.56" x2="405.2" y2="208.56" stroke="#000" stroke-width="1.2"/>
<line x1="401.7" y1="205.09" x2="405.2" y2="205.09" stroke="#000" stroke-width="1.2"/>
<line x1="401.7" y1="202.26" x2="405.2" y2="202.26" stroke="#000" stroke-width="1.2"/>
<line x1="401.7" y1="199.86" x2="405.2" y2="199.86" stroke="#000" stroke-width="1.2"/>
<line x1="401.7" y1="197.78" x2="405.2" y2="197.78" stroke="#000" stroke-width="1.2"/>
<line x1="401.7" y1="195.95" x2="405.2" y2="195.95" stroke="#000" stroke-width="1.2"/>
<line x1="399.7" y1="230.1" x2="405.2" y2="230.1" stroke="#000" stroke-width="1.2"/>
<path d="M0.283 0 L0.373 0 L0.373 -0.716 L0.312 -0.716 Q0.27 -0.63 0.109 -0.54 L0.109 -0.455 Q0.22 -0.505 0.283 -0.565 Z" fill="#000" transform="translate(358.52,238.6) scale(20.4,22.03)"/>
<text transform="translate(369.86,238.6) scale(1,1.08)" font-size="20.4" fill="#000">0</text>
<text transform="translate(382.4,227.1) scale(1,1.08)" font-size="12" fill="#000">-7</text>
<line x1="407.2" y1="230.1" x2="407.2" y2="236.1" stroke="#000" stroke-width="1.2"/>
<text transform="translate(398.22,257.5) scale(1,1.1)" font-size="20.2" fill="#000">-5</text>
<line x1="431.77" y1="230.1" x2="431.77" y2="236.1" stroke="#000" stroke-width="1.2"/>
<text transform="translate(422.79,257.5) scale(1,1.1)" font-size="20.2" fill="#000">-4</text>
<line x1="456.34" y1="230.1" x2="456.34" y2="236.1" stroke="#000" stroke-width="1.2"/>
<text transform="translate(447.36,257.5) scale(1,1.1)" font-size="20.2" fill="#000">-3</text>
<line x1="480.91" y1="230.1" x2="480.91" y2="236.1" stroke="#000" stroke-width="1.2"/>
<text transform="translate(471.93,257.5) scale(1,1.1)" font-size="20.2" fill="#000">-2</text>
<line x1="505.48" y1="230.1" x2="505.48" y2="236.1" stroke="#000" stroke-width="1.2"/>
<text transform="translate(496.5,257.5) scale(1,1.1)" font-size="20.2" fill="#000">-</text>
<path d="M0.283 0 L0.373 0 L0.373 -0.716 L0.312 -0.716 Q0.27 -0.63 0.109 -0.54 L0.109 -0.455 Q0.22 -0.505 0.283 -0.565 Z" fill="#000" transform="translate(503.23,257.5) scale(20.2,22.22)"/>
<line x1="530.05" y1="230.1" x2="530.05" y2="236.1" stroke="#000" stroke-width="1.2"/>
<text transform="translate(524.43,257.5) scale(1,1.1)" font-size="20.2" fill="#000">0</text>
<line x1="554.62" y1="230.1" x2="554.62" y2="236.1" stroke="#000" stroke-width="1.2"/>
<path d="M0.283 0 L0.373 0 L0.373 -0.716 L0.312 -0.716 Q0.27 -0.63 0.109 -0.54 L0.109 -0.455 Q0.22 -0.505 0.283 -0.565 Z" fill="#000" transform="translate(549,257.5) scale(20.2,22.22)"/>
<line x1="579.19" y1="230.1" x2="579.19" y2="236.1" stroke="#000" stroke-width="1.2"/>
<text transform="translate(573.57,257.5) scale(1,1.1)" font-size="20.2" fill="#000">2</text>
<line x1="603.76" y1="230.1" x2="603.76" y2="236.1" stroke="#000" stroke-width="1.2"/>
<text transform="translate(598.14,257.5) scale(1,1.1)" font-size="20.2" fill="#000">3</text>
<line x1="628.33" y1="230.1" x2="628.33" y2="236.1" stroke="#000" stroke-width="1.2"/>
<text transform="translate(622.71,257.5) scale(1,1.1)" font-size="20.2" fill="#000">4</text>
<line x1="652.9" y1="230.1" x2="652.9" y2="236.1" stroke="#000" stroke-width="1.2"/>
<text transform="translate(647.28,257.5) scale(1,1.1)" font-size="20.2" fill="#000">5</text>
<line x1="419.48" y1="230.1" x2="419.48" y2="233.3" stroke="#000" stroke-width="1.2"/>
<line x1="444.05" y1="230.1" x2="444.05" y2="233.3" stroke="#000" stroke-width="1.2"/>
<line x1="468.62" y1="230.1" x2="468.62" y2="233.3" stroke="#000" stroke-width="1.2"/>
<line x1="493.19" y1="230.1" x2="493.19" y2="233.3" stroke="#000" stroke-width="1.2"/>
<line x1="517.76" y1="230.1" x2="517.76" y2="233.3" stroke="#000" stroke-width="1.2"/>
<line x1="542.33" y1="230.1" x2="542.33" y2="233.3" stroke="#000" stroke-width="1.2"/>
<line x1="566.9" y1="230.1" x2="566.9" y2="233.3" stroke="#000" stroke-width="1.2"/>
<line x1="591.47" y1="230.1" x2="591.47" y2="233.3" stroke="#000" stroke-width="1.2"/>
<line x1="616.04" y1="230.1" x2="616.04" y2="233.3" stroke="#000" stroke-width="1.2"/>
<line x1="640.62" y1="230.1" x2="640.62" y2="233.3" stroke="#000" stroke-width="1.2"/>
<text x="470.2" y="287.3" font-size="23" fill="#000" textLength="121.3" lengthAdjust="spacingAndGlyphs">Voltage (V)</text>
<text transform="translate(350.2,178.3) rotate(-90)" font-size="22.5" fill="#000" textLength="116.8" lengthAdjust="spacingAndGlyphs">Current (A)</text>
<text x="408.8" y="31.7" font-size="15.5" fill="#1818c8" textLength="53" lengthAdjust="spacingAndGlyphs">RESET</text>
<text x="498.2" y="48.1" font-size="20" fill="#1818c8">3</text>
<text x="466.9" y="104" font-size="20" fill="#1818c8">4</text>
<text x="615.3" y="34.1" font-size="20" fill="#1818c8">2</text>
<text x="574.5" y="78.4" font-size="15.5" fill="#1818c8" textLength="30.3" lengthAdjust="spacingAndGlyphs">SET</text>
<path d="M0.283 0 L0.373 0 L0.373 -0.716 L0.312 -0.716 Q0.27 -0.63 0.109 -0.54 L0.109 -0.455 Q0.22 -0.505 0.283 -0.565 Z" fill="#1818c8" transform="translate(557.2,121.1) scale(20,20)"/>
<line x1="491.2" y1="37.7" x2="479.43" y2="34.09" stroke="#800080" stroke-width="2.2"/>
<polygon points="471.3,31.6 482.07,28.89 478.7,39.88" fill="#800080" />
<line x1="477" y1="81" x2="488.49" y2="88.89" stroke="#800080" stroke-width="2.2"/>
<polygon points="495.5,93.7 484.41,93.06 490.92,83.58" fill="#800080" />
<line x1="606.4" y1="27.7" x2="597.57" y2="28.41" stroke="#800080" stroke-width="2.2"/>
<polygon points="589.1,29.1 598.11,22.6 599.03,34.06" fill="#800080" />
<path d="M570.3 102.1 Q575.5 97 577.2 90" fill="none" stroke="#800080" stroke-width="2.2"/>
<polygon points="579.1,82.1 570.6,89 583.6,92.2" fill="#800080" />
<text x="545.9" y="192.2" font-size="18" fill="#000" textLength="108.5" lengthAdjust="spacingAndGlyphs">SCO-with tip</text>
<text x="565.1" y="212" font-size="12" fill="#000" textLength="68.2" lengthAdjust="spacingAndGlyphs">(r=0.5 &#956;m)</text>
<text x="427.6" y="221.3" font-size="20" fill="#000" textLength="24" lengthAdjust="spacingAndGlyphs">(b)</text>
<circle cx="114.7" cy="545.5" r="2.8" fill="none" stroke="#c87878" stroke-width="0.8"/>
<circle cx="116.38" cy="542.32" r="2.8" fill="none" stroke="#c87878" stroke-width="0.8"/>
<circle cx="117.94" cy="539.13" r="2.8" fill="none" stroke="#c87878" stroke-width="0.8"/>
<circle cx="119.18" cy="535.95" r="2.8" fill="none" stroke="#c87878" stroke-width="0.8"/>
<circle cx="120.42" cy="532.76" r="2.8" fill="none" stroke="#c87878" stroke-width="0.8"/>
<circle cx="121.58" cy="529.58" r="2.8" fill="none" stroke="#c87878" stroke-width="0.8"/>
<circle cx="122.22" cy="526.4" r="2.8" fill="none" stroke="#c87878" stroke-width="0.8"/>
<circle cx="122.86" cy="523.21" r="2.8" fill="none" stroke="#c87878" stroke-width="0.8"/>
<circle cx="123.49" cy="520.03" r="2.8" fill="none" stroke="#c87878" stroke-width="0.8"/>
<circle cx="125.05" cy="516.84" r="2.8" fill="none" stroke="#c87878" stroke-width="0.8"/>
<circle cx="126.61" cy="513.66" r="2.8" fill="none" stroke="#c87878" stroke-width="0.8"/>
<circle cx="128.17" cy="510.48" r="2.8" fill="none" stroke="#c87878" stroke-width="0.8"/>
<circle cx="128.93" cy="507.29" r="2.8" fill="none" stroke="#c87878" stroke-width="0.8"/>
<circle cx="129.55" cy="504.11" r="2.8" fill="none" stroke="#c87878" stroke-width="0.8"/>
<circle cx="130.17" cy="500.92" r="2.8" fill="none" stroke="#c87878" stroke-width="0.8"/>
<circle cx="130.79" cy="497.74" r="2.8" fill="none" stroke="#c87878" stroke-width="0.8"/>
<circle cx="131.41" cy="494.56" r="2.8" fill="none" stroke="#c87878" stroke-width="0.8"/>
<circle cx="132.03" cy="491.37" r="2.8" fill="none" stroke="#c87878" stroke-width="0.8"/>
<circle cx="132.36" cy="488.19" r="2.8" fill="none" stroke="#c87878" stroke-width="0.8"/>
<circle cx="132.47" cy="485" r="2.8" fill="none" stroke="#c87878" stroke-width="0.8"/>
<circle cx="132.57" cy="481.82" r="2.8" fill="none" stroke="#c87878" stroke-width="0.8"/>
<circle cx="132.68" cy="478.63" r="2.8" fill="none" stroke="#c87878" stroke-width="0.8"/>
<circle cx="132.78" cy="475.45" r="2.8" fill="none" stroke="#c87878" stroke-width="0.8"/>
<circle cx="132.89" cy="472.27" r="2.8" fill="none" stroke="#c87878" stroke-width="0.8"/>
<circle cx="133" cy="469.08" r="2.8" fill="none" stroke="#c87878" stroke-width="0.8"/>
<circle cx="133.1" cy="465.9" r="2.8" fill="none" stroke="#c87878" stroke-width="0.8"/>
<circle cx="133.21" cy="462.71" r="2.8" fill="none" stroke="#c87878" stroke-width="0.8"/>
<circle cx="133.35" cy="459.53" r="2.8" fill="none" stroke="#c87878" stroke-width="0.8"/>
<circle cx="133.65" cy="456.35" r="2.8" fill="none" stroke="#c87878" stroke-width="0.8"/>
<circle cx="133.96" cy="453.16" r="2.8" fill="none" stroke="#c87878" stroke-width="0.8"/>
<circle cx="134.27" cy="449.98" r="2.8" fill="none" stroke="#c87878" stroke-width="0.8"/>
<circle cx="134.58" cy="446.79" r="2.8" fill="none" stroke="#c87878" stroke-width="0.8"/>
<circle cx="134.88" cy="443.61" r="2.8" fill="none" stroke="#c87878" stroke-width="0.8"/>
<circle cx="135.19" cy="440.43" r="2.8" fill="none" stroke="#c87878" stroke-width="0.8"/>
<circle cx="135.5" cy="437.24" r="2.8" fill="none" stroke="#c87878" stroke-width="0.8"/>
<circle cx="135.81" cy="434.06" r="2.8" fill="none" stroke="#c87878" stroke-width="0.8"/>
<circle cx="136.12" cy="430.87" r="2.8" fill="none" stroke="#c87878" stroke-width="0.8"/>
<circle cx="136.42" cy="427.69" r="2.8" fill="none" stroke="#c87878" stroke-width="0.8"/>
<circle cx="136.71" cy="424.51" r="2.8" fill="none" stroke="#c87878" stroke-width="0.8"/>
<circle cx="137.01" cy="421.32" r="2.8" fill="none" stroke="#c87878" stroke-width="0.8"/>
<circle cx="137.31" cy="418.14" r="2.8" fill="none" stroke="#c87878" stroke-width="0.8"/>
<circle cx="137.6" cy="414.95" r="2.8" fill="none" stroke="#c87878" stroke-width="0.8"/>
<circle cx="137.9" cy="411.77" r="2.8" fill="none" stroke="#c87878" stroke-width="0.8"/>
<circle cx="138.2" cy="408.59" r="2.8" fill="none" stroke="#c87878" stroke-width="0.8"/>
<circle cx="138.5" cy="405.4" r="2.8" fill="none" stroke="#c87878" stroke-width="0.8"/>
<circle cx="138.79" cy="402.22" r="2.8" fill="none" stroke="#c87878" stroke-width="0.8"/>
<circle cx="139.07" cy="399.03" r="2.8" fill="none" stroke="#c87878" stroke-width="0.8"/>
<circle cx="139.31" cy="395.85" r="2.8" fill="none" stroke="#c87878" stroke-width="0.8"/>
<circle cx="139.55" cy="392.67" r="2.8" fill="none" stroke="#c87878" stroke-width="0.8"/>
<circle cx="139.79" cy="389.48" r="2.8" fill="none" stroke="#c87878" stroke-width="0.8"/>
<circle cx="140.03" cy="386.3" r="2.8" fill="none" stroke="#c87878" stroke-width="0.8"/>
<circle cx="140.27" cy="383.11" r="2.8" fill="none" stroke="#c87878" stroke-width="0.8"/>
<circle cx="140.51" cy="379.93" r="2.8" fill="none" stroke="#c87878" stroke-width="0.8"/>
<circle cx="140.74" cy="376.74" r="2.8" fill="none" stroke="#c87878" stroke-width="0.8"/>
<circle cx="140.98" cy="373.56" r="2.8" fill="none" stroke="#c87878" stroke-width="0.8"/>
<circle cx="142.68" cy="370.38" r="2.8" fill="none" stroke="#c87878" stroke-width="0.8"/>
<circle cx="145.09" cy="367.19" r="2.8" fill="none" stroke="#c87878" stroke-width="0.8"/>
<circle cx="145.44" cy="364.01" r="2.8" fill="none" stroke="#c87878" stroke-width="0.8"/>
<circle cx="145.8" cy="360.82" r="2.8" fill="none" stroke="#c87878" stroke-width="0.8"/>
<circle cx="146.15" cy="357.64" r="2.8" fill="none" stroke="#c87878" stroke-width="0.8"/>
<circle cx="146.5" cy="354.46" r="2.8" fill="none" stroke="#c87878" stroke-width="0.8"/>
<circle cx="146.86" cy="351.27" r="2.8" fill="none" stroke="#c87878" stroke-width="0.8"/>
<circle cx="147.12" cy="348.09" r="2.8" fill="none" stroke="#c87878" stroke-width="0.8"/>
<circle cx="147.32" cy="344.9" r="2.8" fill="none" stroke="#c87878" stroke-width="0.8"/>
<circle cx="147.51" cy="341.72" r="2.8" fill="none" stroke="#c87878" stroke-width="0.8"/>
<circle cx="147.71" cy="338.54" r="2.8" fill="none" stroke="#c87878" stroke-width="0.8"/>
<circle cx="147.91" cy="335.35" r="2.8" fill="none" stroke="#c87878" stroke-width="0.8"/>
<circle cx="148.11" cy="332.17" r="2.8" fill="none" stroke="#c87878" stroke-width="0.8"/>
<circle cx="148.3" cy="328.98" r="2.8" fill="none" stroke="#c87878" stroke-width="0.8"/>
<circle cx="148.5" cy="325.8" r="2.8" fill="none" stroke="#c87878" stroke-width="0.8"/>
<rect x="240.9" y="542.9" width="5.2" height="5.2" fill="none" stroke="#78bc78" stroke-width="0.8"/>
<rect x="241.12" y="539.41" width="5.2" height="5.2" fill="none" stroke="#78bc78" stroke-width="0.8"/>
<rect x="241.35" y="535.93" width="5.2" height="5.2" fill="none" stroke="#78bc78" stroke-width="0.8"/>
<rect x="241.57" y="532.44" width="5.2" height="5.2" fill="none" stroke="#78bc78" stroke-width="0.8"/>
<rect x="241.8" y="528.95" width="5.2" height="5.2" fill="none" stroke="#78bc78" stroke-width="0.8"/>
<rect x="242.08" y="525.46" width="5.2" height="5.2" fill="none" stroke="#78bc78" stroke-width="0.8"/>
<rect x="242.42" y="521.98" width="5.2" height="5.2" fill="none" stroke="#78bc78" stroke-width="0.8"/>
<rect x="242.75" y="518.49" width="5.2" height="5.2" fill="none" stroke="#78bc78" stroke-width="0.8"/>
<rect x="243.08" y="515" width="5.2" height="5.2" fill="none" stroke="#78bc78" stroke-width="0.8"/>
<rect x="243.41" y="511.51" width="5.2" height="5.2" fill="none" stroke="#78bc78" stroke-width="0.8"/>
<rect x="243.74" y="508.03" width="5.2" height="5.2" fill="none" stroke="#78bc78" stroke-width="0.8"/>
<rect x="244.23" y="504.54" width="5.2" height="5.2" fill="none" stroke="#78bc78" stroke-width="0.8"/>
<rect x="244.75" y="501.05" width="5.2" height="5.2" fill="none" stroke="#78bc78" stroke-width="0.8"/>
<rect x="245.28" y="497.57" width="5.2" height="5.2" fill="none" stroke="#78bc78" stroke-width="0.8"/>
<rect x="245.8" y="494.08" width="5.2" height="5.2" fill="none" stroke="#78bc78" stroke-width="0.8"/>
<rect x="246.32" y="490.59" width="5.2" height="5.2" fill="none" stroke="#78bc78" stroke-width="0.8"/>
<rect x="246.83" y="487.1" width="5.2" height="5.2" fill="none" stroke="#78bc78" stroke-width="0.8"/>
<rect x="247.16" y="483.62" width="5.2" height="5.2" fill="none" stroke="#78bc78" stroke-width="0.8"/>
<rect x="247.49" y="480.13" width="5.2" height="5.2" fill="none" stroke="#78bc78" stroke-width="0.8"/>
<rect x="247.82" y="476.64" width="5.2" height="5.2" fill="none" stroke="#78bc78" stroke-width="0.8"/>
<rect x="248.15" y="473.15" width="5.2" height="5.2" fill="none" stroke="#78bc78" stroke-width="0.8"/>
<rect x="248.48" y="469.67" width="5.2" height="5.2" fill="none" stroke="#78bc78" stroke-width="0.8"/>
<rect x="249.18" y="466.18" width="5.2" height="5.2" fill="none" stroke="#78bc78" stroke-width="0.8"/>
<rect x="250.54" y="462.69" width="5.2" height="5.2" fill="none" stroke="#78bc78" stroke-width="0.8"/>
<rect x="251.9" y="459.2" width="5.2" height="5.2" fill="none" stroke="#78bc78" stroke-width="0.8"/>
<rect x="253.42" y="455.72" width="5.2" height="5.2" fill="none" stroke="#78bc78" stroke-width="0.8"/>
<rect x="255.13" y="452.23" width="5.2" height="5.2" fill="none" stroke="#78bc78" stroke-width="0.8"/>
<rect x="256.84" y="448.74" width="5.2" height="5.2" fill="none" stroke="#78bc78" stroke-width="0.8"/>
<rect x="257.92" y="445.26" width="5.2" height="5.2" fill="none" stroke="#78bc78" stroke-width="0.8"/>
<rect x="258.6" y="441.77" width="5.2" height="5.2" fill="none" stroke="#78bc78" stroke-width="0.8"/>
<rect x="259.28" y="438.28" width="5.2" height="5.2" fill="none" stroke="#78bc78" stroke-width="0.8"/>
<rect x="259.96" y="434.79" width="5.2" height="5.2" fill="none" stroke="#78bc78" stroke-width="0.8"/>
<rect x="260.64" y="431.31" width="5.2" height="5.2" fill="none" stroke="#78bc78" stroke-width="0.8"/>
<rect x="261.32" y="427.82" width="5.2" height="5.2" fill="none" stroke="#78bc78" stroke-width="0.8"/>
<rect x="261.77" y="424.33" width="5.2" height="5.2" fill="none" stroke="#78bc78" stroke-width="0.8"/>
<rect x="262.19" y="420.84" width="5.2" height="5.2" fill="none" stroke="#78bc78" stroke-width="0.8"/>
<rect x="262.61" y="417.36" width="5.2" height="5.2" fill="none" stroke="#78bc78" stroke-width="0.8"/>
<rect x="263.13" y="413.87" width="5.2" height="5.2" fill="none" stroke="#78bc78" stroke-width="0.8"/>
<rect x="263.65" y="410.38" width="5.2" height="5.2" fill="none" stroke="#78bc78" stroke-width="0.8"/>
<rect x="264.18" y="406.9" width="5.2" height="5.2" fill="none" stroke="#78bc78" stroke-width="0.8"/>
<rect x="264.7" y="403.41" width="5.2" height="5.2" fill="none" stroke="#78bc78" stroke-width="0.8"/>
<rect x="265.22" y="399.92" width="5.2" height="5.2" fill="none" stroke="#78bc78" stroke-width="0.8"/>
<rect x="265.66" y="396.43" width="5.2" height="5.2" fill="none" stroke="#78bc78" stroke-width="0.8"/>
<rect x="265.88" y="392.95" width="5.2" height="5.2" fill="none" stroke="#78bc78" stroke-width="0.8"/>
<rect x="266.1" y="389.46" width="5.2" height="5.2" fill="none" stroke="#78bc78" stroke-width="0.8"/>
<rect x="266.32" y="385.97" width="5.2" height="5.2" fill="none" stroke="#78bc78" stroke-width="0.8"/>
<rect x="266.54" y="382.48" width="5.2" height="5.2" fill="none" stroke="#78bc78" stroke-width="0.8"/>
<rect x="266.77" y="379" width="5.2" height="5.2" fill="none" stroke="#78bc78" stroke-width="0.8"/>
<rect x="266.99" y="375.51" width="5.2" height="5.2" fill="none" stroke="#78bc78" stroke-width="0.8"/>
<rect x="267.21" y="372.02" width="5.2" height="5.2" fill="none" stroke="#78bc78" stroke-width="0.8"/>
<rect x="267.43" y="368.53" width="5.2" height="5.2" fill="none" stroke="#78bc78" stroke-width="0.8"/>
<rect x="267.84" y="365.05" width="5.2" height="5.2" fill="none" stroke="#78bc78" stroke-width="0.8"/>
<rect x="268.35" y="361.56" width="5.2" height="5.2" fill="none" stroke="#78bc78" stroke-width="0.8"/>
<rect x="268.85" y="358.07" width="5.2" height="5.2" fill="none" stroke="#78bc78" stroke-width="0.8"/>
<rect x="269.36" y="354.59" width="5.2" height="5.2" fill="none" stroke="#78bc78" stroke-width="0.8"/>
<rect x="269.86" y="351.1" width="5.2" height="5.2" fill="none" stroke="#78bc78" stroke-width="0.8"/>
<rect x="270.37" y="347.61" width="5.2" height="5.2" fill="none" stroke="#78bc78" stroke-width="0.8"/>
<rect x="271.38" y="344.12" width="5.2" height="5.2" fill="none" stroke="#78bc78" stroke-width="0.8"/>
<rect x="272.43" y="340.64" width="5.2" height="5.2" fill="none" stroke="#78bc78" stroke-width="0.8"/>
<rect x="273.49" y="337.15" width="5.2" height="5.2" fill="none" stroke="#78bc78" stroke-width="0.8"/>
<rect x="274.72" y="333.66" width="5.2" height="5.2" fill="none" stroke="#78bc78" stroke-width="0.8"/>
<rect x="276.05" y="330.17" width="5.2" height="5.2" fill="none" stroke="#78bc78" stroke-width="0.8"/>
<rect x="277.61" y="326.69" width="5.2" height="5.2" fill="none" stroke="#78bc78" stroke-width="0.8"/>
<rect x="280.2" y="323.2" width="5.2" height="5.2" fill="none" stroke="#78bc78" stroke-width="0.8"/>
<rect x="99.3" y="314.8" width="208.6" height="232.9" fill="none" stroke="#000" stroke-width="1.2"/>
<line x1="93.3" y1="547.7" x2="99.3" y2="547.7" stroke="#000" stroke-width="1.2"/>
<text transform="translate(76.02,554.1) scale(1,1.08)" font-size="21.9" fill="#000">0</text>
<line x1="93.3" y1="503.38" x2="99.3" y2="503.38" stroke="#000" stroke-width="1.2"/>
<text transform="translate(63.85,509.78) scale(1,1.08)" font-size="21.9" fill="#000">20</text>
<line x1="93.3" y1="459.06" x2="99.3" y2="459.06" stroke="#000" stroke-width="1.2"/>
<text transform="translate(63.85,465.46) scale(1,1.08)" font-size="21.9" fill="#000">40</text>
<line x1="93.3" y1="414.74" x2="99.3" y2="414.74" stroke="#000" stroke-width="1.2"/>
<text transform="translate(63.85,421.14) scale(1,1.08)" font-size="21.9" fill="#000">60</text>
<line x1="93.3" y1="370.42" x2="99.3" y2="370.42" stroke="#000" stroke-width="1.2"/>
<text transform="translate(63.85,376.82) scale(1,1.08)" font-size="21.9" fill="#000">80</text>
<line x1="93.3" y1="326.1" x2="99.3" y2="326.1" stroke="#000" stroke-width="1.2"/>
<path d="M0.283 0 L0.373 0 L0.373 -0.716 L0.312 -0.716 Q0.27 -0.63 0.109 -0.54 L0.109 -0.455 Q0.22 -0.505 0.283 -0.565 Z" fill="#000" transform="translate(51.67,332.5) scale(21.9,23.65)"/>
<text transform="translate(63.85,332.5) scale(1,1.08)" font-size="21.9" fill="#000">00</text>
<line x1="95.8" y1="525.54" x2="99.3" y2="525.54" stroke="#000" stroke-width="1.2"/>
<line x1="95.8" y1="481.22" x2="99.3" y2="481.22" stroke="#000" stroke-width="1.2"/>
<line x1="95.8" y1="436.9" x2="99.3" y2="436.9" stroke="#000" stroke-width="1.2"/>
<line x1="95.8" y1="392.58" x2="99.3" y2="392.58" stroke="#000" stroke-width="1.2"/>
<line x1="95.8" y1="348.26" x2="99.3" y2="348.26" stroke="#000" stroke-width="1.2"/>
<line x1="98.9" y1="547.7" x2="98.9" y2="553.7" stroke="#000" stroke-width="1.2"/>
<text transform="translate(89.17,575.6) scale(1,1.08)" font-size="21.9" fill="#000">-3</text>
<line x1="140.7" y1="547.7" x2="140.7" y2="553.7" stroke="#000" stroke-width="1.2"/>
<text transform="translate(130.97,575.6) scale(1,1.08)" font-size="21.9" fill="#000">-2</text>
<line x1="182.5" y1="547.7" x2="182.5" y2="553.7" stroke="#000" stroke-width="1.2"/>
<text transform="translate(172.77,575.6) scale(1,1.08)" font-size="21.9" fill="#000">-</text>
<path d="M0.283 0 L0.373 0 L0.373 -0.716 L0.312 -0.716 Q0.27 -0.63 0.109 -0.54 L0.109 -0.455 Q0.22 -0.505 0.283 -0.565 Z" fill="#000" transform="translate(180.06,575.6) scale(21.9,23.65)"/>
<line x1="224.3" y1="547.7" x2="224.3" y2="553.7" stroke="#000" stroke-width="1.2"/>
<text transform="translate(218.21,575.6) scale(1,1.08)" font-size="21.9" fill="#000">0</text>
<line x1="266.1" y1="547.7" x2="266.1" y2="553.7" stroke="#000" stroke-width="1.2"/>
<path d="M0.283 0 L0.373 0 L0.373 -0.716 L0.312 -0.716 Q0.27 -0.63 0.109 -0.54 L0.109 -0.455 Q0.22 -0.505 0.283 -0.565 Z" fill="#000" transform="translate(260.01,575.6) scale(21.9,23.65)"/>
<line x1="307.9" y1="547.7" x2="307.9" y2="553.7" stroke="#000" stroke-width="1.2"/>
<text transform="translate(301.81,575.6) scale(1,1.08)" font-size="21.9" fill="#000">2</text>
<line x1="119.8" y1="547.7" x2="119.8" y2="550.9" stroke="#000" stroke-width="1.2"/>
<line x1="161.6" y1="547.7" x2="161.6" y2="550.9" stroke="#000" stroke-width="1.2"/>
<line x1="203.4" y1="547.7" x2="203.4" y2="550.9" stroke="#000" stroke-width="1.2"/>
<line x1="245.2" y1="547.7" x2="245.2" y2="550.9" stroke="#000" stroke-width="1.2"/>
<line x1="287" y1="547.7" x2="287" y2="550.9" stroke="#000" stroke-width="1.2"/>
<text x="143" y="606.1" font-size="23" fill="#000" textLength="120.9" lengthAdjust="spacingAndGlyphs">Voltage (V)</text>
<text transform="translate(42.5,565.9) rotate(-90)" font-size="23.4" fill="#000" textLength="266.3" lengthAdjust="spacingAndGlyphs">Cumulative probability (%)</text>
<line x1="184.7" y1="481" x2="184.7" y2="523" stroke="#555" stroke-width="1"/>
<rect x="180.3" y="497.2" width="8.8" height="8.8" fill="#fff" stroke="#70b870" stroke-width="1"/>
<line x1="207.8" y1="481" x2="207.8" y2="523" stroke="#555" stroke-width="1"/>
<circle cx="207.8" cy="501.6" r="4.7" fill="#fff" stroke="#a03030" stroke-width="1"/>
<text transform="translate(191.4,481.2) rotate(-90)" font-size="18" fill="#118811" textLength="91.2" lengthAdjust="spacingAndGlyphs">Set Voltage</text>
<text transform="translate(214.2,475.7) rotate(-90)" font-size="18" fill="#880c0c" textLength="111.5" lengthAdjust="spacingAndGlyphs">Reset Voltage</text>
<text x="136.6" y="542.8" font-size="20.5" fill="#000" textLength="23.2" lengthAdjust="spacingAndGlyphs">(c)</text>
<polyline points="524.8,547.5 525.16,546.49 525.5,545.57 525.85,544.66 526.21,543.65 526.59,542.46 527,541 527.45,539.38 527.94,537.7 528.45,535.84 528.97,533.69 529.49,531.11 530,528 530.52,524.11 531.06,519.48 531.59,514.44 532.11,509.3 532.59,504.38 533,500 533.33,496.18 533.58,492.67 533.79,489.38 534,486.22 534.22,483.12 534.5,480 534.82,476.79 535.16,473.56 535.51,470.38 535.9,467.33 536.33,464.51 536.8,462 537.33,459.89 537.91,458.15 538.52,456.62 539.17,455.19 539.83,453.69 540.5,452 541.19,450.09 541.93,448.07 542.68,446 543.43,443.93 544.14,441.91 544.8,440 545.37,438.28 545.86,436.7 546.32,435.19 546.8,433.63 547.35,431.93 548,430 548.79,427.79 549.68,425.37 550.63,422.81 551.61,420.19 552.58,417.56 553.5,415 554.34,412.5 555.13,410 555.9,407.5 556.71,405 557.59,402.5 558.6,400 559.81,397.5 561.2,395 562.66,392.5 564.1,390 565.42,387.5 566.5,385 567.32,382.56 567.94,380.19 568.44,377.81 568.88,375.37 569.31,372.79 569.8,370 570.35,366.96 570.91,363.7 571.46,360.31 572,356.85 572.52,353.39 573,350 573.42,346.63 573.79,343.23 574.12,339.82 574.47,336.46 574.85,333.17 575.3,330 575.82,326.97 576.4,324.06 577.02,321.22 577.65,318.43 578.28,315.63 578.9,312.8" fill="none" stroke="#000" stroke-width="6.8" stroke-linejoin="round"/>
<polyline points="451.5,548 451.75,532.06 451.99,515.59 452.22,499.12 452.47,483.19 452.73,468.3 453,455 453.31,443.17 453.66,432.37 454.02,422.62 454.36,413.96 454.67,406.41 454.9,400 455.07,395.09 455.19,391.74 455.26,389.5 455.3,387.93 455.31,386.57 455.3,385 455.24,383.37 455.14,382.07 455,381 454.85,380.04 454.71,379.07 454.6,378 454.49,376.81 454.36,375.59 454.24,374.38 454.16,373.19 454.14,372.05 454.2,371 454.36,370.06 454.6,369.22 454.9,368.44 455.24,367.67 455.62,366.87 456,366 456.41,365.16 456.86,364.41 457.34,363.62 457.84,362.7 458.33,361.53 458.8,360 459.26,358.02 459.71,355.67 460.17,353.06 460.62,350.33 461.06,347.6 461.5,345 461.93,342.44 462.35,339.81 462.76,337.19 463.17,334.63 463.59,332.21 464,330 464.42,328.01 464.85,326.19 465.28,324.5 465.7,322.93 466.11,321.44 466.5,320 466.86,318.66 467.2,317.44 467.53,316.31 467.85,315.22 468.17,314.13 468.5,313" fill="none" stroke="#e82020" stroke-width="6.8" stroke-linejoin="round"/>
<polyline points="451.1,548 451.42,532.06 451.73,515.59 452.05,499.12 452.37,483.19 452.68,468.3 453,455 453.33,443.19 453.68,432.44 454.02,422.75 454.36,414.11 454.65,406.53 454.9,400 455.08,394.88 455.21,391.22 455.31,388.62 455.39,386.67 455.48,384.93 455.6,383 455.72,381.08 455.83,379.56 455.94,378.25 456.09,377 456.3,375.64 456.6,374 457.02,372.26 457.54,370.59 458.12,368.81 458.73,366.74 459.33,364.2 459.9,361 460.44,356.86 460.97,351.87 461.51,346.41 462.03,340.85 462.53,335.59 463,331 463.44,327.14 463.85,323.72 464.24,320.59 464.63,317.61 465.01,314.63 465.4,311.5" fill="none" stroke="#14148c" stroke-width="7.2" stroke-linejoin="round"/>
<polyline points="451.1,548 451.42,532.06 451.73,515.59 452.05,499.12 452.37,483.19 452.68,468.3 453,455 453.33,443.19 453.68,432.44 454.02,422.75 454.36,414.11 454.65,406.53 454.9,400 455.08,394.88 455.21,391.22 455.31,388.62 455.39,386.67 455.48,384.93 455.6,383 455.72,381.08 455.83,379.56 455.94,378.25 456.09,377 456.3,375.64 456.6,374 457.02,372.26 457.54,370.59 458.12,368.81 458.73,366.74 459.33,364.2 459.9,361 460.44,356.86 460.97,351.87 461.51,346.41 462.03,340.85 462.53,335.59 463,331 463.44,327.14 463.85,323.72 464.24,320.59 464.63,317.61 465.01,314.63 465.4,311.5" fill="none" stroke="#1c1cf0" stroke-width="5" stroke-linejoin="round"/>
<polyline points="529.7,546 529.94,543.5 530.17,541.19 530.4,538.88 530.64,536.37 530.9,533.48 531.2,530 531.55,525.69 531.95,520.67 532.37,515.25 532.79,509.78 533.17,504.58 533.5,500 533.76,496.15 533.97,492.78 534.14,489.69 534.31,486.67 534.49,483.51 534.7,480 534.95,476.01 535.21,471.67 535.49,467.19 535.77,462.78 536.05,458.65 536.3,455 536.5,451.86 536.66,449.07 536.81,446.56 536.99,444.26 537.24,442.09 537.6,440 538.08,438.1 538.65,436.48 539.29,435 539.99,433.52 540.73,431.9 541.5,430 542.33,427.79 543.23,425.37 544.18,422.81 545.14,420.19 546.09,417.56 547,415 547.84,412.56 548.64,410.19 549.43,407.81 550.23,405.37 551.08,402.79 552,400 553.06,396.84 554.25,393.33 555.49,389.69 556.68,386.11 557.75,382.81 558.6,380 559.17,377.87 559.53,376.3 559.75,375 559.94,373.7 560.19,372.13 560.6,370 561.2,367.25 561.93,364.07 562.72,360.62 563.5,357.04 564.22,353.45 564.8,350 565.2,346.63 565.45,343.23 565.63,339.82 565.82,336.46 566.08,333.17 566.5,330 567.09,326.97 567.79,324.06 568.58,321.22 569.4,318.43 570.22,315.63 571,312.8" fill="none" stroke="#f020f0" stroke-width="7" stroke-linejoin="round"/>
<rect x="431" y="309.8" width="214.5" height="239.3" fill="none" stroke="#000" stroke-width="1.2"/>
<line x1="424.5" y1="549.1" x2="431" y2="549.1" stroke="#000" stroke-width="1.2"/>
<text transform="translate(408.61,555.3) scale(1,1.11)" font-size="20.3" fill="#000">0</text>
<line x1="424.5" y1="502.16" x2="431" y2="502.16" stroke="#000" stroke-width="1.2"/>
<text transform="translate(397.33,508.36) scale(1,1.11)" font-size="20.3" fill="#000">20</text>
<line x1="424.5" y1="455.22" x2="431" y2="455.22" stroke="#000" stroke-width="1.2"/>
<text transform="translate(397.33,461.42) scale(1,1.11)" font-size="20.3" fill="#000">40</text>
<line x1="424.5" y1="408.28" x2="431" y2="408.28" stroke="#000" stroke-width="1.2"/>
<text transform="translate(397.33,414.48) scale(1,1.11)" font-size="20.3" fill="#000">60</text>
<line x1="424.5" y1="361.34" x2="431" y2="361.34" stroke="#000" stroke-width="1.2"/>
<text transform="translate(397.33,367.54) scale(1,1.11)" font-size="20.3" fill="#000">80</text>
<line x1="424.5" y1="314.4" x2="431" y2="314.4" stroke="#000" stroke-width="1.2"/>
<path d="M0.283 0 L0.373 0 L0.373 -0.716 L0.312 -0.716 Q0.27 -0.63 0.109 -0.54 L0.109 -0.455 Q0.22 -0.505 0.283 -0.565 Z" fill="#000" transform="translate(386.04,320.6) scale(20.3,22.53)"/>
<text transform="translate(397.33,320.6) scale(1,1.11)" font-size="20.3" fill="#000">00</text>
<line x1="427.5" y1="525.63" x2="431" y2="525.63" stroke="#000" stroke-width="1.2"/>
<line x1="427.5" y1="478.69" x2="431" y2="478.69" stroke="#000" stroke-width="1.2"/>
<line x1="427.5" y1="431.75" x2="431" y2="431.75" stroke="#000" stroke-width="1.2"/>
<line x1="427.5" y1="384.81" x2="431" y2="384.81" stroke="#000" stroke-width="1.2"/>
<line x1="427.5" y1="337.87" x2="431" y2="337.87" stroke="#000" stroke-width="1.2"/>
<line x1="431.06" y1="549.1" x2="431.06" y2="552.6" stroke="#000" stroke-width="1.2"/>
<line x1="436.2" y1="549.1" x2="436.2" y2="552.6" stroke="#000" stroke-width="1.2"/>
<line x1="440.55" y1="549.1" x2="440.55" y2="552.6" stroke="#000" stroke-width="1.2"/>
<line x1="444.31" y1="549.1" x2="444.31" y2="552.6" stroke="#000" stroke-width="1.2"/>
<line x1="447.63" y1="549.1" x2="447.63" y2="552.6" stroke="#000" stroke-width="1.2"/>
<line x1="450.6" y1="549.1" x2="450.6" y2="555.6" stroke="#000" stroke-width="1.2"/>
<line x1="470.14" y1="549.1" x2="470.14" y2="552.6" stroke="#000" stroke-width="1.2"/>
<line x1="481.57" y1="549.1" x2="481.57" y2="552.6" stroke="#000" stroke-width="1.2"/>
<line x1="489.67" y1="549.1" x2="489.67" y2="552.6" stroke="#000" stroke-width="1.2"/>
<line x1="495.96" y1="549.1" x2="495.96" y2="552.6" stroke="#000" stroke-width="1.2"/>
<line x1="501.1" y1="549.1" x2="501.1" y2="552.6" stroke="#000" stroke-width="1.2"/>
<line x1="505.45" y1="549.1" x2="505.45" y2="552.6" stroke="#000" stroke-width="1.2"/>
<line x1="509.21" y1="549.1" x2="509.21" y2="552.6" stroke="#000" stroke-width="1.2"/>
<line x1="512.53" y1="549.1" x2="512.53" y2="552.6" stroke="#000" stroke-width="1.2"/>
<line x1="515.5" y1="549.1" x2="515.5" y2="555.6" stroke="#000" stroke-width="1.2"/>
<line x1="535.04" y1="549.1" x2="535.04" y2="552.6" stroke="#000" stroke-width="1.2"/>
<line x1="546.47" y1="549.1" x2="546.47" y2="552.6" stroke="#000" stroke-width="1.2"/>
<line x1="554.57" y1="549.1" x2="554.57" y2="552.6" stroke="#000" stroke-width="1.2"/>
<line x1="560.86" y1="549.1" x2="560.86" y2="552.6" stroke="#000" stroke-width="1.2"/>
<line x1="566" y1="549.1" x2="566" y2="552.6" stroke="#000" stroke-width="1.2"/>
<line x1="570.35" y1="549.1" x2="570.35" y2="552.6" stroke="#000" stroke-width="1.2"/>
<line x1="574.11" y1="549.1" x2="574.11" y2="552.6" stroke="#000" stroke-width="1.2"/>
<line x1="577.43" y1="549.1" x2="577.43" y2="552.6" stroke="#000" stroke-width="1.2"/>
<line x1="580.4" y1="549.1" x2="580.4" y2="555.6" stroke="#000" stroke-width="1.2"/>
<line x1="599.94" y1="549.1" x2="599.94" y2="552.6" stroke="#000" stroke-width="1.2"/>
<line x1="611.37" y1="549.1" x2="611.37" y2="552.6" stroke="#000" stroke-width="1.2"/>
<line x1="619.47" y1="549.1" x2="619.47" y2="552.6" stroke="#000" stroke-width="1.2"/>
<line x1="625.76" y1="549.1" x2="625.76" y2="552.6" stroke="#000" stroke-width="1.2"/>
<line x1="630.9" y1="549.1" x2="630.9" y2="552.6" stroke="#000" stroke-width="1.2"/>
<line x1="635.25" y1="549.1" x2="635.25" y2="552.6" stroke="#000" stroke-width="1.2"/>
<line x1="639.01" y1="549.1" x2="639.01" y2="552.6" stroke="#000" stroke-width="1.2"/>
<line x1="642.33" y1="549.1" x2="642.33" y2="552.6" stroke="#000" stroke-width="1.2"/>
<line x1="645.3" y1="549.1" x2="645.3" y2="555.6" stroke="#000" stroke-width="1.2"/>
<path d="M0.283 0 L0.373 0 L0.373 -0.716 L0.312 -0.716 Q0.27 -0.63 0.109 -0.54 L0.109 -0.455 Q0.22 -0.505 0.283 -0.565 Z" fill="#000" transform="translate(435.81,580.3) scale(20.3,22.33)"/>
<text transform="translate(447.1,580.3) scale(1,1.1)" font-size="20.3" fill="#000">0</text>
<text transform="translate(458,569.8) scale(1,1.1)" font-size="12.5" fill="#000">2</text>
<path d="M0.283 0 L0.373 0 L0.373 -0.716 L0.312 -0.716 Q0.27 -0.63 0.109 -0.54 L0.109 -0.455 Q0.22 -0.505 0.283 -0.565 Z" fill="#000" transform="translate(500.71,580.3) scale(20.3,22.33)"/>
<text transform="translate(512,580.3) scale(1,1.1)" font-size="20.3" fill="#000">0</text>
<text transform="translate(522.9,569.8) scale(1,1.1)" font-size="12.5" fill="#000">3</text>
<path d="M0.283 0 L0.373 0 L0.373 -0.716 L0.312 -0.716 Q0.27 -0.63 0.109 -0.54 L0.109 -0.455 Q0.22 -0.505 0.283 -0.565 Z" fill="#000" transform="translate(565.61,580.3) scale(20.3,22.33)"/>
<text transform="translate(576.9,580.3) scale(1,1.1)" font-size="20.3" fill="#000">0</text>
<text transform="translate(587.8,569.8) scale(1,1.1)" font-size="12.5" fill="#000">4</text>
<path d="M0.283 0 L0.373 0 L0.373 -0.716 L0.312 -0.716 Q0.27 -0.63 0.109 -0.54 L0.109 -0.455 Q0.22 -0.505 0.283 -0.565 Z" fill="#000" transform="translate(630.51,580.3) scale(20.3,22.33)"/>
<text transform="translate(641.8,580.3) scale(1,1.1)" font-size="20.3" fill="#000">0</text>
<text transform="translate(652.7,569.8) scale(1,1.1)" font-size="12.5" fill="#000">5</text>
<text x="461.4" y="608" font-size="22.5" fill="#000" textLength="153.7" lengthAdjust="spacingAndGlyphs">Resistance (<tspan font-family="Liberation Serif">&#937;</tspan>)</text>
<text transform="translate(382.8,557.8) rotate(-90)" font-size="22.3" fill="#000" textLength="257.8" lengthAdjust="spacingAndGlyphs">Cumulative probability (%)</text>
<line x1="468.5" y1="442.4" x2="468.5" y2="477.6" stroke="#222" stroke-width="1"/>
<line x1="488.5" y1="442.4" x2="488.5" y2="477.6" stroke="#dd3030" stroke-width="1"/>
<line x1="507.9" y1="442.4" x2="507.9" y2="477.6" stroke="#6a6ae0" stroke-width="1"/>
<line x1="527.3" y1="442.4" x2="527.3" y2="477.6" stroke="#e060e0" stroke-width="1"/>
<rect x="464.2" y="455.2" width="9.6" height="9.4" fill="#333"/>
<circle cx="488.5" cy="459.8" r="5.3" fill="#ee2222"/>
<polygon points="507.9,452.7 501.8,463.6 514.2,463.6" fill="#2020ee" />
<polygon points="521.2,456.4 533.3,456.4 527.3,466.7" fill="#ee33ee" />
<text transform="translate(475.2,436.4) rotate(-90)" font-size="15" fill="#1c1c80" textLength="91.6" lengthAdjust="spacingAndGlyphs">Forward HRS</text>
<text transform="translate(494.5,436.4) rotate(-90)" font-size="15" fill="#e02020" textLength="99.4" lengthAdjust="spacingAndGlyphs">Backward LRS</text>
<text transform="translate(514,436.4) rotate(-90)" font-size="15" fill="#e02020" textLength="99.4" lengthAdjust="spacingAndGlyphs">Backward LRS</text>
<text transform="translate(534,436.4) rotate(-90)" font-size="15" fill="#1c1c80" textLength="102.4" lengthAdjust="spacingAndGlyphs">Backward HRS</text>
<text x="458.6" y="547.5" font-size="20" fill="#000" textLength="25" lengthAdjust="spacingAndGlyphs">(d)</text>
</svg></body></html>
